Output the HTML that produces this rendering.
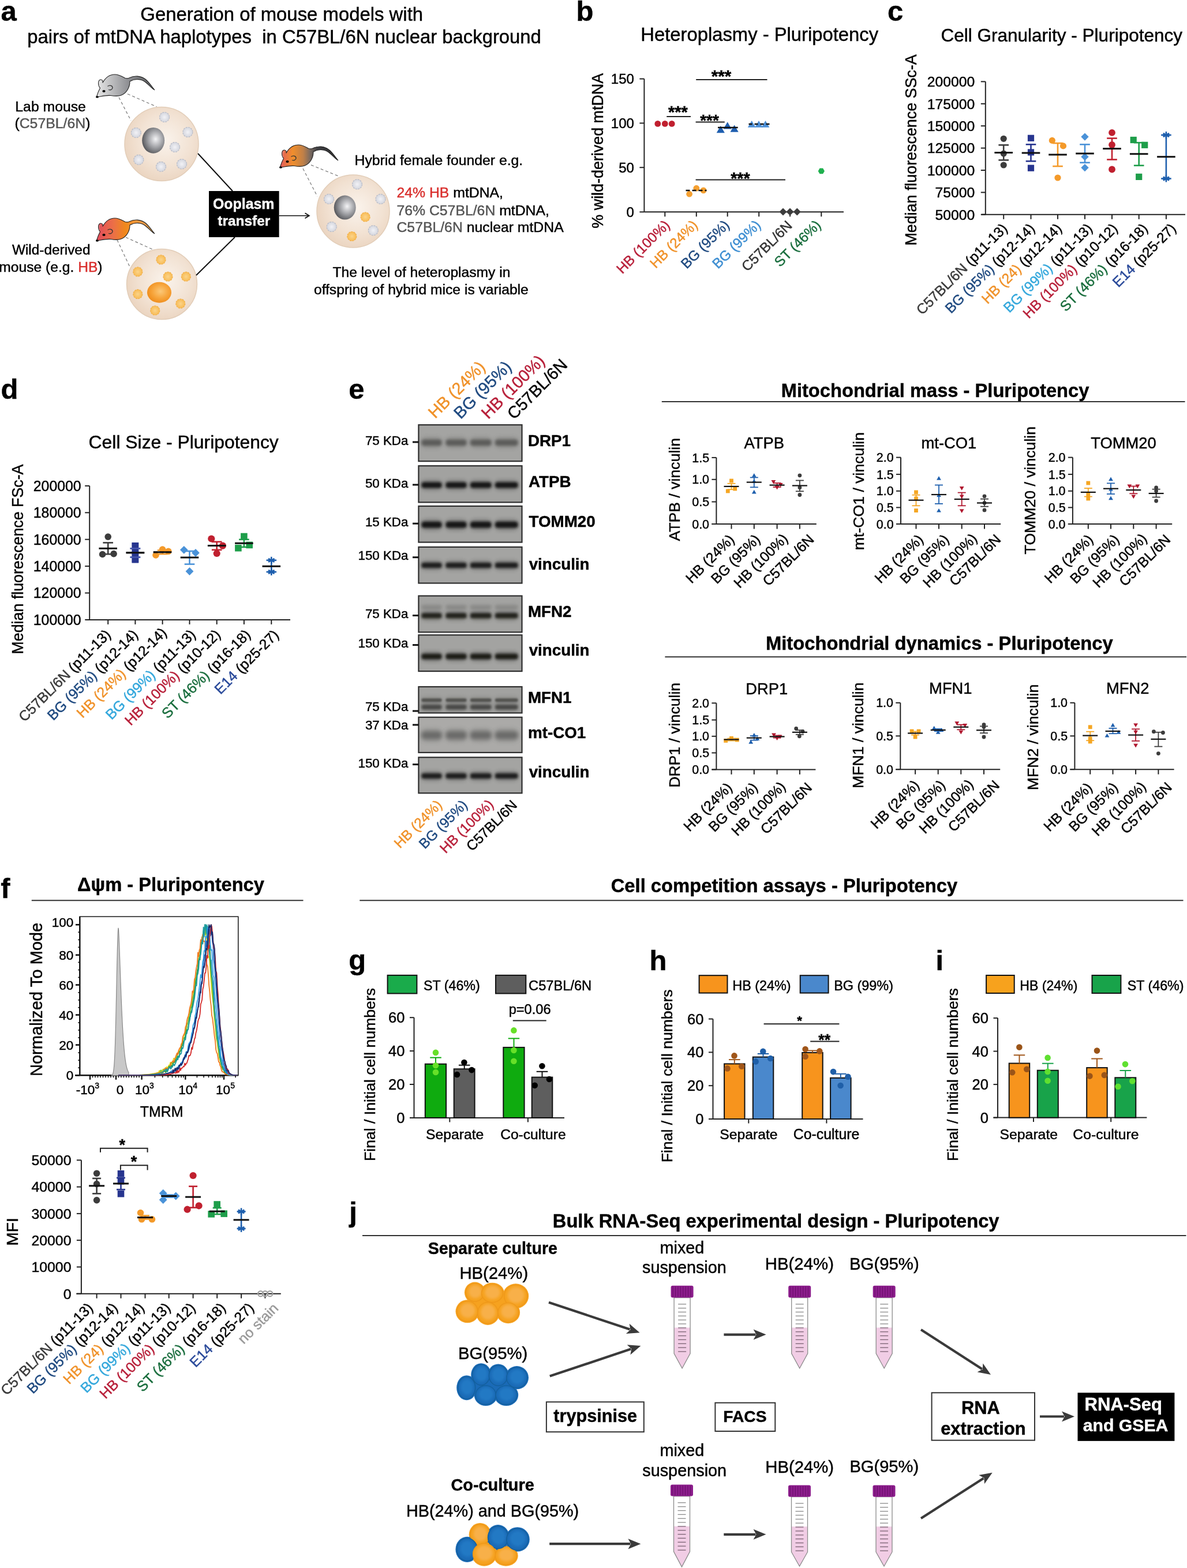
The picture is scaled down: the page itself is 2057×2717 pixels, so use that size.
<!DOCTYPE html>
<html><head><meta charset="utf-8"><title>Figure</title>
<style>
html,body{margin:0;padding:0;background:#fff;}
svg{display:block;}
svg text{font-family:"Liberation Sans", Arial, Helvetica, sans-serif;stroke-width:0.45px;}
</style></head>
<body>
<svg width="2057" height="2717" viewBox="0 0 2057 2717" font-family='"Liberation Sans", Arial, Helvetica, sans-serif'>
<rect width="2057" height="2717" fill="#fff"/>
<defs><linearGradient id="mouseGray" x1="0" y1="0" x2="1" y2="0"><stop offset="0" stop-color="#e8e8e8"/><stop offset="0.55" stop-color="#8e8f93"/><stop offset="1" stop-color="#5a5b5e"/></linearGradient><linearGradient id="mouseRed" x1="0" y1="0" x2="1" y2="0"><stop offset="0" stop-color="#e04a5c"/><stop offset="0.3" stop-color="#ec7046"/><stop offset="0.5" stop-color="#f0891c"/><stop offset="0.7" stop-color="#f4993e"/><stop offset="0.85" stop-color="#e49a4a"/><stop offset="1" stop-color="#a87838"/></linearGradient><linearGradient id="mouseHyb" x1="0" y1="0" x2="1" y2="0"><stop offset="0" stop-color="#e25a5e"/><stop offset="0.22" stop-color="#f08e2c"/><stop offset="0.4" stop-color="#c08048"/><stop offset="0.52" stop-color="#7a6a60"/><stop offset="0.64" stop-color="#404044"/><stop offset="1" stop-color="#2e2e2e"/></linearGradient><radialGradient id="cellG" cx="0.55" cy="0.45" r="0.6"><stop offset="0" stop-color="#faf3ec"/><stop offset="0.6" stop-color="#f2e2d3"/><stop offset="1" stop-color="#ead3be"/></radialGradient><radialGradient id="nucG" cx="0.6" cy="0.45" r="0.6"><stop offset="0" stop-color="#f4f4f6"/><stop offset="0.5" stop-color="#a7a8ac"/><stop offset="1" stop-color="#58595d"/></radialGradient><radialGradient id="nucO" cx="0.55" cy="0.45" r="0.6"><stop offset="0" stop-color="#fbc878"/><stop offset="0.55" stop-color="#f7a53c"/><stop offset="1" stop-color="#ee8a18"/></radialGradient><radialGradient id="mitoG" cx="0.5" cy="0.5" r="0.5"><stop offset="0" stop-color="#f2f2f6"/><stop offset="1" stop-color="#d4d6de"/></radialGradient><radialGradient id="mitoO" cx="0.5" cy="0.5" r="0.5"><stop offset="0" stop-color="#fbd48a"/><stop offset="1" stop-color="#f8bb55"/></radialGradient></defs>
<text x="1.43" y="35.80" font-size="49.00" font-weight="bold"  stroke="#000">a</text>
<text x="243.36" y="36.00" font-size="32.88"  stroke="#000">Generation of mouse models with</text>
<text x="47.37" y="74.60" font-size="32.84"  stroke="#000">pairs of mtDNA haplotypes  in C57BL/6N nuclear background</text>
<text x="26.36" y="192.50" font-size="24.76"  stroke="#000">Lab mouse</text>
<text x="25.45" y="222.00" font-size="24.82"  stroke="#000">(<tspan fill="#555" stroke="#555">C57BL/6N</tspan>)</text>
<text x="20.88" y="441.00" font-size="24.42"  stroke="#000">Wild-derived</text>
<text x="-1.66" y="471.00" font-size="24.61"  stroke="#000">mouse (e.g. <tspan fill="#d9302e" stroke="#d9302e">HB</tspan>)</text>
<line x1="206.0" y1="168.7" x2="226.9" y2="209.0" stroke="#777" stroke-width="1.2" stroke-dasharray="5 4"/>
<line x1="220.9" y1="162.7" x2="271.6" y2="185.0" stroke="#777" stroke-width="1.2" stroke-dasharray="5 4"/>
<line x1="203.0" y1="415.7" x2="225.4" y2="463.4" stroke="#777" stroke-width="1.2" stroke-dasharray="5 4"/>
<line x1="218.0" y1="411.2" x2="265.7" y2="432.7" stroke="#777" stroke-width="1.2" stroke-dasharray="5 4"/>
<line x1="525.0" y1="292.0" x2="549.9" y2="340.2" stroke="#777" stroke-width="1.2" stroke-dasharray="5 4"/>
<line x1="539.0" y1="285.9" x2="588.7" y2="306.0" stroke="#777" stroke-width="1.2" stroke-dasharray="5 4"/>
<g transform="translate(160,120)">
<path d="M7,48.5 C9,42 11,37 13.5,32.5 C9.5,28 9.5,19 14,18 C17,17.5 19,20 17.8,23.5 C23,14 30,9 39,9 C47,9 52,13 57,15.5 C61,16.5 63,15.5 64,15 C72,11 84,10 94,19 C99,24 104,31 108,36 C104,34 99,28 94,24 C86,16 74,16 65,21 C65,31 60,41 50,45 C44,47.5 38,46.5 32,45.5 C24,44.5 14,47.5 7,48.5 Z" fill="url(#mouseGray)" stroke="#222" stroke-width="1.1"/>
<path d="M12.5,30 C11,25 12,20.5 14.5,20.5" fill="none" stroke="#fff" stroke-opacity="0.35" stroke-width="1"/>
<ellipse cx="20" cy="38" rx="2.6" ry="2.1" fill="#000"/>
<ellipse cx="8.5" cy="48" rx="2.4" ry="1.8" fill="#000"/>
<path d="M26.5,29.5 C30,27 35,28 35,32 C35,35.5 31,36.5 28,35.5" fill="none" stroke="#333" stroke-width="1.3"/>
</g>
<g transform="translate(160,369)">
<path d="M7,48.5 C9,42 11,37 13.5,32.5 C9.5,28 9.5,19 14,18 C17,17.5 19,20 17.8,23.5 C23,14 30,9 39,9 C47,9 52,13 57,15.5 C61,16.5 63,15.5 64,15 C72,11 84,10 94,19 C99,24 104,31 108,36 C104,34 99,28 94,24 C86,16 74,16 65,21 C65,31 60,41 50,45 C44,47.5 38,46.5 32,45.5 C24,44.5 14,47.5 7,48.5 Z" fill="url(#mouseRed)" stroke="#222" stroke-width="1.1"/>
<path d="M12.5,30 C11,25 12,20.5 14.5,20.5" fill="none" stroke="#fff" stroke-opacity="0.35" stroke-width="1"/>
<ellipse cx="20" cy="38" rx="2.6" ry="2.1" fill="#000"/>
<ellipse cx="8.5" cy="48" rx="2.4" ry="1.8" fill="#000"/>
<path d="M26.5,29.5 C30,27 35,28 35,32 C35,35.5 31,36.5 28,35.5" fill="none" stroke="#333" stroke-width="1.3"/>
</g>
<g transform="translate(478,242)">
<path d="M7,48.5 C9,42 11,37 13.5,32.5 C9.5,28 9.5,19 14,18 C17,17.5 19,20 17.8,23.5 C23,14 30,9 39,9 C47,9 52,13 57,15.5 C61,16.5 63,15.5 64,15 C72,11 84,10 94,19 C99,24 104,31 108,36 C104,34 99,28 94,24 C86,16 74,16 65,21 C65,31 60,41 50,45 C44,47.5 38,46.5 32,45.5 C24,44.5 14,47.5 7,48.5 Z" fill="url(#mouseHyb)" stroke="#222" stroke-width="1.1"/>
<path d="M12.5,30 C11,25 12,20.5 14.5,20.5" fill="none" stroke="#fff" stroke-opacity="0.35" stroke-width="1"/>
<ellipse cx="20" cy="38" rx="2.6" ry="2.1" fill="#000"/>
<ellipse cx="8.5" cy="48" rx="2.4" ry="1.8" fill="#000"/>
<path d="M26.5,29.5 C30,27 35,28 35,32 C35,35.5 31,36.5 28,35.5" fill="none" stroke="#333" stroke-width="1.3"/>
</g>
<circle cx="280" cy="249.5" r="64" fill="url(#cellG)" stroke="#e2cdb8" stroke-width="1.5"/>
<ellipse cx="265.7" cy="243.3" rx="19.5" ry="22.4" fill="url(#nucG)"/>
<circle cx="285" cy="203" r="8.5" fill="url(#mitoG)" stroke="#b8bcc8" stroke-width="1.2" stroke-dasharray="3 1.5"/>
<circle cx="235.8" cy="230" r="8.5" fill="url(#mitoG)" stroke="#b8bcc8" stroke-width="1.2" stroke-dasharray="3 1.5"/>
<circle cx="325.4" cy="229" r="8.5" fill="url(#mitoG)" stroke="#b8bcc8" stroke-width="1.2" stroke-dasharray="3 1.5"/>
<circle cx="303" cy="255" r="8.5" fill="url(#mitoG)" stroke="#b8bcc8" stroke-width="1.2" stroke-dasharray="3 1.5"/>
<circle cx="240.3" cy="276.9" r="8.5" fill="url(#mitoG)" stroke="#b8bcc8" stroke-width="1.2" stroke-dasharray="3 1.5"/>
<circle cx="279" cy="288.8" r="8.5" fill="url(#mitoG)" stroke="#b8bcc8" stroke-width="1.2" stroke-dasharray="3 1.5"/>
<circle cx="315" cy="284.3" r="8.5" fill="url(#mitoG)" stroke="#b8bcc8" stroke-width="1.2" stroke-dasharray="3 1.5"/>
<circle cx="280.5" cy="492.5" r="61" fill="url(#cellG)" stroke="#e2cdb8" stroke-width="1.5"/>
<ellipse cx="276" cy="506.7" rx="21" ry="18" fill="url(#nucO)"/>
<circle cx="279" cy="450" r="8" fill="url(#mitoO)" stroke="#f2b048" stroke-width="1.2" stroke-dasharray="3 1.5"/>
<circle cx="238.8" cy="470.9" r="8" fill="url(#mitoO)" stroke="#f2b048" stroke-width="1.2" stroke-dasharray="3 1.5"/>
<circle cx="291" cy="479.3" r="8" fill="url(#mitoO)" stroke="#f2b048" stroke-width="1.2" stroke-dasharray="3 1.5"/>
<circle cx="322.4" cy="479.3" r="8" fill="url(#mitoO)" stroke="#f2b048" stroke-width="1.2" stroke-dasharray="3 1.5"/>
<circle cx="238.8" cy="509.7" r="8" fill="url(#mitoO)" stroke="#f2b048" stroke-width="1.2" stroke-dasharray="3 1.5"/>
<circle cx="312.8" cy="526.1" r="8" fill="url(#mitoO)" stroke="#f2b048" stroke-width="1.2" stroke-dasharray="3 1.5"/>
<circle cx="268.7" cy="538" r="8" fill="url(#mitoO)" stroke="#f2b048" stroke-width="1.2" stroke-dasharray="3 1.5"/>
<circle cx="612" cy="366" r="63" fill="url(#cellG)" stroke="#e2cdb8" stroke-width="1.5"/>
<ellipse cx="597.7" cy="359.6" rx="19" ry="21" fill="url(#nucG)"/>
<circle cx="619" cy="319.4" r="8.5" fill="url(#mitoG)" stroke="#b8bcc8" stroke-width="1.2" stroke-dasharray="3 1.5"/>
<circle cx="570" cy="344.9" r="8.5" fill="url(#mitoG)" stroke="#b8bcc8" stroke-width="1.2" stroke-dasharray="3 1.5"/>
<circle cx="659.5" cy="344.9" r="8.5" fill="url(#mitoG)" stroke="#b8bcc8" stroke-width="1.2" stroke-dasharray="3 1.5"/>
<circle cx="574.7" cy="393" r="8.5" fill="url(#mitoG)" stroke="#b8bcc8" stroke-width="1.2" stroke-dasharray="3 1.5"/>
<circle cx="646.8" cy="399.3" r="8.5" fill="url(#mitoG)" stroke="#b8bcc8" stroke-width="1.2" stroke-dasharray="3 1.5"/>
<circle cx="633.1" cy="376" r="8" fill="url(#mitoO)" stroke="#f2b048" stroke-width="1.2" stroke-dasharray="3 1.5"/>
<circle cx="609.8" cy="409.5" r="8" fill="url(#mitoO)" stroke="#f2b048" stroke-width="1.2" stroke-dasharray="3 1.5"/>
<line x1="343.0" y1="266.0" x2="403.0" y2="331.0" stroke="#111" stroke-width="2" />
<line x1="340.0" y1="477.0" x2="407.0" y2="411.0" stroke="#111" stroke-width="2" />
<rect x="362.0" y="331.0" width="121.6" height="80.0" fill="#000" />
<text x="369.00" y="362.00" font-size="24.90" font-weight="bold" fill="#fff"  stroke="#fff">Ooplasm</text>
<text x="377.29" y="391.30" font-size="24.45" font-weight="bold" fill="#fff"  stroke="#fff">transfer</text>
<line x1="483.6" y1="373.8" x2="535.0" y2="373.8" stroke="#111" stroke-width="1.6" />
<path d="M528.5,369.3 L535.8,373.8 L528.5,378.3" fill="none" stroke="#111" stroke-width="1.8"/>
<text x="614.56" y="286.00" font-size="24.75"  stroke="#000">Hybrid female founder e.g.</text>
<text x="687.46" y="342.40" font-size="24.79"  stroke="#000"><tspan fill="#d9302e" stroke="#d9302e">24% HB</tspan> mtDNA,</text>
<text x="687.46" y="373.00" font-size="24.79"  stroke="#000"><tspan fill="#555" stroke="#555">76% C57BL/6N</tspan> mtDNA,</text>
<text x="687.46" y="401.70" font-size="24.79"  stroke="#000"><tspan fill="#555" stroke="#555">C57BL/6N</tspan> nuclear mtDNA</text>
<text x="576.45" y="480.00" font-size="24.64"  stroke="#000">The level of heteroplasmy in</text>
<text x="543.95" y="509.50" font-size="24.64"  stroke="#000">offspring of hybrid mice is variable</text>
<text x="998.52" y="35.80" font-size="49.00" font-weight="bold"  stroke="#000">b</text>
<text x="1110.30" y="70.60" font-size="32.79"  stroke="#000">Heteroplasmy - Pluripotency</text>
<line x1="1116.4" y1="136.6" x2="1116.4" y2="367.3" stroke="#222" stroke-width="2" />
<line x1="1108.4" y1="136.6" x2="1116.4" y2="136.6" stroke="#222" stroke-width="2" />
<text x="1058.80" y="145.14" font-size="24.05" stroke="#000">150</text>
<line x1="1108.4" y1="213.4" x2="1116.4" y2="213.4" stroke="#222" stroke-width="2" />
<text x="1058.80" y="221.94" font-size="24.05" stroke="#000">100</text>
<line x1="1108.4" y1="290.2" x2="1116.4" y2="290.2" stroke="#222" stroke-width="2" />
<text x="1072.20" y="298.74" font-size="24.05" stroke="#000">50</text>
<line x1="1108.4" y1="367.3" x2="1116.4" y2="367.3" stroke="#222" stroke-width="2" />
<text x="1085.55" y="375.84" font-size="24.05" stroke="#000">0</text>
<line x1="1116.4" y1="367.3" x2="1462.0" y2="367.3" stroke="#222" stroke-width="2" />
<line x1="1152.3" y1="367.3" x2="1152.3" y2="375.3" stroke="#222" stroke-width="2" />
<line x1="1206.8" y1="367.3" x2="1206.8" y2="375.3" stroke="#222" stroke-width="2" />
<line x1="1260.7" y1="367.3" x2="1260.7" y2="375.3" stroke="#222" stroke-width="2" />
<line x1="1315.2" y1="367.3" x2="1315.2" y2="375.3" stroke="#222" stroke-width="2" />
<line x1="1369.1" y1="367.3" x2="1369.1" y2="375.3" stroke="#222" stroke-width="2" />
<line x1="1423.3" y1="367.3" x2="1423.3" y2="375.3" stroke="#222" stroke-width="2" />
<text transform="translate(1044.80,395.64) rotate(-90)" font-size="26.89" stroke="#000">% wild-derived mtDNA</text>
<circle cx="1139.8" cy="214.4" r="5.4" fill="#c0202f" />
<circle cx="1152.3" cy="214.4" r="5.4" fill="#c0202f" />
<circle cx="1164.2" cy="214.4" r="5.4" fill="#c0202f" />
<circle cx="1194.6" cy="336.2" r="5.4" fill="#f5a031" />
<circle cx="1206.8" cy="326.2" r="5.4" fill="#f5a031" />
<circle cx="1219.0" cy="329.9" r="5.4" fill="#f5a031" />
<line x1="1188.5" y1="330.0" x2="1224.5" y2="330.0" stroke="#111" stroke-width="2.4" stroke-dasharray="7 4"/>
<polygon points="1248.8,218.0 1255.9,230.3 1241.7,230.3" fill="#1f5fb0"/>
<polygon points="1260.7,211.2 1267.8,223.5 1253.6,223.5" fill="#1f5fb0"/>
<polygon points="1272.6,216.5 1279.7,228.8 1265.5,228.8" fill="#1f5fb0"/>
<line x1="1244.0" y1="221.0" x2="1278.7" y2="221.0" stroke="#111" stroke-width="2.4" />
<polygon points="1302.7,208.9 1309.6,220.8 1295.8,220.8" fill="#4d8fd6"/>
<polygon points="1315.0,208.9 1321.9,220.8 1308.1,220.8" fill="#4d8fd6"/>
<polygon points="1326.5,208.9 1333.4,220.8 1319.6,220.8" fill="#4d8fd6"/>
<line x1="1297.5" y1="215.0" x2="1333.5" y2="215.0" stroke="#111" stroke-width="2.4" stroke-dasharray="6 4"/>
<polygon points="1357.0,360.5 1363.5,367.0 1357.0,373.5 1350.5,367.0" fill="#3c3c3c"/>
<polygon points="1369.0,360.5 1375.5,367.0 1369.0,373.5 1362.5,367.0" fill="#3c3c3c"/>
<polygon points="1381.3,360.5 1387.8,367.0 1381.3,373.5 1374.8,367.0" fill="#3c3c3c"/>
<polygon points="1428.9,296.4 1426.1,301.2 1420.5,301.2 1417.7,296.4 1420.5,291.6 1426.1,291.6" fill="#1fb04e"/>
<line x1="1206.2" y1="138.0" x2="1329.5" y2="138.0" stroke="#222" stroke-width="2" />
<text x="1232.63" y="141.94" font-size="29.59" font-weight="bold"  stroke="#000">***</text>
<line x1="1155.3" y1="202.0" x2="1197.0" y2="202.0" stroke="#222" stroke-width="2" />
<text x="1157.93" y="203.57" font-size="28.90" font-weight="bold"  stroke="#000">***</text>
<line x1="1205.6" y1="211.4" x2="1255.8" y2="211.4" stroke="#222" stroke-width="2" />
<text x="1213.13" y="217.58" font-size="28.04" font-weight="bold"  stroke="#000">***</text>
<line x1="1205.6" y1="311.6" x2="1361.0" y2="311.6" stroke="#222" stroke-width="2" />
<text x="1266.13" y="318.61" font-size="28.82" font-weight="bold"  stroke="#000">***</text>
<text transform="translate(1162.11,391.56) rotate(-45)" font-size="24.25" text-anchor="end" stroke="#000"><tspan fill="#b8203a" stroke="#b8203a">HB (100%)</tspan></text>
<text transform="translate(1210.49,391.58) rotate(-45)" font-size="24.25" text-anchor="end" stroke="#000"><tspan fill="#f0922a" stroke="#f0922a">HB (24%)</tspan></text>
<text transform="translate(1265.40,391.57) rotate(-45)" font-size="24.25" text-anchor="end" stroke="#000"><tspan fill="#1f4a80" stroke="#1f4a80">BG (95%)</tspan></text>
<text transform="translate(1319.60,391.57) rotate(-45)" font-size="24.25" text-anchor="end" stroke="#000"><tspan fill="#3f8fd2" stroke="#3f8fd2">BG (99%)</tspan></text>
<text transform="translate(1374.24,392.45) rotate(-45)" font-size="24.25" text-anchor="end" stroke="#000"><tspan fill="#333" stroke="#333">C57BL/6N</tspan></text>
<text transform="translate(1423.90,391.57) rotate(-45)" font-size="24.25" text-anchor="end" stroke="#000"><tspan fill="#1a6e3e" stroke="#1a6e3e">ST (46%)</tspan></text>
<text x="1538.04" y="35.80" font-size="49.00" font-weight="bold"  stroke="#000">c</text>
<text x="1630.42" y="71.70" font-size="31.52"  stroke="#000">Cell Granularity - Pluripotency</text>
<line x1="1707.8" y1="141.4" x2="1707.8" y2="371.8" stroke="#222" stroke-width="2" />
<line x1="1699.8" y1="141.4" x2="1707.8" y2="141.4" stroke="#222" stroke-width="2" />
<text x="1606.76" y="150.18" font-size="24.73" stroke="#000">200000</text>
<line x1="1699.8" y1="179.8" x2="1707.8" y2="179.8" stroke="#222" stroke-width="2" />
<text x="1606.76" y="188.58" font-size="24.73" stroke="#000">175000</text>
<line x1="1699.8" y1="218.2" x2="1707.8" y2="218.2" stroke="#222" stroke-width="2" />
<text x="1606.76" y="226.98" font-size="24.73" stroke="#000">150000</text>
<line x1="1699.8" y1="256.6" x2="1707.8" y2="256.6" stroke="#222" stroke-width="2" />
<text x="1606.76" y="265.38" font-size="24.73" stroke="#000">125000</text>
<line x1="1699.8" y1="295.0" x2="1707.8" y2="295.0" stroke="#222" stroke-width="2" />
<text x="1606.76" y="303.78" font-size="24.73" stroke="#000">100000</text>
<line x1="1699.8" y1="333.4" x2="1707.8" y2="333.4" stroke="#222" stroke-width="2" />
<text x="1620.49" y="342.18" font-size="24.73" stroke="#000">75000</text>
<line x1="1699.8" y1="371.8" x2="1707.8" y2="371.8" stroke="#222" stroke-width="2" />
<text x="1620.49" y="380.58" font-size="24.73" stroke="#000">50000</text>
<line x1="1701.5" y1="371.8" x2="2054.0" y2="371.8" stroke="#222" stroke-width="2" />
<line x1="1739.2" y1="371.8" x2="1739.2" y2="379.8" stroke="#222" stroke-width="2" />
<line x1="1786.5" y1="371.8" x2="1786.5" y2="379.8" stroke="#222" stroke-width="2" />
<line x1="1833.0" y1="371.8" x2="1833.0" y2="379.8" stroke="#222" stroke-width="2" />
<line x1="1880.0" y1="371.8" x2="1880.0" y2="379.8" stroke="#222" stroke-width="2" />
<line x1="1927.0" y1="371.8" x2="1927.0" y2="379.8" stroke="#222" stroke-width="2" />
<line x1="1973.7" y1="371.8" x2="1973.7" y2="379.8" stroke="#222" stroke-width="2" />
<line x1="2020.9" y1="371.8" x2="2020.9" y2="379.8" stroke="#222" stroke-width="2" />
<line x1="1700.0" y1="371.8" x2="1708.0" y2="371.8" stroke="#222" stroke-width="2" />
<text transform="translate(1588.00,425.61) rotate(-90)" font-size="26.85" stroke="#000">Median fluorescence SSc-A</text>
<circle cx="1739.2" cy="240.3" r="5.6" fill="#3c3c3c" />
<circle cx="1739.2" cy="266.0" r="5.6" fill="#3c3c3c" />
<circle cx="1739.2" cy="286.0" r="5.6" fill="#3c3c3c" />
<line x1="1739.2" y1="251.3" x2="1739.2" y2="277.4" stroke="#3c3c3c" stroke-width="2.6" />
<line x1="1730.4" y1="251.3" x2="1748.0" y2="251.3" stroke="#3c3c3c" stroke-width="2.6" />
<line x1="1730.4" y1="277.4" x2="1748.0" y2="277.4" stroke="#3c3c3c" stroke-width="2.6" />
<line x1="1723.4" y1="264.5" x2="1755.0" y2="264.5" stroke="#111" stroke-width="3.0" />
<rect x="1780.9" y="233.7" width="11.2" height="11.2" fill="#27358f" />
<rect x="1780.9" y="258.3" width="11.2" height="11.2" fill="#27358f" />
<rect x="1780.9" y="285.6" width="11.2" height="11.2" fill="#27358f" />
<line x1="1786.5" y1="250.3" x2="1786.5" y2="279.3" stroke="#27358f" stroke-width="2.6" />
<line x1="1777.7" y1="250.3" x2="1795.3" y2="250.3" stroke="#27358f" stroke-width="2.6" />
<line x1="1777.7" y1="279.3" x2="1795.3" y2="279.3" stroke="#27358f" stroke-width="2.6" />
<line x1="1770.7" y1="265.1" x2="1802.3" y2="265.1" stroke="#111" stroke-width="3.0" />
<circle cx="1823.3" cy="243.4" r="5.6" fill="#f49a2a" />
<circle cx="1842.5" cy="252.9" r="5.6" fill="#f49a2a" />
<circle cx="1833.0" cy="308.0" r="5.6" fill="#f49a2a" />
<line x1="1833.0" y1="248.1" x2="1833.0" y2="288.1" stroke="#f49a2a" stroke-width="2.6" />
<line x1="1824.2" y1="248.1" x2="1841.8" y2="248.1" stroke="#f49a2a" stroke-width="2.6" />
<line x1="1824.2" y1="288.1" x2="1841.8" y2="288.1" stroke="#f49a2a" stroke-width="2.6" />
<line x1="1817.2" y1="268.0" x2="1848.8" y2="268.0" stroke="#111" stroke-width="3.0" />
<polygon points="1880.0,230.4 1886.7,237.1 1880.0,243.8 1873.3,237.1" fill="#4a92d8"/>
<polygon points="1880.0,265.1 1886.7,271.7 1880.0,278.3 1873.3,271.7" fill="#4a92d8"/>
<polygon points="1880.0,284.0 1886.7,290.6 1880.0,297.2 1873.3,290.6" fill="#4a92d8"/>
<line x1="1880.0" y1="250.3" x2="1880.0" y2="281.8" stroke="#4a92d8" stroke-width="2.6" />
<line x1="1871.2" y1="250.3" x2="1888.8" y2="250.3" stroke="#4a92d8" stroke-width="2.6" />
<line x1="1871.2" y1="281.8" x2="1888.8" y2="281.8" stroke="#4a92d8" stroke-width="2.6" />
<line x1="1864.2" y1="266.0" x2="1895.8" y2="266.0" stroke="#111" stroke-width="3.0" />
<circle cx="1927.0" cy="229.9" r="5.9" fill="#c0202f" />
<circle cx="1927.0" cy="251.0" r="5.9" fill="#c0202f" />
<circle cx="1927.0" cy="293.5" r="5.9" fill="#c0202f" />
<line x1="1927.0" y1="239.6" x2="1927.0" y2="276.5" stroke="#c0202f" stroke-width="2.6" />
<line x1="1918.2" y1="239.6" x2="1935.8" y2="239.6" stroke="#c0202f" stroke-width="2.6" />
<line x1="1918.2" y1="276.5" x2="1935.8" y2="276.5" stroke="#c0202f" stroke-width="2.6" />
<line x1="1911.2" y1="257.6" x2="1942.8" y2="257.6" stroke="#111" stroke-width="3.0" />
<rect x="1958.6" y="236.9" width="11.2" height="11.2" fill="#1e9e4a" />
<rect x="1978.1" y="245.7" width="11.2" height="11.2" fill="#1e9e4a" />
<rect x="1968.1" y="300.8" width="11.2" height="11.2" fill="#1e9e4a" />
<line x1="1973.7" y1="247.2" x2="1973.7" y2="286.8" stroke="#1e9e4a" stroke-width="2.6" />
<line x1="1964.9" y1="247.2" x2="1982.5" y2="247.2" stroke="#1e9e4a" stroke-width="2.6" />
<line x1="1964.9" y1="286.8" x2="1982.5" y2="286.8" stroke="#1e9e4a" stroke-width="2.6" />
<line x1="1957.9" y1="266.7" x2="1989.5" y2="266.7" stroke="#111" stroke-width="3.0" />
<line x1="2020.9" y1="228.0" x2="2020.9" y2="240.0" stroke="#1f60ae" stroke-width="2.6" />
<line x1="2026.1" y1="231.0" x2="2015.7" y2="237.0" stroke="#1f60ae" stroke-width="2.6" />
<line x1="2026.1" y1="237.0" x2="2015.7" y2="231.0" stroke="#1f60ae" stroke-width="2.6" />
<line x1="2014.9" y1="234.0" x2="2026.9" y2="234.0" stroke="#1f60ae" stroke-width="2.6" />
<line x1="2020.9" y1="303.5" x2="2020.9" y2="315.5" stroke="#1f60ae" stroke-width="2.6" />
<line x1="2026.1" y1="306.5" x2="2015.7" y2="312.5" stroke="#1f60ae" stroke-width="2.6" />
<line x1="2026.1" y1="312.5" x2="2015.7" y2="306.5" stroke="#1f60ae" stroke-width="2.6" />
<line x1="2014.9" y1="309.5" x2="2026.9" y2="309.5" stroke="#1f60ae" stroke-width="2.6" />
<line x1="2020.9" y1="234.0" x2="2020.9" y2="309.5" stroke="#1f60ae" stroke-width="2.6" />
<line x1="2012.1" y1="234.0" x2="2029.7" y2="234.0" stroke="#1f60ae" stroke-width="2.6" />
<line x1="2012.1" y1="309.5" x2="2029.7" y2="309.5" stroke="#1f60ae" stroke-width="2.6" />
<line x1="2005.1" y1="271.7" x2="2036.7" y2="271.7" stroke="#111" stroke-width="3.0" />
<text transform="translate(1747.21,397.48) rotate(-45)" font-size="24.57" text-anchor="end" stroke="#000"><tspan fill="#3a3a3a" stroke="#3a3a3a">C57BL/6N</tspan><tspan fill="#000" stroke="#000"> (p11-13)</tspan></text>
<text transform="translate(1794.72,397.47) rotate(-45)" font-size="24.57" text-anchor="end" stroke="#000"><tspan fill="#1f4a80" stroke="#1f4a80">BG (95%)</tspan><tspan fill="#000" stroke="#000"> (p12-14)</tspan></text>
<text transform="translate(1841.52,397.47) rotate(-45)" font-size="24.57" text-anchor="end" stroke="#000"><tspan fill="#f0922a" stroke="#f0922a">HB (24)</tspan><tspan fill="#000" stroke="#000"> (p12-14)</tspan></text>
<text transform="translate(1894.53,397.46) rotate(-45)" font-size="24.57" text-anchor="end" stroke="#000"><tspan fill="#35a8dc" stroke="#35a8dc">BG (99%)</tspan><tspan fill="#000" stroke="#000"> (p11-13)</tspan></text>
<text transform="translate(1938.23,397.47) rotate(-45)" font-size="24.57" text-anchor="end" stroke="#000"><tspan fill="#b8203a" stroke="#b8203a">HB (100%)</tspan><tspan fill="#000" stroke="#000"> (p10-12)</tspan></text>
<text transform="translate(1990.52,397.48) rotate(-45)" font-size="24.57" text-anchor="end" stroke="#000"><tspan fill="#1a6e3e" stroke="#1a6e3e">ST (46%)</tspan><tspan fill="#000" stroke="#000"> (p16-18)</tspan></text>
<text transform="translate(2039.50,397.49) rotate(-45)" font-size="24.57" text-anchor="end" stroke="#000"><tspan fill="#2a4a9a" stroke="#2a4a9a">E14</tspan><tspan fill="#000" stroke="#000"> (p25-27)</tspan></text>
<text x="1.44" y="691.20" font-size="49.00" font-weight="bold"  stroke="#000">d</text>
<text x="153.61" y="777.20" font-size="31.85"  stroke="#000">Cell Size - Pluripotency</text>
<line x1="155.2" y1="841.9" x2="155.2" y2="1073.9" stroke="#222" stroke-width="2" />
<line x1="147.2" y1="841.9" x2="155.2" y2="841.9" stroke="#222" stroke-width="2" />
<text x="57.76" y="850.72" font-size="24.85" stroke="#000">200000</text>
<line x1="147.2" y1="888.3" x2="155.2" y2="888.3" stroke="#222" stroke-width="2" />
<text x="57.76" y="897.12" font-size="24.85" stroke="#000">180000</text>
<line x1="147.2" y1="934.7" x2="155.2" y2="934.7" stroke="#222" stroke-width="2" />
<text x="57.76" y="943.52" font-size="24.85" stroke="#000">160000</text>
<line x1="147.2" y1="981.1" x2="155.2" y2="981.1" stroke="#222" stroke-width="2" />
<text x="57.76" y="989.92" font-size="24.85" stroke="#000">140000</text>
<line x1="147.2" y1="1027.5" x2="155.2" y2="1027.5" stroke="#222" stroke-width="2" />
<text x="57.76" y="1036.32" font-size="24.85" stroke="#000">120000</text>
<line x1="147.2" y1="1073.9" x2="155.2" y2="1073.9" stroke="#222" stroke-width="2" />
<text x="57.76" y="1082.72" font-size="24.85" stroke="#000">100000</text>
<line x1="149.0" y1="1073.9" x2="503.0" y2="1073.9" stroke="#222" stroke-width="2" />
<line x1="187.2" y1="1073.9" x2="187.2" y2="1081.9" stroke="#222" stroke-width="2" />
<line x1="234.4" y1="1073.9" x2="234.4" y2="1081.9" stroke="#222" stroke-width="2" />
<line x1="281.6" y1="1073.9" x2="281.6" y2="1081.9" stroke="#222" stroke-width="2" />
<line x1="328.5" y1="1073.9" x2="328.5" y2="1081.9" stroke="#222" stroke-width="2" />
<line x1="375.7" y1="1073.9" x2="375.7" y2="1081.9" stroke="#222" stroke-width="2" />
<line x1="422.9" y1="1073.9" x2="422.9" y2="1081.9" stroke="#222" stroke-width="2" />
<line x1="470.3" y1="1073.9" x2="470.3" y2="1081.9" stroke="#222" stroke-width="2" />
<text transform="translate(40.40,1133.51) rotate(-90)" font-size="26.79" stroke="#000">Median fluorescence FSc-A</text>
<circle cx="177.6" cy="960.5" r="5.8" fill="#3c3c3c" />
<circle cx="187.2" cy="930.1" r="5.8" fill="#3c3c3c" />
<circle cx="197.1" cy="959.6" r="5.8" fill="#3c3c3c" />
<line x1="187.2" y1="940.4" x2="187.2" y2="960.2" stroke="#3c3c3c" stroke-width="2.6" />
<line x1="178.4" y1="940.4" x2="196.0" y2="940.4" stroke="#3c3c3c" stroke-width="2.6" />
<line x1="178.4" y1="960.2" x2="196.0" y2="960.2" stroke="#3c3c3c" stroke-width="2.6" />
<line x1="171.4" y1="950.3" x2="203.0" y2="950.3" stroke="#111" stroke-width="3.0" />
<rect x="228.6" y="940.2" width="11.6" height="11.6" fill="#27358f" />
<rect x="228.6" y="951.9" width="11.6" height="11.6" fill="#27358f" />
<rect x="228.6" y="963.6" width="11.6" height="11.6" fill="#27358f" />
<line x1="234.4" y1="950.3" x2="234.4" y2="965.5" stroke="#27358f" stroke-width="2.6" />
<line x1="225.6" y1="950.3" x2="243.2" y2="950.3" stroke="#27358f" stroke-width="2.6" />
<line x1="225.6" y1="965.5" x2="243.2" y2="965.5" stroke="#27358f" stroke-width="2.6" />
<line x1="218.6" y1="957.7" x2="250.2" y2="957.7" stroke="#111" stroke-width="3.0" />
<rect x="228.6" y="940.0" width="11.6" height="35.4" fill="#27358f" />
<line x1="218.6" y1="957.7" x2="250.2" y2="957.7" stroke="#111" stroke-width="3.0" />
<line x1="225.6" y1="950.3" x2="243.2" y2="950.3" stroke="#4a5ab0" stroke-width="2.4" />
<line x1="225.6" y1="965.5" x2="243.2" y2="965.5" stroke="#4a5ab0" stroke-width="2.4" />
<circle cx="270.0" cy="962.0" r="5.8" fill="#f49a2a" />
<circle cx="281.6" cy="952.0" r="5.8" fill="#f49a2a" />
<circle cx="291.8" cy="955.3" r="5.8" fill="#f49a2a" />
<line x1="281.6" y1="953.5" x2="281.6" y2="960.0" stroke="#f49a2a" stroke-width="2.6" />
<line x1="272.8" y1="953.5" x2="290.4" y2="953.5" stroke="#f49a2a" stroke-width="2.6" />
<line x1="272.8" y1="960.0" x2="290.4" y2="960.0" stroke="#f49a2a" stroke-width="2.6" />
<line x1="265.8" y1="956.8" x2="297.4" y2="956.8" stroke="#111" stroke-width="3.0" />
<line x1="265.8" y1="956.8" x2="297.4" y2="956.8" stroke="#111" stroke-width="2.8" stroke-dasharray="7 4"/>
<polygon points="318.8,945.9 325.7,952.8 318.8,959.7 311.9,952.8" fill="#4a92d8"/>
<polygon points="339.0,951.1 345.9,958.0 339.0,964.9 332.1,958.0" fill="#4a92d8"/>
<polygon points="328.5,983.1 335.4,990.0 328.5,996.9 321.6,990.0" fill="#4a92d8"/>
<line x1="328.5" y1="955.0" x2="328.5" y2="977.6" stroke="#4a92d8" stroke-width="2.6" />
<line x1="319.7" y1="955.0" x2="337.3" y2="955.0" stroke="#4a92d8" stroke-width="2.6" />
<line x1="319.7" y1="977.6" x2="337.3" y2="977.6" stroke="#4a92d8" stroke-width="2.6" />
<line x1="312.7" y1="966.1" x2="344.3" y2="966.1" stroke="#111" stroke-width="3.0" />
<circle cx="366.3" cy="933.5" r="6.1" fill="#c0202f" />
<circle cx="385.9" cy="945.6" r="6.1" fill="#c0202f" />
<circle cx="375.7" cy="959.0" r="6.1" fill="#c0202f" />
<line x1="375.7" y1="938.8" x2="375.7" y2="952.8" stroke="#c0202f" stroke-width="2.6" />
<line x1="366.9" y1="938.8" x2="384.5" y2="938.8" stroke="#c0202f" stroke-width="2.6" />
<line x1="366.9" y1="952.8" x2="384.5" y2="952.8" stroke="#c0202f" stroke-width="2.6" />
<line x1="359.9" y1="945.6" x2="391.5" y2="945.6" stroke="#111" stroke-width="3.0" />
<rect x="417.1" y="923.7" width="11.6" height="11.6" fill="#1e9e4a" />
<rect x="407.1" y="943.9" width="11.6" height="11.6" fill="#1e9e4a" />
<rect x="426.4" y="938.6" width="11.6" height="11.6" fill="#1e9e4a" />
<line x1="422.9" y1="934.8" x2="422.9" y2="948.0" stroke="#1e9e4a" stroke-width="2.6" />
<line x1="414.1" y1="934.8" x2="431.7" y2="934.8" stroke="#1e9e4a" stroke-width="2.6" />
<line x1="414.1" y1="948.0" x2="431.7" y2="948.0" stroke="#1e9e4a" stroke-width="2.6" />
<line x1="407.1" y1="941.3" x2="438.7" y2="941.3" stroke="#111" stroke-width="3.0" />
<line x1="470.3" y1="964.8" x2="470.3" y2="976.8" stroke="#1f60ae" stroke-width="2.6" />
<line x1="475.5" y1="967.8" x2="465.1" y2="973.8" stroke="#1f60ae" stroke-width="2.6" />
<line x1="475.5" y1="973.8" x2="465.1" y2="967.8" stroke="#1f60ae" stroke-width="2.6" />
<line x1="464.3" y1="970.8" x2="476.3" y2="970.8" stroke="#1f60ae" stroke-width="2.6" />
<line x1="470.3" y1="985.0" x2="470.3" y2="997.0" stroke="#1f60ae" stroke-width="2.6" />
<line x1="475.5" y1="988.0" x2="465.1" y2="994.0" stroke="#1f60ae" stroke-width="2.6" />
<line x1="475.5" y1="994.0" x2="465.1" y2="988.0" stroke="#1f60ae" stroke-width="2.6" />
<line x1="464.3" y1="991.0" x2="476.3" y2="991.0" stroke="#1f60ae" stroke-width="2.6" />
<line x1="470.3" y1="970.8" x2="470.3" y2="991.0" stroke="#1f60ae" stroke-width="2.6" />
<line x1="461.5" y1="970.8" x2="479.1" y2="970.8" stroke="#1f60ae" stroke-width="2.6" />
<line x1="461.5" y1="991.0" x2="479.1" y2="991.0" stroke="#1f60ae" stroke-width="2.6" />
<line x1="454.5" y1="981.3" x2="486.1" y2="981.3" stroke="#111" stroke-width="3.0" />
<text transform="translate(193.41,1101.08) rotate(-45)" font-size="24.85" text-anchor="end" stroke="#000"><tspan fill="#3a3a3a" stroke="#3a3a3a">C57BL/6N</tspan><tspan fill="#000" stroke="#000"> (p11-13)</tspan></text>
<text transform="translate(240.72,1101.07) rotate(-45)" font-size="24.85" text-anchor="end" stroke="#000"><tspan fill="#1f4a80" stroke="#1f4a80">BG (95%)</tspan><tspan fill="#000" stroke="#000"> (p12-14)</tspan></text>
<text transform="translate(290.41,1097.78) rotate(-45)" font-size="24.85" text-anchor="end" stroke="#000"><tspan fill="#f0922a" stroke="#f0922a">HB (24%)</tspan><tspan fill="#000" stroke="#000"> (p12-14)</tspan></text>
<text transform="translate(340.44,1101.06) rotate(-45)" font-size="24.85" text-anchor="end" stroke="#000"><tspan fill="#35a8dc" stroke="#35a8dc">BG (99%)</tspan><tspan fill="#000" stroke="#000"> (p11-13)</tspan></text>
<text transform="translate(383.63,1101.06) rotate(-45)" font-size="24.85" text-anchor="end" stroke="#000"><tspan fill="#b8203a" stroke="#b8203a">HB (100%)</tspan><tspan fill="#000" stroke="#000"> (p10-12)</tspan></text>
<text transform="translate(435.72,1101.07) rotate(-45)" font-size="24.85" text-anchor="end" stroke="#000"><tspan fill="#1a6e3e" stroke="#1a6e3e">ST (46%)</tspan><tspan fill="#000" stroke="#000"> (p16-18)</tspan></text>
<text transform="translate(484.61,1101.59) rotate(-45)" font-size="24.85" text-anchor="end" stroke="#000"><tspan fill="#2a4a9a" stroke="#2a4a9a">E14</tspan><tspan fill="#000" stroke="#000"> (p25-27)</tspan></text>
<defs><filter id="bb18" x="-30%" y="-100%" width="160%" height="300%"><feGaussianBlur stdDeviation="1.8"/></filter><filter id="bb20" x="-30%" y="-100%" width="160%" height="300%"><feGaussianBlur stdDeviation="2.0"/></filter><filter id="bb22" x="-30%" y="-100%" width="160%" height="300%"><feGaussianBlur stdDeviation="2.2"/></filter><filter id="bb24" x="-30%" y="-100%" width="160%" height="300%"><feGaussianBlur stdDeviation="2.4"/></filter><filter id="bb35" x="-30%" y="-100%" width="160%" height="300%"><feGaussianBlur stdDeviation="3.5"/></filter></defs>
<text x="604.14" y="691.40" font-size="49.00" font-weight="bold"  stroke="#000">e</text>
<rect x="725.4" y="736.2" width="179.1" height="63.0" fill="#a4a4a2" />
<clipPath id="cl736"><rect x="725.4" y="736.2" width="179.1" height="63.0"/></clipPath>
<g clip-path="url(#cl736)">
<rect x="730.0" y="757.5" width="36.0" height="18.9" rx="8.4" fill="rgb(92,92,90)" opacity="0.28" filter="url(#bb35)"/>
<rect x="730.5" y="761.8" width="35.0" height="10.5" rx="4.2" fill="rgb(92,92,90)" filter="url(#bb24)"/>
<rect x="772.0" y="757.5" width="37.0" height="18.9" rx="8.4" fill="rgb(92,92,90)" opacity="0.28" filter="url(#bb35)"/>
<rect x="772.5" y="761.8" width="36.0" height="10.5" rx="4.2" fill="rgb(92,92,90)" filter="url(#bb24)"/>
<rect x="814.5" y="757.5" width="37.5" height="18.9" rx="8.4" fill="rgb(92,92,90)" opacity="0.28" filter="url(#bb35)"/>
<rect x="815.0" y="761.8" width="36.5" height="10.5" rx="4.2" fill="rgb(92,92,90)" filter="url(#bb24)"/>
<rect x="857.5" y="757.5" width="40.5" height="18.9" rx="8.4" fill="rgb(92,92,90)" opacity="0.28" filter="url(#bb35)"/>
<rect x="858.0" y="761.8" width="39.5" height="10.5" rx="4.2" fill="rgb(92,92,90)" filter="url(#bb24)"/>
</g>
<rect x="725.4" y="736.2" width="179.1" height="63.0" fill="none" stroke="#2e2e2e" stroke-width="2.2" />
<text x="914.93" y="773.00" font-size="27.76" font-weight="bold"  stroke="#000">DRP1</text>
<text x="632.88" y="770.80" font-size="22.36" stroke="#000">75 KDa</text>
<line x1="715.0" y1="766.0" x2="725.4" y2="766.0" stroke="#111" stroke-width="3" />
<rect x="725.4" y="807.2" width="179.1" height="63.2" fill="#a2a2a0" />
<clipPath id="cl807"><rect x="725.4" y="807.2" width="179.1" height="63.2"/></clipPath>
<g clip-path="url(#cl807)">
<rect x="730.0" y="832.0" width="36.0" height="17.1" rx="7.6" fill="rgb(20,20,18)" opacity="0.28" filter="url(#bb35)"/>
<rect x="730.5" y="835.8" width="35.0" height="9.5" rx="3.8" fill="rgb(20,20,18)" filter="url(#bb20)"/>
<rect x="772.0" y="832.0" width="37.0" height="17.1" rx="7.6" fill="rgb(20,20,18)" opacity="0.28" filter="url(#bb35)"/>
<rect x="772.5" y="835.8" width="36.0" height="9.5" rx="3.8" fill="rgb(20,20,18)" filter="url(#bb20)"/>
<rect x="814.5" y="832.0" width="37.5" height="17.1" rx="7.6" fill="rgb(20,20,18)" opacity="0.28" filter="url(#bb35)"/>
<rect x="815.0" y="835.8" width="36.5" height="9.5" rx="3.8" fill="rgb(20,20,18)" filter="url(#bb20)"/>
<rect x="857.5" y="832.0" width="40.5" height="17.1" rx="7.6" fill="rgb(20,20,18)" opacity="0.28" filter="url(#bb35)"/>
<rect x="858.0" y="835.8" width="39.5" height="9.5" rx="3.8" fill="rgb(20,20,18)" filter="url(#bb20)"/>
</g>
<rect x="725.4" y="807.2" width="179.1" height="63.2" fill="none" stroke="#2e2e2e" stroke-width="2.2" />
<text x="916.11" y="843.90" font-size="27.76" font-weight="bold"  stroke="#000">ATPB</text>
<text x="632.88" y="845.00" font-size="22.36" stroke="#000">50 KDa</text>
<line x1="715.0" y1="840.0" x2="725.4" y2="840.0" stroke="#111" stroke-width="3" />
<rect x="725.4" y="877.0" width="179.1" height="62.6" fill="#a4a4a2" />
<clipPath id="cl877"><rect x="725.4" y="877.0" width="179.1" height="62.6"/></clipPath>
<g clip-path="url(#cl877)">
<rect x="730.0" y="899.9" width="36.0" height="18.9" rx="8.4" fill="rgb(24,24,22)" opacity="0.28" filter="url(#bb35)"/>
<rect x="730.5" y="904.1" width="35.0" height="10.5" rx="4.2" fill="rgb(24,24,22)" filter="url(#bb20)"/>
<rect x="772.0" y="899.9" width="37.0" height="18.9" rx="8.4" fill="rgb(24,24,22)" opacity="0.28" filter="url(#bb35)"/>
<rect x="772.5" y="904.1" width="36.0" height="10.5" rx="4.2" fill="rgb(24,24,22)" filter="url(#bb20)"/>
<rect x="814.5" y="899.9" width="37.5" height="18.9" rx="8.4" fill="rgb(24,24,22)" opacity="0.28" filter="url(#bb35)"/>
<rect x="815.0" y="904.1" width="36.5" height="10.5" rx="4.2" fill="rgb(24,24,22)" filter="url(#bb20)"/>
<rect x="857.5" y="899.9" width="40.5" height="18.9" rx="8.4" fill="rgb(24,24,22)" opacity="0.28" filter="url(#bb35)"/>
<rect x="858.0" y="904.1" width="39.5" height="10.5" rx="4.2" fill="rgb(24,24,22)" filter="url(#bb20)"/>
</g>
<rect x="725.4" y="877.0" width="179.1" height="62.6" fill="none" stroke="#2e2e2e" stroke-width="2.2" />
<text x="916.52" y="913.00" font-size="27.76" font-weight="bold"  stroke="#000">TOMM20</text>
<text x="632.88" y="911.60" font-size="22.36" stroke="#000">15 KDa</text>
<line x1="715.0" y1="907.2" x2="725.4" y2="907.2" stroke="#111" stroke-width="3" />
<rect x="725.4" y="947.9" width="179.1" height="62.6" fill="#a4a4a2" />
<clipPath id="cl947"><rect x="725.4" y="947.9" width="179.1" height="62.6"/></clipPath>
<g clip-path="url(#cl947)">
<rect x="730.0" y="971.4" width="36.0" height="16.2" rx="7.2" fill="rgb(28,28,26)" opacity="0.28" filter="url(#bb35)"/>
<rect x="730.5" y="975.0" width="35.0" height="9.0" rx="3.6" fill="rgb(28,28,26)" filter="url(#bb20)"/>
<rect x="772.0" y="971.4" width="37.0" height="16.2" rx="7.2" fill="rgb(28,28,26)" opacity="0.28" filter="url(#bb35)"/>
<rect x="772.5" y="975.0" width="36.0" height="9.0" rx="3.6" fill="rgb(28,28,26)" filter="url(#bb20)"/>
<rect x="814.5" y="971.4" width="37.5" height="16.2" rx="7.2" fill="rgb(28,28,26)" opacity="0.28" filter="url(#bb35)"/>
<rect x="815.0" y="975.0" width="36.5" height="9.0" rx="3.6" fill="rgb(28,28,26)" filter="url(#bb20)"/>
<rect x="857.5" y="971.4" width="40.5" height="16.2" rx="7.2" fill="rgb(28,28,26)" opacity="0.28" filter="url(#bb35)"/>
<rect x="858.0" y="975.0" width="39.5" height="9.0" rx="3.6" fill="rgb(28,28,26)" filter="url(#bb20)"/>
</g>
<rect x="725.4" y="947.9" width="179.1" height="62.6" fill="none" stroke="#2e2e2e" stroke-width="2.2" />
<text x="916.66" y="986.90" font-size="27.76" font-weight="bold"  stroke="#000">vinculin</text>
<text x="620.47" y="970.40" font-size="22.36" stroke="#000">150 KDa</text>
<line x1="715.0" y1="965.7" x2="725.4" y2="965.7" stroke="#111" stroke-width="3" />
<rect x="725.4" y="1032.5" width="179.1" height="62.9" fill="#a4a4a2" />
<clipPath id="cl1032"><rect x="725.4" y="1032.5" width="179.1" height="62.9"/></clipPath>
<g clip-path="url(#cl1032)">
<rect x="730.0" y="1046.6" width="36.0" height="10.8" rx="4.8" fill="rgb(135,135,133)" opacity="0.28" filter="url(#bb35)"/>
<rect x="730.5" y="1049.0" width="35.0" height="6.0" rx="2.4" fill="rgb(135,135,133)" filter="url(#bb24)"/>
<rect x="772.0" y="1046.6" width="37.0" height="10.8" rx="4.8" fill="rgb(135,135,133)" opacity="0.28" filter="url(#bb35)"/>
<rect x="772.5" y="1049.0" width="36.0" height="6.0" rx="2.4" fill="rgb(135,135,133)" filter="url(#bb24)"/>
<rect x="814.5" y="1046.6" width="37.5" height="10.8" rx="4.8" fill="rgb(135,135,133)" opacity="0.28" filter="url(#bb35)"/>
<rect x="815.0" y="1049.0" width="36.5" height="6.0" rx="2.4" fill="rgb(135,135,133)" filter="url(#bb24)"/>
<rect x="857.5" y="1046.6" width="40.5" height="10.8" rx="4.8" fill="rgb(135,135,133)" opacity="0.28" filter="url(#bb35)"/>
<rect x="858.0" y="1049.0" width="39.5" height="6.0" rx="2.4" fill="rgb(135,135,133)" filter="url(#bb24)"/>
<rect x="730.0" y="1058.7" width="36.0" height="16.2" rx="7.2" fill="rgb(32,32,30)" opacity="0.28" filter="url(#bb35)"/>
<rect x="730.5" y="1062.3" width="35.0" height="9.0" rx="3.6" fill="rgb(32,32,30)" filter="url(#bb20)"/>
<rect x="772.0" y="1058.7" width="37.0" height="16.2" rx="7.2" fill="rgb(32,32,30)" opacity="0.28" filter="url(#bb35)"/>
<rect x="772.5" y="1062.3" width="36.0" height="9.0" rx="3.6" fill="rgb(32,32,30)" filter="url(#bb20)"/>
<rect x="814.5" y="1058.7" width="37.5" height="16.2" rx="7.2" fill="rgb(32,32,30)" opacity="0.28" filter="url(#bb35)"/>
<rect x="815.0" y="1062.3" width="36.5" height="9.0" rx="3.6" fill="rgb(32,32,30)" filter="url(#bb20)"/>
<rect x="857.5" y="1058.7" width="40.5" height="16.2" rx="7.2" fill="rgb(32,32,30)" opacity="0.28" filter="url(#bb35)"/>
<rect x="858.0" y="1062.3" width="39.5" height="9.0" rx="3.6" fill="rgb(32,32,30)" filter="url(#bb20)"/>
</g>
<rect x="725.4" y="1032.5" width="179.1" height="62.9" fill="none" stroke="#2e2e2e" stroke-width="2.2" />
<text x="914.93" y="1069.30" font-size="27.76" font-weight="bold"  stroke="#000">MFN2</text>
<text x="632.88" y="1071.00" font-size="22.36" stroke="#000">75 KDa</text>
<line x1="715.0" y1="1066.5" x2="725.4" y2="1066.5" stroke="#111" stroke-width="3" />
<rect x="725.4" y="1100.3" width="179.1" height="62.8" fill="#a3a3a1" />
<clipPath id="cl1100"><rect x="725.4" y="1100.3" width="179.1" height="62.8"/></clipPath>
<g clip-path="url(#cl1100)">
<rect x="730.0" y="1128.9" width="36.0" height="17.1" rx="7.6" fill="rgb(26,26,24)" opacity="0.28" filter="url(#bb35)"/>
<rect x="730.5" y="1132.7" width="35.0" height="9.5" rx="3.8" fill="rgb(26,26,24)" filter="url(#bb20)"/>
<rect x="772.0" y="1128.9" width="37.0" height="17.1" rx="7.6" fill="rgb(26,26,24)" opacity="0.28" filter="url(#bb35)"/>
<rect x="772.5" y="1132.7" width="36.0" height="9.5" rx="3.8" fill="rgb(26,26,24)" filter="url(#bb20)"/>
<rect x="814.5" y="1128.9" width="37.5" height="17.1" rx="7.6" fill="rgb(26,26,24)" opacity="0.28" filter="url(#bb35)"/>
<rect x="815.0" y="1132.7" width="36.5" height="9.5" rx="3.8" fill="rgb(26,26,24)" filter="url(#bb20)"/>
<rect x="857.5" y="1128.9" width="40.5" height="17.1" rx="7.6" fill="rgb(26,26,24)" opacity="0.28" filter="url(#bb35)"/>
<rect x="858.0" y="1132.7" width="39.5" height="9.5" rx="3.8" fill="rgb(26,26,24)" filter="url(#bb20)"/>
</g>
<rect x="725.4" y="1100.3" width="179.1" height="62.8" fill="none" stroke="#2e2e2e" stroke-width="2.2" />
<text x="916.66" y="1136.00" font-size="27.76" font-weight="bold"  stroke="#000">vinculin</text>
<text x="620.47" y="1122.30" font-size="22.36" stroke="#000">150 KDa</text>
<line x1="715.0" y1="1117.6" x2="725.4" y2="1117.6" stroke="#111" stroke-width="3" />
<rect x="725.4" y="1190.0" width="179.1" height="45.4" fill="#a2a2a0" />
<clipPath id="cl1190"><rect x="725.4" y="1190.0" width="179.1" height="45.4"/></clipPath>
<g clip-path="url(#cl1190)">
<rect x="730.0" y="1207.8" width="36.0" height="10.8" rx="4.8" fill="rgb(82,82,80)" opacity="0.28" filter="url(#bb35)"/>
<rect x="730.5" y="1210.2" width="35.0" height="6.0" rx="2.4" fill="rgb(82,82,80)" filter="url(#bb18)"/>
<rect x="772.0" y="1207.8" width="37.0" height="10.8" rx="4.8" fill="rgb(82,82,80)" opacity="0.28" filter="url(#bb35)"/>
<rect x="772.5" y="1210.2" width="36.0" height="6.0" rx="2.4" fill="rgb(82,82,80)" filter="url(#bb18)"/>
<rect x="814.5" y="1207.8" width="37.5" height="10.8" rx="4.8" fill="rgb(82,82,80)" opacity="0.28" filter="url(#bb35)"/>
<rect x="815.0" y="1210.2" width="36.5" height="6.0" rx="2.4" fill="rgb(82,82,80)" filter="url(#bb18)"/>
<rect x="857.5" y="1207.8" width="40.5" height="10.8" rx="4.8" fill="rgb(82,82,80)" opacity="0.28" filter="url(#bb35)"/>
<rect x="858.0" y="1210.2" width="39.5" height="6.0" rx="2.4" fill="rgb(82,82,80)" filter="url(#bb18)"/>
<rect x="730.0" y="1218.0" width="36.0" height="14.4" rx="6.4" fill="rgb(70,70,68)" opacity="0.28" filter="url(#bb35)"/>
<rect x="730.5" y="1221.2" width="35.0" height="8.0" rx="3.2" fill="rgb(70,70,68)" filter="url(#bb20)"/>
<rect x="772.0" y="1218.0" width="37.0" height="14.4" rx="6.4" fill="rgb(70,70,68)" opacity="0.28" filter="url(#bb35)"/>
<rect x="772.5" y="1221.2" width="36.0" height="8.0" rx="3.2" fill="rgb(70,70,68)" filter="url(#bb20)"/>
<rect x="814.5" y="1218.0" width="37.5" height="14.4" rx="6.4" fill="rgb(70,70,68)" opacity="0.28" filter="url(#bb35)"/>
<rect x="815.0" y="1221.2" width="36.5" height="8.0" rx="3.2" fill="rgb(70,70,68)" filter="url(#bb20)"/>
<rect x="857.5" y="1218.0" width="40.5" height="14.4" rx="6.4" fill="rgb(70,70,68)" opacity="0.28" filter="url(#bb35)"/>
<rect x="858.0" y="1221.2" width="39.5" height="8.0" rx="3.2" fill="rgb(70,70,68)" filter="url(#bb20)"/>
</g>
<rect x="725.4" y="1190.0" width="179.1" height="45.4" fill="none" stroke="#2e2e2e" stroke-width="2.2" />
<text x="914.93" y="1217.50" font-size="27.76" font-weight="bold"  stroke="#000">MFN1</text>
<text x="632.88" y="1231.80" font-size="22.36" stroke="#000">75 KDa</text>
<line x1="715.0" y1="1232.0" x2="725.4" y2="1232.0" stroke="#111" stroke-width="3" />
<rect x="725.4" y="1242.8" width="179.1" height="61.2" fill="#abaaa8" />
<clipPath id="cl1242"><rect x="725.4" y="1242.8" width="179.1" height="61.2"/></clipPath>
<g clip-path="url(#cl1242)">
<rect x="730.0" y="1262.3" width="36.0" height="23.4" rx="10.4" fill="rgb(105,105,103)" opacity="0.28" filter="url(#bb35)"/>
<rect x="730.5" y="1267.5" width="35.0" height="13.0" rx="5.2" fill="rgb(105,105,103)" filter="url(#bb35)"/>
<rect x="772.0" y="1262.3" width="37.0" height="23.4" rx="10.4" fill="rgb(105,105,103)" opacity="0.28" filter="url(#bb35)"/>
<rect x="772.5" y="1267.5" width="36.0" height="13.0" rx="5.2" fill="rgb(105,105,103)" filter="url(#bb35)"/>
<rect x="814.5" y="1262.3" width="37.5" height="23.4" rx="10.4" fill="rgb(105,105,103)" opacity="0.28" filter="url(#bb35)"/>
<rect x="815.0" y="1267.5" width="36.5" height="13.0" rx="5.2" fill="rgb(105,105,103)" filter="url(#bb35)"/>
<rect x="857.5" y="1262.3" width="40.5" height="23.4" rx="10.4" fill="rgb(105,105,103)" opacity="0.28" filter="url(#bb35)"/>
<rect x="858.0" y="1267.5" width="39.5" height="13.0" rx="5.2" fill="rgb(105,105,103)" filter="url(#bb35)"/>
</g>
<rect x="725.4" y="1242.8" width="179.1" height="61.2" fill="none" stroke="#2e2e2e" stroke-width="2.2" />
<text x="915.00" y="1278.70" font-size="27.76" font-weight="bold"  stroke="#000">mt-CO1</text>
<text x="632.88" y="1264.20" font-size="22.36" stroke="#000">37 KDa</text>
<line x1="715.0" y1="1256.0" x2="725.4" y2="1256.0" stroke="#111" stroke-width="3" />
<rect x="725.4" y="1312.3" width="179.1" height="62.0" fill="#a4a4a2" />
<clipPath id="cl1312"><rect x="725.4" y="1312.3" width="179.1" height="62.0"/></clipPath>
<g clip-path="url(#cl1312)">
<rect x="730.0" y="1336.5" width="36.0" height="16.2" rx="7.2" fill="rgb(28,28,26)" opacity="0.28" filter="url(#bb35)"/>
<rect x="730.5" y="1340.1" width="35.0" height="9.0" rx="3.6" fill="rgb(28,28,26)" filter="url(#bb20)"/>
<rect x="772.0" y="1336.5" width="37.0" height="16.2" rx="7.2" fill="rgb(28,28,26)" opacity="0.28" filter="url(#bb35)"/>
<rect x="772.5" y="1340.1" width="36.0" height="9.0" rx="3.6" fill="rgb(28,28,26)" filter="url(#bb20)"/>
<rect x="814.5" y="1336.5" width="37.5" height="16.2" rx="7.2" fill="rgb(28,28,26)" opacity="0.28" filter="url(#bb35)"/>
<rect x="815.0" y="1340.1" width="36.5" height="9.0" rx="3.6" fill="rgb(28,28,26)" filter="url(#bb20)"/>
<rect x="857.5" y="1336.5" width="40.5" height="16.2" rx="7.2" fill="rgb(28,28,26)" opacity="0.28" filter="url(#bb35)"/>
<rect x="858.0" y="1340.1" width="39.5" height="9.0" rx="3.6" fill="rgb(28,28,26)" filter="url(#bb20)"/>
</g>
<rect x="725.4" y="1312.3" width="179.1" height="62.0" fill="none" stroke="#2e2e2e" stroke-width="2.2" />
<text x="916.66" y="1347.40" font-size="27.76" font-weight="bold"  stroke="#000">vinculin</text>
<text x="620.47" y="1329.60" font-size="22.36" stroke="#000">150 KDa</text>
<line x1="715.0" y1="1324.6" x2="725.4" y2="1324.6" stroke="#111" stroke-width="3" />
<text transform="translate(754.01,726.24) rotate(-45)" font-size="28.89" stroke="#000"><tspan fill="#f0922a" stroke="#f0922a">HB (24%)</tspan></text>
<text transform="translate(798.31,727.14) rotate(-45)" font-size="28.89" stroke="#000"><tspan fill="#1f4a80" stroke="#1f4a80">BG (95%)</tspan></text>
<text transform="translate(846.01,727.14) rotate(-45)" font-size="28.89" stroke="#000"><tspan fill="#b8203a" stroke="#b8203a">HB (100%)</tspan></text>
<text transform="translate(890.75,728.30) rotate(-45)" font-size="28.89" stroke="#000"><tspan fill="#000" stroke="#000">C57BL/6N</tspan></text>
<text transform="translate(767.60,1396.32) rotate(-45)" font-size="24.36" text-anchor="end" stroke="#000"><tspan fill="#f0922a" stroke="#f0922a">HB (24%)</tspan></text>
<text transform="translate(811.61,1396.31) rotate(-45)" font-size="24.36" text-anchor="end" stroke="#000"><tspan fill="#1f4a80" stroke="#1f4a80">BG (95%)</tspan></text>
<text transform="translate(856.62,1395.50) rotate(-45)" font-size="24.36" text-anchor="end" stroke="#000"><tspan fill="#b8203a" stroke="#b8203a">HB (100%)</tspan></text>
<text transform="translate(897.45,1396.60) rotate(-45)" font-size="24.36" text-anchor="end" stroke="#000"><tspan fill="#000" stroke="#000">C57BL/6N</tspan></text>
<text x="1353.69" y="687.70" font-size="32.69" font-weight="bold"  stroke="#000">Mitochondrial mass - Pluripotency</text>
<line x1="1146.8" y1="696.1" x2="2053.5" y2="696.1" stroke="#333" stroke-width="2" />
<text x="1326.99" y="1126.30" font-size="32.72" font-weight="bold"  stroke="#000">Mitochondrial dynamics - Pluripotency</text>
<line x1="1152.4" y1="1138.2" x2="2056.0" y2="1138.2" stroke="#333" stroke-width="2" />
<line x1="1241.4" y1="792.9" x2="1241.4" y2="908.0" stroke="#222" stroke-width="2" />
<line x1="1233.4" y1="792.9" x2="1241.4" y2="792.9" stroke="#222" stroke-width="2" />
<text x="1199.30" y="800.50" font-size="21.41" stroke="#000">1.5</text>
<line x1="1233.4" y1="830.8" x2="1241.4" y2="830.8" stroke="#222" stroke-width="2" />
<text x="1199.24" y="838.40" font-size="21.41" stroke="#000">1.0</text>
<line x1="1233.4" y1="869.5" x2="1241.4" y2="869.5" stroke="#222" stroke-width="2" />
<text x="1199.30" y="877.10" font-size="21.41" stroke="#000">0.5</text>
<line x1="1233.4" y1="908.0" x2="1241.4" y2="908.0" stroke="#222" stroke-width="2" />
<text x="1199.24" y="915.60" font-size="21.41" stroke="#000">0.0</text>
<line x1="1233.4" y1="908.0" x2="1414.8" y2="908.0" stroke="#222" stroke-width="2" />
<line x1="1267.5" y1="908.0" x2="1267.5" y2="916.5" stroke="#222" stroke-width="2" />
<line x1="1306.8" y1="908.0" x2="1306.8" y2="916.5" stroke="#222" stroke-width="2" />
<line x1="1346.6" y1="908.0" x2="1346.6" y2="916.5" stroke="#222" stroke-width="2" />
<line x1="1385.9" y1="908.0" x2="1385.9" y2="916.5" stroke="#222" stroke-width="2" />
<text x="1289.58" y="776.60" font-size="27.35"  stroke="#000">ATPB</text>
<text transform="translate(1177.70,937.47) rotate(-90)" font-size="26.63" stroke="#000">ATPB / vinculin</text>
<rect x="1264.1" y="829.6" width="6.8" height="6.8" fill="#f5a623" />
<rect x="1257.9" y="847.6" width="6.8" height="6.8" fill="#f5a623" />
<rect x="1270.3" y="843.6" width="6.8" height="6.8" fill="#f5a623" />
<line x1="1267.5" y1="837.8" x2="1267.5" y2="848.2" stroke="#f5a623" stroke-width="1.8" />
<line x1="1260.5" y1="837.8" x2="1274.5" y2="837.8" stroke="#f5a623" stroke-width="1.8" />
<line x1="1260.5" y1="848.2" x2="1274.5" y2="848.2" stroke="#f5a623" stroke-width="1.8" />
<line x1="1254.5" y1="842.9" x2="1280.5" y2="842.9" stroke="#111" stroke-width="2.2" />
<polygon points="1306.8,820.1 1310.7,826.8 1302.9,826.8" fill="#1f60ae"/>
<polygon points="1306.8,829.9 1310.7,836.6 1302.9,836.6" fill="#1f60ae"/>
<polygon points="1306.8,848.7 1310.7,855.4 1302.9,855.4" fill="#1f60ae"/>
<line x1="1306.8" y1="827.4" x2="1306.8" y2="844.3" stroke="#1f60ae" stroke-width="1.8" />
<line x1="1299.8" y1="827.4" x2="1313.8" y2="827.4" stroke="#1f60ae" stroke-width="1.8" />
<line x1="1299.8" y1="844.3" x2="1313.8" y2="844.3" stroke="#1f60ae" stroke-width="1.8" />
<line x1="1293.8" y1="835.6" x2="1319.8" y2="835.6" stroke="#111" stroke-width="2.2" />
<polygon points="1340.4,838.7 1344.3,832.0 1336.5,832.0" fill="#b0182f"/>
<polygon points="1352.8,843.7 1356.7,837.0 1348.9,837.0" fill="#b0182f"/>
<polygon points="1346.6,848.5 1350.5,841.8 1342.7,841.8" fill="#b0182f"/>
<line x1="1346.6" y1="837.0" x2="1346.6" y2="844.0" stroke="#b0182f" stroke-width="1.8" />
<line x1="1339.6" y1="837.0" x2="1353.6" y2="837.0" stroke="#b0182f" stroke-width="1.8" />
<line x1="1339.6" y1="844.0" x2="1353.6" y2="844.0" stroke="#b0182f" stroke-width="1.8" />
<line x1="1333.6" y1="840.6" x2="1359.6" y2="840.6" stroke="#111" stroke-width="2.2" />
<circle cx="1385.9" cy="823.8" r="3.4" fill="#3c3c3c" />
<circle cx="1385.9" cy="844.8" r="3.4" fill="#3c3c3c" />
<circle cx="1385.9" cy="857.5" r="3.4" fill="#3c3c3c" />
<line x1="1385.9" y1="832.5" x2="1385.9" y2="851.3" stroke="#3c3c3c" stroke-width="1.8" />
<line x1="1378.9" y1="832.5" x2="1392.9" y2="832.5" stroke="#3c3c3c" stroke-width="1.8" />
<line x1="1378.9" y1="851.3" x2="1392.9" y2="851.3" stroke="#3c3c3c" stroke-width="1.8" />
<line x1="1372.9" y1="841.5" x2="1398.9" y2="841.5" stroke="#111" stroke-width="2.2" />
<text transform="translate(1274.00,936.32) rotate(-45)" font-size="24.66" text-anchor="end" stroke="#000"><tspan fill="#000" stroke="#000">HB (24%)</tspan></text>
<text transform="translate(1318.91,936.31) rotate(-45)" font-size="24.66" text-anchor="end" stroke="#000"><tspan fill="#000" stroke="#000">BG (95%)</tspan></text>
<text transform="translate(1366.92,934.90) rotate(-45)" font-size="24.66" text-anchor="end" stroke="#000"><tspan fill="#000" stroke="#000">HB (100%)</tspan></text>
<text transform="translate(1412.16,936.33) rotate(-45)" font-size="24.66" text-anchor="end" stroke="#000"><tspan fill="#000" stroke="#000">C57BL/6N</tspan></text>
<line x1="1561.0" y1="792.6" x2="1561.0" y2="908.0" stroke="#222" stroke-width="2" />
<line x1="1553.0" y1="792.6" x2="1561.0" y2="792.6" stroke="#222" stroke-width="2" />
<text x="1518.84" y="800.20" font-size="21.41" stroke="#000">2.0</text>
<line x1="1553.0" y1="821.9" x2="1561.0" y2="821.9" stroke="#222" stroke-width="2" />
<text x="1518.90" y="829.50" font-size="21.41" stroke="#000">1.5</text>
<line x1="1553.0" y1="850.8" x2="1561.0" y2="850.8" stroke="#222" stroke-width="2" />
<text x="1518.84" y="858.40" font-size="21.41" stroke="#000">1.0</text>
<line x1="1553.0" y1="879.4" x2="1561.0" y2="879.4" stroke="#222" stroke-width="2" />
<text x="1518.90" y="887.00" font-size="21.41" stroke="#000">0.5</text>
<line x1="1553.0" y1="908.0" x2="1561.0" y2="908.0" stroke="#222" stroke-width="2" />
<text x="1518.84" y="915.60" font-size="21.41" stroke="#000">0.0</text>
<line x1="1553.0" y1="908.0" x2="1734.2" y2="908.0" stroke="#222" stroke-width="2" />
<line x1="1587.5" y1="908.0" x2="1587.5" y2="916.5" stroke="#222" stroke-width="2" />
<line x1="1627.0" y1="908.0" x2="1627.0" y2="916.5" stroke="#222" stroke-width="2" />
<line x1="1666.7" y1="908.0" x2="1666.7" y2="916.5" stroke="#222" stroke-width="2" />
<line x1="1706.0" y1="908.0" x2="1706.0" y2="916.5" stroke="#222" stroke-width="2" />
<text x="1596.56" y="777.10" font-size="27.35"  stroke="#000">mt-CO1</text>
<text transform="translate(1497.20,953.15) rotate(-90)" font-size="26.63" stroke="#000">mt-CO1 / vinculin</text>
<rect x="1584.1" y="849.5" width="6.8" height="6.8" fill="#f5a623" />
<rect x="1584.1" y="860.5" width="6.8" height="6.8" fill="#f5a623" />
<rect x="1584.1" y="881.2" width="6.8" height="6.8" fill="#f5a623" />
<line x1="1587.5" y1="857.7" x2="1587.5" y2="876.3" stroke="#f5a623" stroke-width="1.8" />
<line x1="1580.5" y1="857.7" x2="1594.5" y2="857.7" stroke="#f5a623" stroke-width="1.8" />
<line x1="1580.5" y1="876.3" x2="1594.5" y2="876.3" stroke="#f5a623" stroke-width="1.8" />
<line x1="1574.5" y1="866.7" x2="1600.5" y2="866.7" stroke="#111" stroke-width="2.2" />
<polygon points="1627.0,825.1 1630.9,831.8 1623.1,831.8" fill="#1f60ae"/>
<polygon points="1627.0,854.3 1630.9,861.0 1623.1,861.0" fill="#1f60ae"/>
<polygon points="1627.0,880.9 1630.9,887.6 1623.1,887.6" fill="#1f60ae"/>
<line x1="1627.0" y1="840.5" x2="1627.0" y2="872.9" stroke="#1f60ae" stroke-width="1.8" />
<line x1="1620.0" y1="840.5" x2="1634.0" y2="840.5" stroke="#1f60ae" stroke-width="1.8" />
<line x1="1620.0" y1="872.9" x2="1634.0" y2="872.9" stroke="#1f60ae" stroke-width="1.8" />
<line x1="1614.0" y1="857.0" x2="1640.0" y2="857.0" stroke="#111" stroke-width="2.2" />
<polygon points="1666.7,849.7 1670.6,843.0 1662.8,843.0" fill="#b0182f"/>
<polygon points="1666.7,864.2 1670.6,857.5 1662.8,857.5" fill="#b0182f"/>
<polygon points="1666.7,889.0 1670.6,882.3 1662.8,882.3" fill="#b0182f"/>
<line x1="1666.7" y1="853.6" x2="1666.7" y2="876.3" stroke="#b0182f" stroke-width="1.8" />
<line x1="1659.7" y1="853.6" x2="1673.7" y2="853.6" stroke="#b0182f" stroke-width="1.8" />
<line x1="1659.7" y1="876.3" x2="1673.7" y2="876.3" stroke="#b0182f" stroke-width="1.8" />
<line x1="1653.7" y1="865.0" x2="1679.7" y2="865.0" stroke="#111" stroke-width="2.2" />
<circle cx="1706.0" cy="859.8" r="3.4" fill="#3c3c3c" />
<circle cx="1706.0" cy="871.5" r="3.4" fill="#3c3c3c" />
<circle cx="1706.0" cy="883.9" r="3.4" fill="#3c3c3c" />
<line x1="1706.0" y1="864.6" x2="1706.0" y2="877.7" stroke="#3c3c3c" stroke-width="1.8" />
<line x1="1699.0" y1="864.6" x2="1713.0" y2="864.6" stroke="#3c3c3c" stroke-width="1.8" />
<line x1="1699.0" y1="877.7" x2="1713.0" y2="877.7" stroke="#3c3c3c" stroke-width="1.8" />
<line x1="1693.0" y1="871.5" x2="1719.0" y2="871.5" stroke="#111" stroke-width="2.2" />
<text transform="translate(1601.60,936.32) rotate(-45)" font-size="24.66" text-anchor="end" stroke="#000"><tspan fill="#000" stroke="#000">HB (24%)</tspan></text>
<text transform="translate(1646.01,936.31) rotate(-45)" font-size="24.66" text-anchor="end" stroke="#000"><tspan fill="#000" stroke="#000">BG (95%)</tspan></text>
<text transform="translate(1694.82,934.60) rotate(-45)" font-size="24.66" text-anchor="end" stroke="#000"><tspan fill="#000" stroke="#000">HB (100%)</tspan></text>
<text transform="translate(1735.76,936.33) rotate(-45)" font-size="24.66" text-anchor="end" stroke="#000"><tspan fill="#000" stroke="#000">C57BL/6N</tspan></text>
<line x1="1858.9" y1="792.6" x2="1858.9" y2="908.0" stroke="#222" stroke-width="2" />
<line x1="1850.9" y1="792.6" x2="1858.9" y2="792.6" stroke="#222" stroke-width="2" />
<text x="1816.74" y="800.20" font-size="21.41" stroke="#000">2.0</text>
<line x1="1850.9" y1="821.9" x2="1858.9" y2="821.9" stroke="#222" stroke-width="2" />
<text x="1816.80" y="829.50" font-size="21.41" stroke="#000">1.5</text>
<line x1="1850.9" y1="850.8" x2="1858.9" y2="850.8" stroke="#222" stroke-width="2" />
<text x="1816.74" y="858.40" font-size="21.41" stroke="#000">1.0</text>
<line x1="1850.9" y1="879.4" x2="1858.9" y2="879.4" stroke="#222" stroke-width="2" />
<text x="1816.80" y="887.00" font-size="21.41" stroke="#000">0.5</text>
<line x1="1850.9" y1="908.0" x2="1858.9" y2="908.0" stroke="#222" stroke-width="2" />
<text x="1816.74" y="915.60" font-size="21.41" stroke="#000">0.0</text>
<line x1="1850.9" y1="908.0" x2="2031.2" y2="908.0" stroke="#222" stroke-width="2" />
<line x1="1885.8" y1="908.0" x2="1885.8" y2="916.5" stroke="#222" stroke-width="2" />
<line x1="1925.0" y1="908.0" x2="1925.0" y2="916.5" stroke="#222" stroke-width="2" />
<line x1="1964.3" y1="908.0" x2="1964.3" y2="916.5" stroke="#222" stroke-width="2" />
<line x1="2003.6" y1="908.0" x2="2003.6" y2="916.5" stroke="#222" stroke-width="2" />
<text x="1890.29" y="777.10" font-size="27.35"  stroke="#000">TOMM20</text>
<text transform="translate(1794.20,960.40) rotate(-90)" font-size="26.63" stroke="#000">TOMM20 / vinculin</text>
<rect x="1882.4" y="833.6" width="6.8" height="6.8" fill="#f5a623" />
<rect x="1882.4" y="853.6" width="6.8" height="6.8" fill="#f5a623" />
<rect x="1882.4" y="860.6" width="6.8" height="6.8" fill="#f5a623" />
<line x1="1885.8" y1="846.0" x2="1885.8" y2="860.5" stroke="#f5a623" stroke-width="1.8" />
<line x1="1878.8" y1="846.0" x2="1892.8" y2="846.0" stroke="#f5a623" stroke-width="1.8" />
<line x1="1878.8" y1="860.5" x2="1892.8" y2="860.5" stroke="#f5a623" stroke-width="1.8" />
<line x1="1872.8" y1="852.9" x2="1898.8" y2="852.9" stroke="#111" stroke-width="2.2" />
<polygon points="1925.0,826.5 1928.9,833.2 1921.1,833.2" fill="#1f60ae"/>
<polygon points="1925.0,843.7 1928.9,850.4 1921.1,850.4" fill="#1f60ae"/>
<polygon points="1925.0,859.5 1928.9,866.2 1921.1,866.2" fill="#1f60ae"/>
<line x1="1925.0" y1="837.4" x2="1925.0" y2="856.0" stroke="#1f60ae" stroke-width="1.8" />
<line x1="1918.0" y1="837.4" x2="1932.0" y2="837.4" stroke="#1f60ae" stroke-width="1.8" />
<line x1="1918.0" y1="856.0" x2="1932.0" y2="856.0" stroke="#1f60ae" stroke-width="1.8" />
<line x1="1912.0" y1="846.7" x2="1938.0" y2="846.7" stroke="#111" stroke-width="2.2" />
<polygon points="1957.3,846.2 1961.2,839.5 1953.4,839.5" fill="#b0182f"/>
<polygon points="1971.3,846.2 1975.2,839.5 1967.4,839.5" fill="#b0182f"/>
<polygon points="1964.3,864.2 1968.2,857.5 1960.4,857.5" fill="#b0182f"/>
<line x1="1964.3" y1="842.5" x2="1964.3" y2="855.3" stroke="#b0182f" stroke-width="1.8" />
<line x1="1957.3" y1="842.5" x2="1971.3" y2="842.5" stroke="#b0182f" stroke-width="1.8" />
<line x1="1957.3" y1="855.3" x2="1971.3" y2="855.3" stroke="#b0182f" stroke-width="1.8" />
<line x1="1951.3" y1="849.1" x2="1977.3" y2="849.1" stroke="#111" stroke-width="2.2" />
<circle cx="2003.6" cy="845.0" r="3.4" fill="#3c3c3c" />
<circle cx="2003.6" cy="850.8" r="3.4" fill="#3c3c3c" />
<circle cx="2003.6" cy="868.0" r="3.4" fill="#3c3c3c" />
<line x1="2003.6" y1="847.7" x2="2003.6" y2="861.5" stroke="#3c3c3c" stroke-width="1.8" />
<line x1="1996.6" y1="847.7" x2="2010.6" y2="847.7" stroke="#3c3c3c" stroke-width="1.8" />
<line x1="1996.6" y1="861.5" x2="2010.6" y2="861.5" stroke="#3c3c3c" stroke-width="1.8" />
<line x1="1990.6" y1="855.0" x2="2016.6" y2="855.0" stroke="#111" stroke-width="2.2" />
<text transform="translate(1895.90,936.32) rotate(-45)" font-size="24.66" text-anchor="end" stroke="#000"><tspan fill="#000" stroke="#000">HB (24%)</tspan></text>
<text transform="translate(1941.01,936.31) rotate(-45)" font-size="24.66" text-anchor="end" stroke="#000"><tspan fill="#000" stroke="#000">BG (95%)</tspan></text>
<text transform="translate(1989.02,934.60) rotate(-45)" font-size="24.66" text-anchor="end" stroke="#000"><tspan fill="#000" stroke="#000">HB (100%)</tspan></text>
<text transform="translate(2029.96,936.73) rotate(-45)" font-size="24.66" text-anchor="end" stroke="#000"><tspan fill="#000" stroke="#000">C57BL/6N</tspan></text>
<line x1="1241.4" y1="1218.3" x2="1241.4" y2="1333.4" stroke="#222" stroke-width="2" />
<line x1="1233.4" y1="1218.3" x2="1241.4" y2="1218.3" stroke="#222" stroke-width="2" />
<text x="1199.24" y="1225.90" font-size="21.41" stroke="#000">2.0</text>
<line x1="1233.4" y1="1247.5" x2="1241.4" y2="1247.5" stroke="#222" stroke-width="2" />
<text x="1199.30" y="1255.10" font-size="21.41" stroke="#000">1.5</text>
<line x1="1233.4" y1="1275.8" x2="1241.4" y2="1275.8" stroke="#222" stroke-width="2" />
<text x="1199.24" y="1283.40" font-size="21.41" stroke="#000">1.0</text>
<line x1="1233.4" y1="1304.5" x2="1241.4" y2="1304.5" stroke="#222" stroke-width="2" />
<text x="1199.30" y="1312.10" font-size="21.41" stroke="#000">0.5</text>
<line x1="1233.4" y1="1333.4" x2="1241.4" y2="1333.4" stroke="#222" stroke-width="2" />
<text x="1199.24" y="1341.00" font-size="21.41" stroke="#000">0.0</text>
<line x1="1233.4" y1="1333.4" x2="1413.4" y2="1333.4" stroke="#222" stroke-width="2" />
<line x1="1267.5" y1="1333.4" x2="1267.5" y2="1341.9" stroke="#222" stroke-width="2" />
<line x1="1306.8" y1="1333.4" x2="1306.8" y2="1341.9" stroke="#222" stroke-width="2" />
<line x1="1346.6" y1="1333.4" x2="1346.6" y2="1341.9" stroke="#222" stroke-width="2" />
<line x1="1385.9" y1="1333.4" x2="1385.9" y2="1341.9" stroke="#222" stroke-width="2" />
<text x="1292.24" y="1202.60" font-size="27.35"  stroke="#000">DRP1</text>
<text transform="translate(1177.70,1364.86) rotate(-90)" font-size="26.63" stroke="#000">DRP1 / vinculin</text>
<rect x="1254.3" y="1280.0" width="6.8" height="6.8" fill="#f5a623" />
<rect x="1264.1" y="1275.8" width="6.8" height="6.8" fill="#f5a623" />
<rect x="1273.9" y="1278.6" width="6.8" height="6.8" fill="#f5a623" />
<line x1="1267.5" y1="1279.5" x2="1267.5" y2="1283.5" stroke="#f5a623" stroke-width="1.8" />
<line x1="1260.5" y1="1279.5" x2="1274.5" y2="1279.5" stroke="#f5a623" stroke-width="1.8" />
<line x1="1260.5" y1="1283.5" x2="1274.5" y2="1283.5" stroke="#f5a623" stroke-width="1.8" />
<line x1="1254.5" y1="1281.5" x2="1280.5" y2="1281.5" stroke="#111" stroke-width="2.2" />
<polygon points="1301.2,1282.0 1305.1,1288.7 1297.3,1288.7" fill="#1f60ae"/>
<polygon points="1306.8,1269.9 1310.7,1276.6 1302.9,1276.6" fill="#1f60ae"/>
<polygon points="1312.4,1276.1 1316.3,1282.8 1308.5,1282.8" fill="#1f60ae"/>
<line x1="1306.8" y1="1275.0" x2="1306.8" y2="1282.6" stroke="#1f60ae" stroke-width="1.8" />
<line x1="1299.8" y1="1275.0" x2="1313.8" y2="1275.0" stroke="#1f60ae" stroke-width="1.8" />
<line x1="1299.8" y1="1282.6" x2="1313.8" y2="1282.6" stroke="#1f60ae" stroke-width="1.8" />
<line x1="1293.8" y1="1278.6" x2="1319.8" y2="1278.6" stroke="#111" stroke-width="2.2" />
<polygon points="1341.0,1277.3 1344.9,1270.6 1337.1,1270.6" fill="#b0182f"/>
<polygon points="1346.6,1282.9 1350.5,1276.2 1342.7,1276.2" fill="#b0182f"/>
<polygon points="1351.7,1280.1 1355.6,1273.4 1347.8,1273.4" fill="#b0182f"/>
<line x1="1346.6" y1="1274.5" x2="1346.6" y2="1278.5" stroke="#b0182f" stroke-width="1.8" />
<line x1="1339.6" y1="1274.5" x2="1353.6" y2="1274.5" stroke="#b0182f" stroke-width="1.8" />
<line x1="1339.6" y1="1278.5" x2="1353.6" y2="1278.5" stroke="#b0182f" stroke-width="1.8" />
<line x1="1333.6" y1="1276.4" x2="1359.6" y2="1276.4" stroke="#111" stroke-width="2.2" />
<circle cx="1379.7" cy="1262.4" r="3.4" fill="#3c3c3c" />
<circle cx="1391.0" cy="1267.4" r="3.4" fill="#3c3c3c" />
<circle cx="1385.3" cy="1275.8" r="3.4" fill="#3c3c3c" />
<line x1="1385.9" y1="1265.2" x2="1385.9" y2="1272.8" stroke="#3c3c3c" stroke-width="1.8" />
<line x1="1378.9" y1="1265.2" x2="1392.9" y2="1265.2" stroke="#3c3c3c" stroke-width="1.8" />
<line x1="1378.9" y1="1272.8" x2="1392.9" y2="1272.8" stroke="#3c3c3c" stroke-width="1.8" />
<line x1="1372.9" y1="1268.8" x2="1398.9" y2="1268.8" stroke="#111" stroke-width="2.2" />
<text transform="translate(1270.20,1366.32) rotate(-45)" font-size="24.66" text-anchor="end" stroke="#000"><tspan fill="#000" stroke="#000">HB (24%)</tspan></text>
<text transform="translate(1314.61,1366.31) rotate(-45)" font-size="24.66" text-anchor="end" stroke="#000"><tspan fill="#000" stroke="#000">BG (95%)</tspan></text>
<text transform="translate(1362.92,1364.60) rotate(-45)" font-size="24.66" text-anchor="end" stroke="#000"><tspan fill="#000" stroke="#000">HB (100%)</tspan></text>
<text transform="translate(1408.56,1366.33) rotate(-45)" font-size="24.66" text-anchor="end" stroke="#000"><tspan fill="#000" stroke="#000">C57BL/6N</tspan></text>
<line x1="1560.3" y1="1217.8" x2="1560.3" y2="1333.2" stroke="#222" stroke-width="2" />
<line x1="1552.3" y1="1217.8" x2="1560.3" y2="1217.8" stroke="#222" stroke-width="2" />
<text x="1518.14" y="1225.40" font-size="21.41" stroke="#000">1.0</text>
<line x1="1552.3" y1="1275.3" x2="1560.3" y2="1275.3" stroke="#222" stroke-width="2" />
<text x="1518.20" y="1282.90" font-size="21.41" stroke="#000">0.5</text>
<line x1="1552.3" y1="1333.2" x2="1560.3" y2="1333.2" stroke="#222" stroke-width="2" />
<text x="1518.14" y="1340.80" font-size="21.41" stroke="#000">0.0</text>
<line x1="1552.3" y1="1333.2" x2="1733.2" y2="1333.2" stroke="#222" stroke-width="2" />
<line x1="1586.1" y1="1333.2" x2="1586.1" y2="1341.7" stroke="#222" stroke-width="2" />
<line x1="1625.7" y1="1333.2" x2="1625.7" y2="1341.7" stroke="#222" stroke-width="2" />
<line x1="1665.3" y1="1333.2" x2="1665.3" y2="1341.7" stroke="#222" stroke-width="2" />
<line x1="1705.0" y1="1333.2" x2="1705.0" y2="1341.7" stroke="#222" stroke-width="2" />
<text x="1610.12" y="1202.30" font-size="27.35"  stroke="#000">MFN1</text>
<text transform="translate(1495.50,1365.99) rotate(-90)" font-size="26.63" stroke="#000">MFN1 / vinculin</text>
<rect x="1576.7" y="1263.6" width="6.8" height="6.8" fill="#f5a623" />
<rect x="1588.7" y="1263.6" width="6.8" height="6.8" fill="#f5a623" />
<rect x="1582.7" y="1273.6" width="6.8" height="6.8" fill="#f5a623" />
<line x1="1586.1" y1="1267.5" x2="1586.1" y2="1273.5" stroke="#f5a623" stroke-width="1.8" />
<line x1="1579.1" y1="1267.5" x2="1593.1" y2="1267.5" stroke="#f5a623" stroke-width="1.8" />
<line x1="1579.1" y1="1273.5" x2="1593.1" y2="1273.5" stroke="#f5a623" stroke-width="1.8" />
<line x1="1573.1" y1="1270.5" x2="1599.1" y2="1270.5" stroke="#111" stroke-width="2.2" />
<polygon points="1618.7,1257.8 1622.6,1264.5 1614.8,1264.5" fill="#1f60ae"/>
<polygon points="1625.7,1265.1 1629.6,1271.8 1621.8,1271.8" fill="#1f60ae"/>
<polygon points="1631.7,1261.3 1635.6,1268.0 1627.8,1268.0" fill="#1f60ae"/>
<line x1="1625.7" y1="1263.0" x2="1625.7" y2="1267.0" stroke="#1f60ae" stroke-width="1.8" />
<line x1="1618.7" y1="1263.0" x2="1632.7" y2="1263.0" stroke="#1f60ae" stroke-width="1.8" />
<line x1="1618.7" y1="1267.0" x2="1632.7" y2="1267.0" stroke="#1f60ae" stroke-width="1.8" />
<line x1="1612.7" y1="1265.0" x2="1638.7" y2="1265.0" stroke="#111" stroke-width="2.2" />
<polygon points="1658.3,1257.0 1662.2,1250.3 1654.4,1250.3" fill="#b0182f"/>
<polygon points="1672.3,1260.7 1676.2,1254.0 1668.4,1254.0" fill="#b0182f"/>
<polygon points="1665.3,1272.5 1669.2,1265.8 1661.4,1265.8" fill="#b0182f"/>
<line x1="1665.3" y1="1255.7" x2="1665.3" y2="1264.3" stroke="#b0182f" stroke-width="1.8" />
<line x1="1658.3" y1="1255.7" x2="1672.3" y2="1255.7" stroke="#b0182f" stroke-width="1.8" />
<line x1="1658.3" y1="1264.3" x2="1672.3" y2="1264.3" stroke="#b0182f" stroke-width="1.8" />
<line x1="1652.3" y1="1259.8" x2="1678.3" y2="1259.8" stroke="#111" stroke-width="2.2" />
<circle cx="1705.0" cy="1255.7" r="3.4" fill="#3c3c3c" />
<circle cx="1705.0" cy="1259.8" r="3.4" fill="#3c3c3c" />
<circle cx="1705.0" cy="1277.0" r="3.4" fill="#3c3c3c" />
<line x1="1705.0" y1="1258.4" x2="1705.0" y2="1270.2" stroke="#3c3c3c" stroke-width="1.8" />
<line x1="1698.0" y1="1258.4" x2="1712.0" y2="1258.4" stroke="#3c3c3c" stroke-width="1.8" />
<line x1="1698.0" y1="1270.2" x2="1712.0" y2="1270.2" stroke="#3c3c3c" stroke-width="1.8" />
<line x1="1692.0" y1="1265.3" x2="1718.0" y2="1265.3" stroke="#111" stroke-width="2.2" />
<text transform="translate(1594.50,1362.02) rotate(-45)" font-size="24.66" text-anchor="end" stroke="#000"><tspan fill="#000" stroke="#000">HB (24%)</tspan></text>
<text transform="translate(1639.61,1362.01) rotate(-45)" font-size="24.66" text-anchor="end" stroke="#000"><tspan fill="#000" stroke="#000">BG (95%)</tspan></text>
<text transform="translate(1688.32,1360.60) rotate(-45)" font-size="24.66" text-anchor="end" stroke="#000"><tspan fill="#000" stroke="#000">HB (100%)</tspan></text>
<text transform="translate(1733.56,1362.43) rotate(-45)" font-size="24.66" text-anchor="end" stroke="#000"><tspan fill="#000" stroke="#000">C57BL/6N</tspan></text>
<line x1="1862.4" y1="1217.8" x2="1862.4" y2="1333.2" stroke="#222" stroke-width="2" />
<line x1="1854.4" y1="1217.8" x2="1862.4" y2="1217.8" stroke="#222" stroke-width="2" />
<text x="1820.24" y="1225.40" font-size="21.41" stroke="#000">1.0</text>
<line x1="1854.4" y1="1275.3" x2="1862.4" y2="1275.3" stroke="#222" stroke-width="2" />
<text x="1820.30" y="1282.90" font-size="21.41" stroke="#000">0.5</text>
<line x1="1854.4" y1="1333.2" x2="1862.4" y2="1333.2" stroke="#222" stroke-width="2" />
<text x="1820.24" y="1340.80" font-size="21.41" stroke="#000">0.0</text>
<line x1="1854.4" y1="1333.2" x2="2034.6" y2="1333.2" stroke="#222" stroke-width="2" />
<line x1="1889.2" y1="1333.2" x2="1889.2" y2="1341.7" stroke="#222" stroke-width="2" />
<line x1="1928.5" y1="1333.2" x2="1928.5" y2="1341.7" stroke="#222" stroke-width="2" />
<line x1="1968.1" y1="1333.2" x2="1968.1" y2="1341.7" stroke="#222" stroke-width="2" />
<line x1="2007.4" y1="1333.2" x2="2007.4" y2="1341.7" stroke="#222" stroke-width="2" />
<text x="1917.06" y="1202.30" font-size="27.35"  stroke="#000">MFN2</text>
<text transform="translate(1798.60,1369.19) rotate(-90)" font-size="26.63" stroke="#000">MFN2 / vinculin</text>
<rect x="1885.8" y="1256.4" width="6.8" height="6.8" fill="#f5a623" />
<rect x="1885.8" y="1276.4" width="6.8" height="6.8" fill="#f5a623" />
<rect x="1885.8" y="1281.6" width="6.8" height="6.8" fill="#f5a623" />
<line x1="1889.2" y1="1267.7" x2="1889.2" y2="1283.2" stroke="#f5a623" stroke-width="1.8" />
<line x1="1882.2" y1="1267.7" x2="1896.2" y2="1267.7" stroke="#f5a623" stroke-width="1.8" />
<line x1="1882.2" y1="1283.2" x2="1896.2" y2="1283.2" stroke="#f5a623" stroke-width="1.8" />
<line x1="1876.2" y1="1274.6" x2="1902.2" y2="1274.6" stroke="#111" stroke-width="2.2" />
<polygon points="1928.5,1252.7 1932.4,1259.4 1924.6,1259.4" fill="#1f60ae"/>
<polygon points="1918.5,1270.9 1922.4,1277.6 1914.6,1277.6" fill="#1f60ae"/>
<polygon points="1938.5,1265.1 1942.4,1271.8 1934.6,1271.8" fill="#1f60ae"/>
<line x1="1928.5" y1="1261.9" x2="1928.5" y2="1271.2" stroke="#1f60ae" stroke-width="1.8" />
<line x1="1921.5" y1="1261.9" x2="1935.5" y2="1261.9" stroke="#1f60ae" stroke-width="1.8" />
<line x1="1921.5" y1="1271.2" x2="1935.5" y2="1271.2" stroke="#1f60ae" stroke-width="1.8" />
<line x1="1915.5" y1="1267.0" x2="1941.5" y2="1267.0" stroke="#111" stroke-width="2.2" />
<polygon points="1968.1,1260.1 1972.0,1253.4 1964.2,1253.4" fill="#b0182f"/>
<polygon points="1968.1,1272.5 1972.0,1265.8 1964.2,1265.8" fill="#b0182f"/>
<polygon points="1968.1,1295.5 1972.0,1288.8 1964.2,1288.8" fill="#b0182f"/>
<line x1="1968.1" y1="1263.3" x2="1968.1" y2="1283.9" stroke="#b0182f" stroke-width="1.8" />
<line x1="1961.1" y1="1263.3" x2="1975.1" y2="1263.3" stroke="#b0182f" stroke-width="1.8" />
<line x1="1961.1" y1="1283.9" x2="1975.1" y2="1283.9" stroke="#b0182f" stroke-width="1.8" />
<line x1="1955.1" y1="1273.6" x2="1981.1" y2="1273.6" stroke="#111" stroke-width="2.2" />
<circle cx="1999.4" cy="1267.7" r="3.4" fill="#3c3c3c" />
<circle cx="2015.4" cy="1269.5" r="3.4" fill="#3c3c3c" />
<circle cx="2007.4" cy="1305.6" r="3.4" fill="#3c3c3c" />
<line x1="2007.4" y1="1268.8" x2="2007.4" y2="1293.6" stroke="#3c3c3c" stroke-width="1.8" />
<line x1="2000.4" y1="1268.8" x2="2014.4" y2="1268.8" stroke="#3c3c3c" stroke-width="1.8" />
<line x1="2000.4" y1="1293.6" x2="2014.4" y2="1293.6" stroke="#3c3c3c" stroke-width="1.8" />
<line x1="1994.4" y1="1280.8" x2="2020.4" y2="1280.8" stroke="#111" stroke-width="2.2" />
<text transform="translate(1894.20,1366.52) rotate(-45)" font-size="24.66" text-anchor="end" stroke="#000"><tspan fill="#000" stroke="#000">HB (24%)</tspan></text>
<text transform="translate(1938.71,1366.01) rotate(-45)" font-size="24.66" text-anchor="end" stroke="#000"><tspan fill="#000" stroke="#000">BG (95%)</tspan></text>
<text transform="translate(1987.52,1364.80) rotate(-45)" font-size="24.66" text-anchor="end" stroke="#000"><tspan fill="#000" stroke="#000">HB (100%)</tspan></text>
<text transform="translate(2032.36,1365.83) rotate(-45)" font-size="24.66" text-anchor="end" stroke="#000"><tspan fill="#000" stroke="#000">C57BL/6N</tspan></text>
<text x="1.14" y="1556.00" font-size="49.00" font-weight="bold"  stroke="#000">f</text>
<text x="134.09" y="1543.50" font-size="32.66" font-weight="bold"  stroke="#000">Δψm - Pluripontency</text>
<line x1="54.8" y1="1560.3" x2="525.5" y2="1560.3" stroke="#333" stroke-width="2" />
<rect x="138.3" y="1588.3" width="274.5" height="275" fill="none" stroke="#222" stroke-width="1.6"/>
<line x1="138.3" y1="1588.0" x2="138.3" y2="1864.0" stroke="#111" stroke-width="2.4" />
<line x1="130.0" y1="1863.3" x2="413.0" y2="1863.3" stroke="#111" stroke-width="2.6" />
<line x1="131.0" y1="1602.3" x2="138.3" y2="1602.3" stroke="#111" stroke-width="2.6" />
<text x="127.3" y="1605.9" font-size="22.5" text-anchor="end"  stroke="#000">100</text>
<line x1="131.0" y1="1654.8" x2="138.3" y2="1654.8" stroke="#111" stroke-width="2.6" />
<text x="127.3" y="1662.8" font-size="22.5" text-anchor="end"  stroke="#000">80</text>
<line x1="131.0" y1="1706.6" x2="138.3" y2="1706.6" stroke="#111" stroke-width="2.6" />
<text x="127.3" y="1714.6" font-size="22.5" text-anchor="end"  stroke="#000">60</text>
<line x1="131.0" y1="1758.6" x2="138.3" y2="1758.6" stroke="#111" stroke-width="2.6" />
<text x="127.3" y="1766.6" font-size="22.5" text-anchor="end"  stroke="#000">40</text>
<line x1="131.0" y1="1810.6" x2="138.3" y2="1810.6" stroke="#111" stroke-width="2.6" />
<text x="127.3" y="1818.6" font-size="22.5" text-anchor="end"  stroke="#000">20</text>
<line x1="131.0" y1="1863.3" x2="138.3" y2="1863.3" stroke="#111" stroke-width="2.6" />
<text x="127.3" y="1871.3" font-size="22.5" text-anchor="end"  stroke="#000">0</text>
<line x1="135.3" y1="1850.2" x2="138.3" y2="1850.2" stroke="#111" stroke-width="1.6" />
<line x1="135.3" y1="1837.2" x2="138.3" y2="1837.2" stroke="#111" stroke-width="1.6" />
<line x1="135.3" y1="1824.1" x2="138.3" y2="1824.1" stroke="#111" stroke-width="1.6" />
<line x1="135.3" y1="1798.0" x2="138.3" y2="1798.0" stroke="#111" stroke-width="1.6" />
<line x1="135.3" y1="1785.0" x2="138.3" y2="1785.0" stroke="#111" stroke-width="1.6" />
<line x1="135.3" y1="1772.0" x2="138.3" y2="1772.0" stroke="#111" stroke-width="1.6" />
<line x1="135.3" y1="1745.8" x2="138.3" y2="1745.8" stroke="#111" stroke-width="1.6" />
<line x1="135.3" y1="1732.8" x2="138.3" y2="1732.8" stroke="#111" stroke-width="1.6" />
<line x1="135.3" y1="1719.8" x2="138.3" y2="1719.8" stroke="#111" stroke-width="1.6" />
<line x1="135.3" y1="1693.6" x2="138.3" y2="1693.6" stroke="#111" stroke-width="1.6" />
<line x1="135.3" y1="1680.6" x2="138.3" y2="1680.6" stroke="#111" stroke-width="1.6" />
<line x1="135.3" y1="1667.5" x2="138.3" y2="1667.5" stroke="#111" stroke-width="1.6" />
<line x1="135.3" y1="1641.4" x2="138.3" y2="1641.4" stroke="#111" stroke-width="1.6" />
<line x1="135.3" y1="1628.4" x2="138.3" y2="1628.4" stroke="#111" stroke-width="1.6" />
<line x1="135.3" y1="1615.3" x2="138.3" y2="1615.3" stroke="#111" stroke-width="1.6" />
<line x1="156.0" y1="1863.3" x2="156.0" y2="1870.8" stroke="#111" stroke-width="2.4" />
<line x1="201.0" y1="1863.3" x2="201.0" y2="1870.8" stroke="#111" stroke-width="2.4" />
<line x1="245.6" y1="1863.3" x2="245.6" y2="1870.8" stroke="#111" stroke-width="2.4" />
<line x1="321.3" y1="1863.3" x2="321.3" y2="1870.8" stroke="#111" stroke-width="2.4" />
<line x1="388.0" y1="1863.3" x2="388.0" y2="1870.8" stroke="#111" stroke-width="2.4" />
<line x1="160.5" y1="1863.3" x2="160.5" y2="1867.3" stroke="#111" stroke-width="1.6" />
<line x1="205.5" y1="1863.3" x2="205.5" y2="1867.3" stroke="#111" stroke-width="1.6" />
<line x1="165.0" y1="1863.3" x2="165.0" y2="1867.3" stroke="#111" stroke-width="1.6" />
<line x1="209.9" y1="1863.3" x2="209.9" y2="1867.3" stroke="#111" stroke-width="1.6" />
<line x1="169.5" y1="1863.3" x2="169.5" y2="1867.3" stroke="#111" stroke-width="1.6" />
<line x1="214.4" y1="1863.3" x2="214.4" y2="1867.3" stroke="#111" stroke-width="1.6" />
<line x1="174.0" y1="1863.3" x2="174.0" y2="1867.3" stroke="#111" stroke-width="1.6" />
<line x1="218.8" y1="1863.3" x2="218.8" y2="1867.3" stroke="#111" stroke-width="1.6" />
<line x1="178.5" y1="1863.3" x2="178.5" y2="1867.3" stroke="#111" stroke-width="1.6" />
<line x1="223.3" y1="1863.3" x2="223.3" y2="1867.3" stroke="#111" stroke-width="1.6" />
<line x1="183.0" y1="1863.3" x2="183.0" y2="1867.3" stroke="#111" stroke-width="1.6" />
<line x1="227.8" y1="1863.3" x2="227.8" y2="1867.3" stroke="#111" stroke-width="1.6" />
<line x1="187.5" y1="1863.3" x2="187.5" y2="1867.3" stroke="#111" stroke-width="1.6" />
<line x1="232.2" y1="1863.3" x2="232.2" y2="1867.3" stroke="#111" stroke-width="1.6" />
<line x1="192.0" y1="1863.3" x2="192.0" y2="1867.3" stroke="#111" stroke-width="1.6" />
<line x1="236.7" y1="1863.3" x2="236.7" y2="1867.3" stroke="#111" stroke-width="1.6" />
<line x1="196.5" y1="1863.3" x2="196.5" y2="1867.3" stroke="#111" stroke-width="1.6" />
<line x1="241.1" y1="1863.3" x2="241.1" y2="1867.3" stroke="#111" stroke-width="1.6" />
<line x1="268.4" y1="1863.3" x2="268.4" y2="1867.3" stroke="#111" stroke-width="1.6" />
<line x1="341.4" y1="1863.3" x2="341.4" y2="1867.3" stroke="#111" stroke-width="1.6" />
<line x1="281.7" y1="1863.3" x2="281.7" y2="1867.3" stroke="#111" stroke-width="1.6" />
<line x1="353.1" y1="1863.3" x2="353.1" y2="1867.3" stroke="#111" stroke-width="1.6" />
<line x1="291.2" y1="1863.3" x2="291.2" y2="1867.3" stroke="#111" stroke-width="1.6" />
<line x1="361.5" y1="1863.3" x2="361.5" y2="1867.3" stroke="#111" stroke-width="1.6" />
<line x1="298.5" y1="1863.3" x2="298.5" y2="1867.3" stroke="#111" stroke-width="1.6" />
<line x1="367.9" y1="1863.3" x2="367.9" y2="1867.3" stroke="#111" stroke-width="1.6" />
<line x1="304.5" y1="1863.3" x2="304.5" y2="1867.3" stroke="#111" stroke-width="1.6" />
<line x1="373.2" y1="1863.3" x2="373.2" y2="1867.3" stroke="#111" stroke-width="1.6" />
<line x1="309.6" y1="1863.3" x2="309.6" y2="1867.3" stroke="#111" stroke-width="1.6" />
<line x1="377.7" y1="1863.3" x2="377.7" y2="1867.3" stroke="#111" stroke-width="1.6" />
<line x1="314.0" y1="1863.3" x2="314.0" y2="1867.3" stroke="#111" stroke-width="1.6" />
<line x1="381.5" y1="1863.3" x2="381.5" y2="1867.3" stroke="#111" stroke-width="1.6" />
<line x1="317.8" y1="1863.3" x2="317.8" y2="1867.3" stroke="#111" stroke-width="1.6" />
<line x1="384.9" y1="1863.3" x2="384.9" y2="1867.3" stroke="#111" stroke-width="1.6" />
<line x1="408.1" y1="1863.3" x2="408.1" y2="1867.3" stroke="#111" stroke-width="1.6" />
<text x="131.7" y="1896.3" font-size="22.5" stroke="#000">-10<tspan font-size="14" dy="-10">3</tspan></text>
<text x="207.9" y="1896.3" font-size="22.5" text-anchor="middle"  stroke="#000">0</text>
<text x="233.9" y="1896.3" font-size="22.5" stroke="#000">10<tspan font-size="14" dy="-10">3</tspan></text>
<text x="309.2" y="1896.3" font-size="22.5" stroke="#000">10<tspan font-size="14" dy="-10">4</tspan></text>
<text x="374.1" y="1896.3" font-size="22.5" stroke="#000">10<tspan font-size="14" dy="-10">5</tspan></text>
<text x="242.84" y="1935.20" font-size="24.86"  stroke="#000">TMRM</text>
<text transform="translate(72.50,1865.10) rotate(-90)" font-size="29.10" stroke="#000">Normalized To Mode</text>
<path d="M193,1863.3 L193.0,1863.1 L193.5,1863.0 L194.0,1862.7 L194.5,1862.3 L195.0,1861.7 L195.5,1860.7 L196.0,1859.2 L196.5,1856.9 L197.0,1853.7 L197.5,1849.1 L198.0,1842.9 L198.5,1834.7 L199.0,1824.1 L199.5,1810.9 L200.0,1794.9 L200.5,1776.2 L201.0,1755.1 L201.5,1732.1 L202.0,1708.0 L202.5,1684.0 L203.0,1661.2 L203.5,1641.0 L204.0,1624.7 L204.5,1613.4 L205.0,1607.8 L205.5,1610.6 L206.0,1620.1 L206.5,1631.9 L207.0,1645.0 L207.5,1658.8 L208.0,1672.9 L208.5,1686.9 L209.0,1700.7 L209.5,1714.1 L210.0,1726.9 L210.5,1739.1 L211.0,1750.6 L211.5,1761.4 L212.0,1771.5 L212.5,1780.8 L213.0,1789.4 L213.5,1797.3 L214.0,1804.5 L214.5,1811.1 L215.0,1817.0 L215.5,1822.4 L216.0,1827.2 L216.5,1831.6 L217.0,1835.4 L217.5,1838.9 L218.0,1842.0 L218.5,1844.7 L219.0,1847.1 L219.5,1849.3 L220.0,1851.1 L220.5,1852.8 L221.0,1854.2 L221.5,1855.5 L222.0,1856.6 L222.5,1857.5 L223.0,1858.3 L223,1863.3 Z" fill="#c8c8c8" stroke="#8a8a8a" stroke-width="1.2"/>
<clipPath id="histclip"><rect x="139" y="1589" width="273" height="274.5"/></clipPath>
<g clip-path="url(#histclip)">
<path d="M205.0,1863.3 L206.2,1863.3 L207.4,1863.3 L208.6,1863.3 L209.8,1863.3 L211.0,1863.3 L212.2,1863.2 L213.4,1863.2 L214.6,1863.2 L215.8,1863.2 L217.0,1863.2 L218.2,1863.2 L219.4,1863.2 L220.6,1863.2 L221.8,1863.2 L223.0,1863.2 L224.2,1863.2 L225.4,1863.1 L226.6,1863.1 L227.8,1863.1 L229.0,1863.1 L230.2,1863.1 L231.4,1863.1 L232.6,1863.0 L233.8,1863.0 L235.0,1863.0 L236.2,1862.9 L237.4,1862.9 L238.6,1862.9 L239.8,1862.8 L241.0,1862.8 L242.2,1862.8 L243.4,1862.7 L244.6,1862.6 L245.8,1862.6 L247.0,1862.5 L248.2,1862.4 L249.4,1862.4 L250.6,1862.3 L251.8,1862.2 L253.0,1862.1 L254.2,1862.0 L255.4,1861.9 L256.6,1861.7 L257.8,1861.6 L259.0,1861.5 L260.2,1861.3 L261.4,1861.1 L262.6,1860.9 L263.8,1860.7 L265.0,1860.5 L266.2,1860.3 L267.4,1860.0 L268.6,1859.8 L269.8,1859.5 L271.0,1859.1 L272.2,1858.8 L273.4,1858.4 L274.6,1860.4 L275.8,1855.3 L277.0,1855.4 L278.2,1858.2 L279.4,1856.1 L280.6,1855.9 L281.8,1853.9 L283.0,1852.4 L284.2,1856.2 L285.4,1855.9 L286.6,1849.8 L287.8,1851.6 L289.0,1848.5 L290.2,1852.5 L291.4,1848.5 L292.6,1845.5 L293.8,1847.6 L295.0,1841.5 L296.2,1840.5 L297.4,1844.8 L298.6,1843.3 L299.8,1838.2 L301.0,1833.7 L302.2,1835.6 L303.4,1834.8 L304.6,1831.3 L305.8,1831.7 L307.0,1828.1 L308.2,1824.1 L309.4,1821.0 L310.6,1820.1 L311.8,1817.2 L313.0,1814.2 L314.2,1809.2 L315.4,1807.0 L316.6,1805.4 L317.8,1795.4 L319.0,1793.5 L320.2,1788.6 L321.4,1788.0 L322.6,1776.7 L323.8,1772.9 L325.0,1774.5 L326.2,1767.4 L327.4,1758.3 L328.6,1752.7 L329.8,1744.5 L331.0,1743.8 L332.2,1733.1 L333.4,1728.4 L334.6,1726.1 L335.8,1715.8 L337.0,1704.9 L338.2,1698.1 L339.4,1695.6 L340.6,1687.0 L341.8,1688.4 L343.0,1677.8 L344.2,1660.7 L345.4,1660.2 L346.6,1657.6 L347.8,1643.1 L349.0,1632.9 L350.2,1626.8 L351.4,1627.5 L352.6,1620.9 L353.8,1615.4 L355.0,1609.4 L356.2,1618.5 L357.4,1626.4 L358.6,1631.1 L359.8,1649.4 L361.0,1658.7 L362.2,1657.6 L363.4,1665.8 L364.6,1685.9 L365.8,1702.7 L367.0,1719.5 L368.2,1729.3 L369.4,1737.9 L370.6,1753.7 L371.8,1768.7 L373.0,1777.8 L374.2,1794.1 L375.4,1801.9 L376.6,1807.8 L377.8,1818.7 L379.0,1826.8 L380.2,1834.3 L381.4,1837.9 L382.6,1839.8 L383.8,1850.1 L385.0,1848.2 L386.2,1850.7 L387.4,1852.5 L388.6,1855.3 L389.8,1858.3 L391.0,1859.5 L392.2,1860.4 L393.4,1861.1 L394.6,1861.7 L395.8,1862.1 L397.0,1862.4 L398.2,1862.7 L399.4,1862.8 L400.6,1863.0 L401.8,1863.1 L403.0,1863.1 L404.2,1863.2 L405.4,1863.2 L406.6,1863.2 L407.8,1863.3 L409.0,1863.3 L410.2,1863.3 L411.4,1863.3" fill="none" stroke="#e8dc1e" stroke-width="1.8" stroke-linejoin="round"/>
<path d="M205.0,1863.3 L206.2,1863.3 L207.4,1863.3 L208.6,1863.3 L209.8,1863.3 L211.0,1863.3 L212.2,1863.3 L213.4,1863.3 L214.6,1863.3 L215.8,1863.3 L217.0,1863.2 L218.2,1863.2 L219.4,1863.2 L220.6,1863.2 L221.8,1863.2 L223.0,1863.2 L224.2,1863.2 L225.4,1863.2 L226.6,1863.2 L227.8,1863.2 L229.0,1863.2 L230.2,1863.1 L231.4,1863.1 L232.6,1863.1 L233.8,1863.1 L235.0,1863.1 L236.2,1863.0 L237.4,1863.0 L238.6,1863.0 L239.8,1863.0 L241.0,1862.9 L242.2,1862.9 L243.4,1862.9 L244.6,1862.8 L245.8,1862.8 L247.0,1862.7 L248.2,1862.7 L249.4,1862.6 L250.6,1862.5 L251.8,1862.5 L253.0,1862.4 L254.2,1862.3 L255.4,1862.2 L256.6,1862.1 L257.8,1862.0 L259.0,1861.9 L260.2,1861.7 L261.4,1861.6 L262.6,1861.4 L263.8,1861.3 L265.0,1861.1 L266.2,1860.9 L267.4,1860.7 L268.6,1860.5 L269.8,1860.2 L271.0,1859.9 L272.2,1859.6 L273.4,1859.3 L274.6,1859.0 L275.8,1858.6 L277.0,1858.2 L278.2,1854.8 L279.4,1854.4 L280.6,1859.7 L281.8,1859.0 L283.0,1853.5 L284.2,1853.6 L285.4,1853.3 L286.6,1855.0 L287.8,1852.3 L289.0,1851.4 L290.2,1850.7 L291.4,1852.5 L292.6,1849.7 L293.8,1848.9 L295.0,1845.5 L296.2,1842.5 L297.4,1841.5 L298.6,1842.7 L299.8,1841.9 L301.0,1841.4 L302.2,1841.3 L303.4,1839.5 L304.6,1834.6 L305.8,1833.5 L307.0,1830.9 L308.2,1825.0 L309.4,1825.0 L310.6,1822.2 L311.8,1821.7 L313.0,1820.2 L314.2,1815.0 L315.4,1813.1 L316.6,1806.9 L317.8,1799.5 L319.0,1798.1 L320.2,1797.8 L321.4,1787.9 L322.6,1784.2 L323.8,1779.9 L325.0,1773.5 L326.2,1769.5 L327.4,1763.9 L328.6,1762.4 L329.8,1750.4 L331.0,1744.4 L332.2,1746.5 L333.4,1733.6 L334.6,1727.2 L335.8,1723.3 L337.0,1715.4 L338.2,1708.7 L339.4,1695.1 L340.6,1693.5 L341.8,1680.7 L343.0,1680.5 L344.2,1663.6 L345.4,1655.1 L346.6,1655.3 L347.8,1645.5 L349.0,1630.5 L350.2,1627.2 L351.4,1625.5 L352.6,1625.6 L353.8,1617.9 L355.0,1605.2 L356.2,1619.6 L357.4,1604.9 L358.6,1625.9 L359.8,1618.9 L361.0,1641.7 L362.2,1639.8 L363.4,1657.5 L364.6,1674.7 L365.8,1688.7 L367.0,1701.5 L368.2,1717.2 L369.4,1735.1 L370.6,1750.1 L371.8,1760.6 L373.0,1769.7 L374.2,1784.5 L375.4,1799.8 L376.6,1804.0 L377.8,1813.7 L379.0,1820.4 L380.2,1832.2 L381.4,1834.4 L382.6,1844.1 L383.8,1844.5 L385.0,1850.6 L386.2,1853.9 L387.4,1852.0 L388.6,1859.0 L389.8,1857.9 L391.0,1859.3 L392.2,1860.3 L393.4,1861.0 L394.6,1861.6 L395.8,1862.1 L397.0,1862.4 L398.2,1862.7 L399.4,1862.8 L400.6,1863.0 L401.8,1863.1 L403.0,1863.1 L404.2,1863.2 L405.4,1863.2 L406.6,1863.2 L407.8,1863.3 L409.0,1863.3 L410.2,1863.3 L411.4,1863.3" fill="none" stroke="#7cc242" stroke-width="1.8" stroke-linejoin="round"/>
<path d="M205.0,1863.3 L206.2,1863.3 L207.4,1863.3 L208.6,1863.3 L209.8,1863.3 L211.0,1863.3 L212.2,1863.3 L213.4,1863.3 L214.6,1863.3 L215.8,1863.3 L217.0,1863.3 L218.2,1863.3 L219.4,1863.3 L220.6,1863.3 L221.8,1863.2 L223.0,1863.2 L224.2,1863.2 L225.4,1863.2 L226.6,1863.2 L227.8,1863.2 L229.0,1863.2 L230.2,1863.2 L231.4,1863.2 L232.6,1863.2 L233.8,1863.2 L235.0,1863.1 L236.2,1863.1 L237.4,1863.1 L238.6,1863.1 L239.8,1863.1 L241.0,1863.0 L242.2,1863.0 L243.4,1863.0 L244.6,1862.9 L245.8,1862.9 L247.0,1862.9 L248.2,1862.8 L249.4,1862.8 L250.6,1862.7 L251.8,1862.7 L253.0,1862.6 L254.2,1862.5 L255.4,1862.5 L256.6,1862.4 L257.8,1862.3 L259.0,1862.2 L260.2,1862.1 L261.4,1862.0 L262.6,1861.8 L263.8,1861.7 L265.0,1861.6 L266.2,1861.4 L267.4,1861.2 L268.6,1861.0 L269.8,1860.8 L271.0,1860.6 L272.2,1860.4 L273.4,1860.1 L274.6,1859.8 L275.8,1859.5 L277.0,1859.2 L278.2,1858.8 L279.4,1858.4 L280.6,1859.7 L281.8,1857.2 L283.0,1857.8 L284.2,1855.8 L285.4,1855.0 L286.6,1858.1 L287.8,1857.7 L289.0,1851.6 L290.2,1854.6 L291.4,1853.9 L292.6,1848.0 L293.8,1850.5 L295.0,1847.0 L296.2,1848.3 L297.4,1846.0 L298.6,1847.9 L299.8,1843.3 L301.0,1840.3 L302.2,1841.0 L303.4,1837.8 L304.6,1836.5 L305.8,1838.6 L307.0,1831.8 L308.2,1830.8 L309.4,1830.4 L310.6,1829.8 L311.8,1821.4 L313.0,1821.3 L314.2,1816.6 L315.4,1812.2 L316.6,1810.0 L317.8,1804.9 L319.0,1805.1 L320.2,1798.1 L321.4,1796.7 L322.6,1788.4 L323.8,1784.1 L325.0,1785.8 L326.2,1780.5 L327.4,1774.6 L328.6,1762.2 L329.8,1761.3 L331.0,1753.4 L332.2,1750.4 L333.4,1741.7 L334.6,1736.3 L335.8,1729.8 L337.0,1719.7 L338.2,1712.2 L339.4,1700.1 L340.6,1695.2 L341.8,1683.3 L343.0,1675.9 L344.2,1665.1 L345.4,1662.0 L346.6,1663.1 L347.8,1641.3 L349.0,1630.6 L350.2,1623.4 L351.4,1623.0 L352.6,1612.2 L353.8,1617.9 L355.0,1602.3 L356.2,1602.3 L357.4,1609.5 L358.6,1618.9 L359.8,1605.5 L361.0,1611.0 L362.2,1641.5 L363.4,1638.1 L364.6,1659.0 L365.8,1677.3 L367.0,1689.3 L368.2,1697.4 L369.4,1711.6 L370.6,1736.6 L371.8,1744.7 L373.0,1764.2 L374.2,1770.9 L375.4,1786.4 L376.6,1793.2 L377.8,1802.7 L379.0,1815.2 L380.2,1819.8 L381.4,1831.5 L382.6,1839.0 L383.8,1840.6 L385.0,1848.7 L386.2,1851.2 L387.4,1852.8 L388.6,1853.9 L389.8,1858.8 L391.0,1858.1 L392.2,1859.4 L393.4,1860.3 L394.6,1861.1 L395.8,1861.7 L397.0,1862.1 L398.2,1862.4 L399.4,1862.7 L400.6,1862.9 L401.8,1863.0 L403.0,1863.1 L404.2,1863.1 L405.4,1863.2 L406.6,1863.2 L407.8,1863.3 L409.0,1863.3 L410.2,1863.3 L411.4,1863.3" fill="none" stroke="#2a9a4a" stroke-width="1.8" stroke-linejoin="round"/>
<path d="M205.0,1863.3 L206.2,1863.3 L207.4,1863.3 L208.6,1863.3 L209.8,1863.3 L211.0,1863.3 L212.2,1863.3 L213.4,1863.3 L214.6,1863.3 L215.8,1863.3 L217.0,1863.3 L218.2,1863.3 L219.4,1863.3 L220.6,1863.2 L221.8,1863.2 L223.0,1863.2 L224.2,1863.2 L225.4,1863.2 L226.6,1863.2 L227.8,1863.2 L229.0,1863.2 L230.2,1863.2 L231.4,1863.2 L232.6,1863.1 L233.8,1863.1 L235.0,1863.1 L236.2,1863.1 L237.4,1863.1 L238.6,1863.0 L239.8,1863.0 L241.0,1863.0 L242.2,1863.0 L243.4,1862.9 L244.6,1862.9 L245.8,1862.8 L247.0,1862.8 L248.2,1862.8 L249.4,1862.7 L250.6,1862.6 L251.8,1862.6 L253.0,1862.5 L254.2,1862.4 L255.4,1862.3 L256.6,1862.2 L257.8,1862.1 L259.0,1862.0 L260.2,1861.9 L261.4,1861.7 L262.6,1861.6 L263.8,1861.4 L265.0,1861.3 L266.2,1861.1 L267.4,1860.8 L268.6,1860.6 L269.8,1860.4 L271.0,1860.1 L272.2,1859.8 L273.4,1859.5 L274.6,1859.1 L275.8,1858.8 L277.0,1858.3 L278.2,1859.6 L279.4,1860.0 L280.6,1857.6 L281.8,1858.6 L283.0,1858.6 L284.2,1855.7 L285.4,1851.6 L286.6,1851.6 L287.8,1851.0 L289.0,1853.7 L290.2,1850.7 L291.4,1851.4 L292.6,1850.9 L293.8,1850.2 L295.0,1848.2 L296.2,1842.1 L297.4,1841.3 L298.6,1839.8 L299.8,1838.2 L301.0,1840.4 L302.2,1837.7 L303.4,1833.5 L304.6,1830.6 L305.8,1827.4 L307.0,1824.7 L308.2,1827.6 L309.4,1821.1 L310.6,1817.7 L311.8,1815.7 L313.0,1814.7 L314.2,1809.0 L315.4,1808.1 L316.6,1797.8 L317.8,1794.0 L319.0,1792.1 L320.2,1789.5 L321.4,1779.6 L322.6,1777.3 L323.8,1769.1 L325.0,1763.8 L326.2,1761.1 L327.4,1755.9 L328.6,1747.8 L329.8,1743.0 L331.0,1739.3 L332.2,1730.8 L333.4,1717.5 L334.6,1719.9 L335.8,1712.6 L337.0,1696.9 L338.2,1694.2 L339.4,1682.5 L340.6,1675.6 L341.8,1670.0 L343.0,1650.3 L344.2,1657.7 L345.4,1646.3 L346.6,1643.9 L347.8,1628.4 L349.0,1631.1 L350.2,1626.5 L351.4,1618.8 L352.6,1631.6 L353.8,1631.2 L355.0,1630.6 L356.2,1655.2 L357.4,1664.9 L358.6,1672.0 L359.8,1674.5 L361.0,1689.3 L362.2,1707.3 L363.4,1718.7 L364.6,1733.3 L365.8,1742.7 L367.0,1759.2 L368.2,1764.7 L369.4,1774.4 L370.6,1784.6 L371.8,1796.3 L373.0,1803.6 L374.2,1818.6 L375.4,1823.9 L376.6,1825.6 L377.8,1832.6 L379.0,1840.0 L380.2,1840.7 L381.4,1846.4 L382.6,1848.2 L383.8,1854.2 L385.0,1857.0 L386.2,1857.1 L387.4,1858.1 L388.6,1859.3 L389.8,1860.2 L391.0,1860.9 L392.2,1861.5 L393.4,1861.9 L394.6,1862.3 L395.8,1862.5 L397.0,1862.7 L398.2,1862.9 L399.4,1863.0 L400.6,1863.1 L401.8,1863.1 L403.0,1863.2 L404.2,1863.2 L405.4,1863.2 L406.6,1863.3 L407.8,1863.3 L409.0,1863.3 L410.2,1863.3 L411.4,1863.3" fill="none" stroke="#f07a1e" stroke-width="1.8" stroke-linejoin="round"/>
<path d="M205.0,1863.3 L206.2,1863.3 L207.4,1863.3 L208.6,1863.3 L209.8,1863.3 L211.0,1863.3 L212.2,1863.3 L213.4,1863.3 L214.6,1863.3 L215.8,1863.3 L217.0,1863.3 L218.2,1863.3 L219.4,1863.3 L220.6,1863.3 L221.8,1863.3 L223.0,1863.3 L224.2,1863.3 L225.4,1863.2 L226.6,1863.2 L227.8,1863.2 L229.0,1863.2 L230.2,1863.2 L231.4,1863.2 L232.6,1863.2 L233.8,1863.2 L235.0,1863.2 L236.2,1863.2 L237.4,1863.2 L238.6,1863.1 L239.8,1863.1 L241.0,1863.1 L242.2,1863.1 L243.4,1863.1 L244.6,1863.0 L245.8,1863.0 L247.0,1863.0 L248.2,1862.9 L249.4,1862.9 L250.6,1862.9 L251.8,1862.8 L253.0,1862.8 L254.2,1862.7 L255.4,1862.6 L256.6,1862.6 L257.8,1862.5 L259.0,1862.4 L260.2,1862.3 L261.4,1862.2 L262.6,1862.1 L263.8,1862.0 L265.0,1861.9 L266.2,1861.8 L267.4,1861.6 L268.6,1861.4 L269.8,1861.3 L271.0,1861.1 L272.2,1860.9 L273.4,1860.6 L274.6,1860.4 L275.8,1860.1 L277.0,1859.8 L278.2,1859.5 L279.4,1859.1 L280.6,1858.8 L281.8,1858.4 L283.0,1857.1 L284.2,1855.9 L285.4,1855.0 L286.6,1853.4 L287.8,1854.2 L289.0,1852.3 L290.2,1857.4 L291.4,1853.8 L292.6,1849.8 L293.8,1850.9 L295.0,1848.2 L296.2,1852.4 L297.4,1848.9 L298.6,1849.2 L299.8,1845.9 L301.0,1844.3 L302.2,1846.6 L303.4,1843.6 L304.6,1841.5 L305.8,1835.4 L307.0,1834.4 L308.2,1836.4 L309.4,1829.9 L310.6,1832.0 L311.8,1826.1 L313.0,1826.8 L314.2,1824.9 L315.4,1815.6 L316.6,1817.1 L317.8,1813.7 L319.0,1804.4 L320.2,1801.3 L321.4,1801.6 L322.6,1792.0 L323.8,1790.8 L325.0,1784.9 L326.2,1783.8 L327.4,1772.2 L328.6,1768.7 L329.8,1760.3 L331.0,1754.8 L332.2,1754.3 L333.4,1747.1 L334.6,1742.5 L335.8,1735.8 L337.0,1729.6 L338.2,1719.3 L339.4,1707.6 L340.6,1708.0 L341.8,1690.1 L343.0,1687.0 L344.2,1679.1 L345.4,1661.8 L346.6,1659.1 L347.8,1653.8 L349.0,1642.1 L350.2,1629.0 L351.4,1635.6 L352.6,1606.6 L353.8,1622.9 L355.0,1602.3 L356.2,1602.3 L357.4,1616.4 L358.6,1602.3 L359.8,1617.3 L361.0,1620.5 L362.2,1643.2 L363.4,1653.5 L364.6,1663.3 L365.8,1663.6 L367.0,1690.8 L368.2,1697.6 L369.4,1710.9 L370.6,1726.3 L371.8,1747.5 L373.0,1761.2 L374.2,1772.7 L375.4,1782.7 L376.6,1799.2 L377.8,1804.4 L379.0,1813.1 L380.2,1820.7 L381.4,1833.4 L382.6,1833.2 L383.8,1844.0 L385.0,1846.7 L386.2,1848.5 L387.4,1849.4 L388.6,1855.6 L389.8,1853.8 L391.0,1858.1 L392.2,1859.4 L393.4,1860.3 L394.6,1861.1 L395.8,1861.7 L397.0,1862.1 L398.2,1862.4 L399.4,1862.7 L400.6,1862.9 L401.8,1863.0 L403.0,1863.1 L404.2,1863.1 L405.4,1863.2 L406.6,1863.2 L407.8,1863.3 L409.0,1863.3 L410.2,1863.3 L411.4,1863.3" fill="none" stroke="#1a9aa0" stroke-width="1.8" stroke-linejoin="round"/>
<path d="M205.0,1863.3 L206.2,1863.3 L207.4,1863.3 L208.6,1863.3 L209.8,1863.3 L211.0,1863.3 L212.2,1863.3 L213.4,1863.3 L214.6,1863.3 L215.8,1863.3 L217.0,1863.3 L218.2,1863.3 L219.4,1863.3 L220.6,1863.3 L221.8,1863.3 L223.0,1863.3 L224.2,1863.3 L225.4,1863.3 L226.6,1863.3 L227.8,1863.3 L229.0,1863.3 L230.2,1863.3 L231.4,1863.3 L232.6,1863.3 L233.8,1863.3 L235.0,1863.3 L236.2,1863.3 L237.4,1863.3 L238.6,1863.3 L239.8,1863.3 L241.0,1863.3 L242.2,1863.3 L243.4,1863.3 L244.6,1863.3 L245.8,1863.2 L247.0,1863.2 L248.2,1863.2 L249.4,1863.2 L250.6,1863.2 L251.8,1863.2 L253.0,1863.2 L254.2,1863.2 L255.4,1863.2 L256.6,1863.2 L257.8,1863.1 L259.0,1863.1 L260.2,1863.1 L261.4,1863.1 L262.6,1863.0 L263.8,1863.0 L265.0,1863.0 L266.2,1862.9 L267.4,1862.9 L268.6,1862.8 L269.8,1862.8 L271.0,1862.7 L272.2,1862.6 L273.4,1862.6 L274.6,1862.5 L275.8,1862.4 L277.0,1862.3 L278.2,1862.2 L279.4,1862.1 L280.6,1861.9 L281.8,1861.8 L283.0,1861.6 L284.2,1861.4 L285.4,1861.2 L286.6,1861.0 L287.8,1860.7 L289.0,1860.4 L290.2,1860.1 L291.4,1859.8 L292.6,1859.4 L293.8,1859.0 L295.0,1858.5 L296.2,1856.1 L297.4,1855.4 L298.6,1857.0 L299.8,1857.8 L301.0,1858.8 L302.2,1853.7 L303.4,1854.1 L304.6,1851.3 L305.8,1852.8 L307.0,1849.1 L308.2,1851.2 L309.4,1846.4 L310.6,1845.5 L311.8,1846.0 L313.0,1843.6 L314.2,1840.8 L315.4,1842.1 L316.6,1837.6 L317.8,1833.7 L319.0,1834.9 L320.2,1828.6 L321.4,1826.6 L322.6,1822.4 L323.8,1822.7 L325.0,1821.0 L326.2,1812.2 L327.4,1808.1 L328.6,1806.5 L329.8,1804.7 L331.0,1799.1 L332.2,1790.6 L333.4,1787.9 L334.6,1776.6 L335.8,1773.6 L337.0,1770.8 L338.2,1759.8 L339.4,1755.6 L340.6,1742.3 L341.8,1734.7 L343.0,1730.9 L344.2,1721.0 L345.4,1711.6 L346.6,1701.1 L347.8,1689.2 L349.0,1694.2 L350.2,1679.7 L351.4,1666.1 L352.6,1662.0 L353.8,1647.2 L355.0,1648.3 L356.2,1622.6 L357.4,1622.3 L358.6,1625.0 L359.8,1606.5 L361.0,1615.7 L362.2,1622.1 L363.4,1621.3 L364.6,1637.6 L365.8,1646.4 L367.0,1645.9 L368.2,1663.5 L369.4,1689.8 L370.6,1693.7 L371.8,1720.0 L373.0,1731.6 L374.2,1740.9 L375.4,1758.9 L376.6,1775.7 L377.8,1787.9 L379.0,1799.5 L380.2,1811.9 L381.4,1814.9 L382.6,1829.7 L383.8,1834.1 L385.0,1837.8 L386.2,1845.1 L387.4,1845.3 L388.6,1853.5 L389.8,1851.3 L391.0,1854.0 L392.2,1858.3 L393.4,1859.6 L394.6,1860.6 L395.8,1861.3 L397.0,1861.9 L398.2,1862.3 L399.4,1862.6 L400.6,1862.8 L401.8,1863.0 L403.0,1863.1 L404.2,1863.1 L405.4,1863.2 L406.6,1863.2 L407.8,1863.3 L409.0,1863.3 L410.2,1863.3 L411.4,1863.3" fill="none" stroke="#2f9fe6" stroke-width="1.8" stroke-linejoin="round"/>
<path d="M205.0,1863.3 L206.2,1863.3 L207.4,1863.3 L208.6,1863.3 L209.8,1863.3 L211.0,1863.3 L212.2,1863.3 L213.4,1863.3 L214.6,1863.3 L215.8,1863.3 L217.0,1863.3 L218.2,1863.3 L219.4,1863.3 L220.6,1863.3 L221.8,1863.3 L223.0,1863.3 L224.2,1863.3 L225.4,1863.3 L226.6,1863.3 L227.8,1863.3 L229.0,1863.3 L230.2,1863.3 L231.4,1863.3 L232.6,1863.3 L233.8,1863.3 L235.0,1863.3 L236.2,1863.3 L237.4,1863.3 L238.6,1863.3 L239.8,1863.3 L241.0,1863.3 L242.2,1863.3 L243.4,1863.3 L244.6,1863.2 L245.8,1863.2 L247.0,1863.2 L248.2,1863.2 L249.4,1863.2 L250.6,1863.2 L251.8,1863.2 L253.0,1863.2 L254.2,1863.2 L255.4,1863.2 L256.6,1863.1 L257.8,1863.1 L259.0,1863.1 L260.2,1863.1 L261.4,1863.0 L262.6,1863.0 L263.8,1863.0 L265.0,1863.0 L266.2,1862.9 L267.4,1862.9 L268.6,1862.8 L269.8,1862.8 L271.0,1862.7 L272.2,1862.6 L273.4,1862.6 L274.6,1862.5 L275.8,1862.4 L277.0,1862.3 L278.2,1862.2 L279.4,1862.1 L280.6,1861.9 L281.8,1861.8 L283.0,1861.6 L284.2,1861.4 L285.4,1861.2 L286.6,1861.0 L287.8,1860.8 L289.0,1860.5 L290.2,1860.2 L291.4,1859.9 L292.6,1859.5 L293.8,1859.2 L295.0,1858.7 L296.2,1858.3 L297.4,1858.9 L298.6,1859.5 L299.8,1855.7 L301.0,1858.8 L302.2,1855.0 L303.4,1855.4 L304.6,1856.6 L305.8,1852.7 L307.0,1854.8 L308.2,1851.1 L309.4,1852.3 L310.6,1850.9 L311.8,1847.4 L313.0,1843.2 L314.2,1846.3 L315.4,1843.9 L316.6,1839.3 L317.8,1835.2 L319.0,1835.5 L320.2,1834.4 L321.4,1827.9 L322.6,1831.6 L323.8,1823.1 L325.0,1824.0 L326.2,1821.7 L327.4,1818.4 L328.6,1813.3 L329.8,1805.6 L331.0,1806.1 L332.2,1798.5 L333.4,1793.2 L334.6,1790.2 L335.8,1783.4 L337.0,1781.9 L338.2,1776.1 L339.4,1768.6 L340.6,1757.5 L341.8,1753.1 L343.0,1747.0 L344.2,1736.6 L345.4,1730.2 L346.6,1724.0 L347.8,1709.3 L349.0,1701.8 L350.2,1699.4 L351.4,1685.5 L352.6,1677.0 L353.8,1661.6 L355.0,1654.6 L356.2,1653.8 L357.4,1630.6 L358.6,1640.2 L359.8,1625.5 L361.0,1610.0 L362.2,1618.8 L363.4,1608.0 L364.6,1621.6 L365.8,1611.3 L367.0,1617.2 L368.2,1632.1 L369.4,1638.5 L370.6,1663.5 L371.8,1672.2 L373.0,1690.2 L374.2,1707.1 L375.4,1725.2 L376.6,1737.2 L377.8,1752.1 L379.0,1771.3 L380.2,1783.3 L381.4,1800.4 L382.6,1806.5 L383.8,1816.7 L385.0,1822.7 L386.2,1831.2 L387.4,1840.9 L388.6,1845.3 L389.8,1847.6 L391.0,1855.2 L392.2,1855.0 L393.4,1859.0 L394.6,1858.5 L395.8,1859.8 L397.0,1860.7 L398.2,1861.5 L399.4,1862.0 L400.6,1862.4 L401.8,1862.7 L403.0,1862.9 L404.2,1863.0 L405.4,1863.1 L406.6,1863.2 L407.8,1863.2 L409.0,1863.2 L410.2,1863.3 L411.4,1863.3" fill="none" stroke="#1f5fb8" stroke-width="1.8" stroke-linejoin="round"/>
<path d="M205.0,1863.3 L206.2,1863.3 L207.4,1863.3 L208.6,1863.3 L209.8,1863.3 L211.0,1863.3 L212.2,1863.3 L213.4,1863.3 L214.6,1863.3 L215.8,1863.3 L217.0,1863.3 L218.2,1863.3 L219.4,1863.3 L220.6,1863.3 L221.8,1863.3 L223.0,1863.3 L224.2,1863.3 L225.4,1863.3 L226.6,1863.3 L227.8,1863.3 L229.0,1863.3 L230.2,1863.3 L231.4,1863.3 L232.6,1863.3 L233.8,1863.3 L235.0,1863.3 L236.2,1863.3 L237.4,1863.3 L238.6,1863.3 L239.8,1863.3 L241.0,1863.3 L242.2,1863.3 L243.4,1863.3 L244.6,1863.3 L245.8,1863.3 L247.0,1863.3 L248.2,1863.3 L249.4,1863.3 L250.6,1863.3 L251.8,1863.3 L253.0,1863.3 L254.2,1863.3 L255.4,1863.3 L256.6,1863.2 L257.8,1863.2 L259.0,1863.2 L260.2,1863.2 L261.4,1863.2 L262.6,1863.2 L263.8,1863.2 L265.0,1863.2 L266.2,1863.2 L267.4,1863.1 L268.6,1863.1 L269.8,1863.1 L271.0,1863.1 L272.2,1863.0 L273.4,1863.0 L274.6,1863.0 L275.8,1862.9 L277.0,1862.9 L278.2,1862.8 L279.4,1862.8 L280.6,1862.7 L281.8,1862.6 L283.0,1862.5 L284.2,1862.5 L285.4,1862.4 L286.6,1862.2 L287.8,1862.1 L289.0,1862.0 L290.2,1861.8 L291.4,1861.7 L292.6,1861.5 L293.8,1861.3 L295.0,1861.0 L296.2,1860.8 L297.4,1860.5 L298.6,1860.2 L299.8,1859.8 L301.0,1859.4 L302.2,1859.0 L303.4,1858.6 L304.6,1859.8 L305.8,1854.5 L307.0,1859.3 L308.2,1854.8 L309.4,1858.2 L310.6,1856.3 L311.8,1850.5 L313.0,1854.7 L314.2,1850.8 L315.4,1850.8 L316.6,1849.6 L317.8,1847.9 L319.0,1848.4 L320.2,1842.5 L321.4,1845.7 L322.6,1842.8 L323.8,1842.1 L325.0,1838.2 L326.2,1834.8 L327.4,1828.8 L328.6,1829.5 L329.8,1828.3 L331.0,1824.0 L332.2,1815.2 L333.4,1818.0 L334.6,1809.9 L335.8,1807.3 L337.0,1800.5 L338.2,1798.0 L339.4,1789.9 L340.6,1785.8 L341.8,1778.6 L343.0,1770.0 L344.2,1766.1 L345.4,1763.3 L346.6,1756.9 L347.8,1740.0 L349.0,1736.8 L350.2,1731.9 L351.4,1714.0 L352.6,1709.5 L353.8,1698.1 L355.0,1686.1 L356.2,1685.6 L357.4,1674.8 L358.6,1655.8 L359.8,1660.0 L361.0,1638.1 L362.2,1643.1 L363.4,1621.6 L364.6,1613.8 L365.8,1602.3 L367.0,1605.4 L368.2,1617.8 L369.4,1631.8 L370.6,1642.0 L371.8,1645.8 L373.0,1660.0 L374.2,1682.6 L375.4,1685.7 L376.6,1708.4 L377.8,1722.9 L379.0,1744.9 L380.2,1760.2 L381.4,1777.0 L382.6,1787.7 L383.8,1800.7 L385.0,1810.5 L386.2,1820.6 L387.4,1825.8 L388.6,1832.6 L389.8,1843.4 L391.0,1846.8 L392.2,1852.3 L393.4,1852.2 L394.6,1852.7 L395.8,1859.7 L397.0,1859.2 L398.2,1860.4 L399.4,1861.2 L400.6,1861.8 L401.8,1862.3 L403.0,1862.6 L404.2,1862.8 L405.4,1863.0 L406.6,1863.1 L407.8,1863.2 L409.0,1863.2 L410.2,1863.2 L411.4,1863.3" fill="none" stroke="#d42a2a" stroke-width="1.8" stroke-linejoin="round"/>
<path d="M205.0,1863.3 L206.2,1863.3 L207.4,1863.3 L208.6,1863.3 L209.8,1863.3 L211.0,1863.3 L212.2,1863.3 L213.4,1863.3 L214.6,1863.3 L215.8,1863.3 L217.0,1863.3 L218.2,1863.3 L219.4,1863.3 L220.6,1863.3 L221.8,1863.3 L223.0,1863.3 L224.2,1863.3 L225.4,1863.3 L226.6,1863.3 L227.8,1863.3 L229.0,1863.3 L230.2,1863.3 L231.4,1863.3 L232.6,1863.3 L233.8,1863.3 L235.0,1863.3 L236.2,1863.3 L237.4,1863.3 L238.6,1863.3 L239.8,1863.3 L241.0,1863.3 L242.2,1863.2 L243.4,1863.2 L244.6,1863.2 L245.8,1863.2 L247.0,1863.2 L248.2,1863.2 L249.4,1863.2 L250.6,1863.2 L251.8,1863.2 L253.0,1863.2 L254.2,1863.1 L255.4,1863.1 L256.6,1863.1 L257.8,1863.1 L259.0,1863.0 L260.2,1863.0 L261.4,1863.0 L262.6,1863.0 L263.8,1862.9 L265.0,1862.9 L266.2,1862.8 L267.4,1862.8 L268.6,1862.7 L269.8,1862.7 L271.0,1862.6 L272.2,1862.5 L273.4,1862.4 L274.6,1862.3 L275.8,1862.2 L277.0,1862.1 L278.2,1862.0 L279.4,1861.8 L280.6,1861.7 L281.8,1861.5 L283.0,1861.3 L284.2,1861.1 L285.4,1860.9 L286.6,1860.7 L287.8,1860.4 L289.0,1860.1 L290.2,1859.8 L291.4,1859.5 L292.6,1859.1 L293.8,1858.7 L295.0,1858.3 L296.2,1858.0 L297.4,1858.1 L298.6,1859.0 L299.8,1853.6 L301.0,1858.6 L302.2,1854.6 L303.4,1851.2 L304.6,1855.7 L305.8,1851.6 L307.0,1850.2 L308.2,1852.9 L309.4,1849.5 L310.6,1846.0 L311.8,1846.3 L313.0,1843.0 L314.2,1845.1 L315.4,1842.9 L316.6,1841.8 L317.8,1837.2 L319.0,1832.2 L320.2,1832.1 L321.4,1828.3 L322.6,1828.4 L323.8,1823.0 L325.0,1824.4 L326.2,1819.9 L327.4,1813.7 L328.6,1809.6 L329.8,1807.9 L331.0,1806.3 L332.2,1800.5 L333.4,1796.3 L334.6,1790.8 L335.8,1781.3 L337.0,1780.9 L338.2,1769.1 L339.4,1762.9 L340.6,1764.3 L341.8,1754.5 L343.0,1746.4 L344.2,1744.3 L345.4,1732.3 L346.6,1718.7 L347.8,1720.5 L349.0,1705.8 L350.2,1704.0 L351.4,1688.5 L352.6,1674.4 L353.8,1676.7 L355.0,1671.4 L356.2,1661.3 L357.4,1643.5 L358.6,1645.7 L359.8,1636.1 L361.0,1618.7 L362.2,1602.3 L363.4,1607.3 L364.6,1605.0 L365.8,1602.3 L367.0,1619.6 L368.2,1615.0 L369.4,1634.1 L370.6,1636.4 L371.8,1643.4 L373.0,1675.1 L374.2,1682.2 L375.4,1698.0 L376.6,1720.5 L377.8,1734.9 L379.0,1742.9 L380.2,1758.3 L381.4,1780.2 L382.6,1788.1 L383.8,1797.9 L385.0,1813.6 L386.2,1819.9 L387.4,1831.7 L388.6,1836.2 L389.8,1839.8 L391.0,1845.1 L392.2,1847.7 L393.4,1855.4 L394.6,1856.2 L395.8,1854.8 L397.0,1858.7 L398.2,1859.9 L399.4,1860.8 L400.6,1861.5 L401.8,1862.0 L403.0,1862.4 L404.2,1862.7 L405.4,1862.9 L406.6,1863.0 L407.8,1863.1 L409.0,1863.2 L410.2,1863.2 L411.4,1863.2" fill="none" stroke="#1a2a6a" stroke-width="1.8" stroke-linejoin="round"/>
</g>
<line x1="140.9" y1="2010.3" x2="140.9" y2="2241.7" stroke="#222" stroke-width="2" />
<line x1="132.9" y1="2010.3" x2="140.9" y2="2010.3" stroke="#222" stroke-width="2" />
<text x="54.41" y="2019.11" font-size="24.83" stroke="#000">50000</text>
<line x1="132.9" y1="2056.6" x2="140.9" y2="2056.6" stroke="#222" stroke-width="2" />
<text x="54.41" y="2065.39" font-size="24.83" stroke="#000">40000</text>
<line x1="132.9" y1="2102.9" x2="140.9" y2="2102.9" stroke="#222" stroke-width="2" />
<text x="54.41" y="2111.67" font-size="24.83" stroke="#000">30000</text>
<line x1="132.9" y1="2149.1" x2="140.9" y2="2149.1" stroke="#222" stroke-width="2" />
<text x="54.41" y="2157.95" font-size="24.83" stroke="#000">20000</text>
<line x1="132.9" y1="2195.4" x2="140.9" y2="2195.4" stroke="#222" stroke-width="2" />
<text x="54.41" y="2204.23" font-size="24.83" stroke="#000">10000</text>
<line x1="132.9" y1="2241.7" x2="140.9" y2="2241.7" stroke="#222" stroke-width="2" />
<text x="109.65" y="2250.51" font-size="24.83" stroke="#000">0</text>
<line x1="132.2" y1="2241.7" x2="486.8" y2="2241.7" stroke="#222" stroke-width="2" />
<line x1="167.6" y1="2241.7" x2="167.6" y2="2249.7" stroke="#222" stroke-width="2" />
<line x1="209.5" y1="2241.7" x2="209.5" y2="2249.7" stroke="#222" stroke-width="2" />
<line x1="251.5" y1="2241.7" x2="251.5" y2="2249.7" stroke="#222" stroke-width="2" />
<line x1="292.7" y1="2241.7" x2="292.7" y2="2249.7" stroke="#222" stroke-width="2" />
<line x1="334.6" y1="2241.7" x2="334.6" y2="2249.7" stroke="#222" stroke-width="2" />
<line x1="376.2" y1="2241.7" x2="376.2" y2="2249.7" stroke="#222" stroke-width="2" />
<line x1="418.1" y1="2241.7" x2="418.1" y2="2249.7" stroke="#222" stroke-width="2" />
<line x1="459.4" y1="2241.7" x2="459.4" y2="2249.7" stroke="#222" stroke-width="2" />
<text transform="translate(30.60,2158.62) rotate(-90)" font-size="28.11" stroke="#000">MFI</text>
<circle cx="167.6" cy="2033.2" r="5.8" fill="#3c3c3c" />
<circle cx="167.6" cy="2051.5" r="5.8" fill="#3c3c3c" />
<circle cx="167.6" cy="2079.6" r="5.8" fill="#3c3c3c" />
<line x1="167.6" y1="2041.9" x2="167.6" y2="2068.3" stroke="#3c3c3c" stroke-width="2.6" />
<line x1="160.1" y1="2041.9" x2="175.1" y2="2041.9" stroke="#3c3c3c" stroke-width="2.6" />
<line x1="160.1" y1="2068.3" x2="175.1" y2="2068.3" stroke="#3c3c3c" stroke-width="2.6" />
<line x1="154.1" y1="2054.8" x2="181.1" y2="2054.8" stroke="#111" stroke-width="3.0" />
<rect x="203.7" y="2028.0" width="11.6" height="11.6" fill="#27358f" />
<rect x="203.7" y="2040.9" width="11.6" height="11.6" fill="#27358f" />
<rect x="203.7" y="2062.8" width="11.6" height="11.6" fill="#27358f" />
<line x1="209.5" y1="2040.9" x2="209.5" y2="2061.2" stroke="#27358f" stroke-width="2.6" />
<line x1="202.0" y1="2040.9" x2="217.0" y2="2040.9" stroke="#27358f" stroke-width="2.6" />
<line x1="202.0" y1="2061.2" x2="217.0" y2="2061.2" stroke="#27358f" stroke-width="2.6" />
<line x1="196.0" y1="2050.9" x2="223.0" y2="2050.9" stroke="#111" stroke-width="3.0" />
<circle cx="243.5" cy="2101.5" r="5.8" fill="#f49a2a" />
<circle cx="245.5" cy="2112.8" r="5.8" fill="#f49a2a" />
<circle cx="263.5" cy="2112.8" r="5.8" fill="#f49a2a" />
<line x1="251.5" y1="2106.4" x2="251.5" y2="2112.5" stroke="#f49a2a" stroke-width="2.6" />
<line x1="244.0" y1="2106.4" x2="259.0" y2="2106.4" stroke="#f49a2a" stroke-width="2.6" />
<line x1="244.0" y1="2112.5" x2="259.0" y2="2112.5" stroke="#f49a2a" stroke-width="2.6" />
<line x1="238.0" y1="2109.6" x2="265.0" y2="2109.6" stroke="#111" stroke-width="3.0" />
<line x1="238.0" y1="2109.6" x2="265.0" y2="2109.6" stroke="#111" stroke-width="2.8" stroke-dasharray="7 4"/>
<polygon points="282.7,2060.8 289.6,2067.7 282.7,2074.6 275.8,2067.7" fill="#4a92d8"/>
<polygon points="304.7,2065.6 311.6,2072.5 304.7,2079.4 297.8,2072.5" fill="#4a92d8"/>
<polygon points="282.7,2072.1 289.6,2079.0 282.7,2085.9 275.8,2079.0" fill="#4a92d8"/>
<line x1="292.7" y1="2070.5" x2="292.7" y2="2074.5" stroke="#4a92d8" stroke-width="2.6" />
<line x1="285.2" y1="2070.5" x2="300.2" y2="2070.5" stroke="#4a92d8" stroke-width="2.6" />
<line x1="285.2" y1="2074.5" x2="300.2" y2="2074.5" stroke="#4a92d8" stroke-width="2.6" />
<line x1="279.2" y1="2072.5" x2="306.2" y2="2072.5" stroke="#111" stroke-width="3.0" />
<circle cx="334.6" cy="2037.0" r="6.1" fill="#c0202f" />
<circle cx="324.6" cy="2095.7" r="6.1" fill="#c0202f" />
<circle cx="344.6" cy="2089.3" r="6.1" fill="#c0202f" />
<line x1="334.6" y1="2055.7" x2="334.6" y2="2092.5" stroke="#c0202f" stroke-width="2.6" />
<line x1="327.1" y1="2055.7" x2="342.1" y2="2055.7" stroke="#c0202f" stroke-width="2.6" />
<line x1="327.1" y1="2092.5" x2="342.1" y2="2092.5" stroke="#c0202f" stroke-width="2.6" />
<line x1="321.1" y1="2074.1" x2="348.1" y2="2074.1" stroke="#111" stroke-width="3.0" />
<rect x="370.4" y="2081.2" width="11.6" height="11.6" fill="#1e9e4a" />
<rect x="360.4" y="2098.0" width="11.6" height="11.6" fill="#1e9e4a" />
<rect x="382.4" y="2097.3" width="11.6" height="11.6" fill="#1e9e4a" />
<line x1="376.2" y1="2093.0" x2="376.2" y2="2104.0" stroke="#1e9e4a" stroke-width="2.6" />
<line x1="368.7" y1="2093.0" x2="383.7" y2="2093.0" stroke="#1e9e4a" stroke-width="2.6" />
<line x1="368.7" y1="2104.0" x2="383.7" y2="2104.0" stroke="#1e9e4a" stroke-width="2.6" />
<line x1="362.7" y1="2099.0" x2="389.7" y2="2099.0" stroke="#111" stroke-width="3.0" />
<line x1="418.1" y1="2093.3" x2="418.1" y2="2105.3" stroke="#1f60ae" stroke-width="2.6" />
<line x1="423.3" y1="2096.3" x2="412.9" y2="2102.3" stroke="#1f60ae" stroke-width="2.6" />
<line x1="423.3" y1="2102.3" x2="412.9" y2="2096.3" stroke="#1f60ae" stroke-width="2.6" />
<line x1="412.1" y1="2099.3" x2="424.1" y2="2099.3" stroke="#1f60ae" stroke-width="2.6" />
<line x1="418.1" y1="2122.9" x2="418.1" y2="2134.9" stroke="#1f60ae" stroke-width="2.6" />
<line x1="423.3" y1="2125.9" x2="412.9" y2="2131.9" stroke="#1f60ae" stroke-width="2.6" />
<line x1="423.3" y1="2131.9" x2="412.9" y2="2125.9" stroke="#1f60ae" stroke-width="2.6" />
<line x1="412.1" y1="2128.9" x2="424.1" y2="2128.9" stroke="#1f60ae" stroke-width="2.6" />
<line x1="418.1" y1="2099.3" x2="418.1" y2="2128.9" stroke="#1f60ae" stroke-width="2.6" />
<line x1="410.6" y1="2099.3" x2="425.6" y2="2099.3" stroke="#1f60ae" stroke-width="2.6" />
<line x1="410.6" y1="2128.9" x2="425.6" y2="2128.9" stroke="#1f60ae" stroke-width="2.6" />
<line x1="404.6" y1="2113.8" x2="431.6" y2="2113.8" stroke="#111" stroke-width="3.0" />
<circle cx="451.6" cy="2241.7" r="4.6" fill="none" stroke="#a0a0a0" stroke-width="2.2"/>
<circle cx="459.4" cy="2241.7" r="4.6" fill="none" stroke="#a0a0a0" stroke-width="2.2"/>
<circle cx="467.8" cy="2241.7" r="4.6" fill="none" stroke="#a0a0a0" stroke-width="2.2"/>
<path d="M174,1996.7 L174,1989.7 L255.6,1989.7 L255.6,1996.7" fill="none" stroke="#222" stroke-width="2"/>
<text x="211.8" y="1993.0" font-size="27" text-anchor="middle" font-weight="bold"  stroke="#000">*</text>
<path d="M208.9,2027.4 L208.9,2019.3 L255.6,2019.3 L255.6,2027.4" fill="none" stroke="#222" stroke-width="2"/>
<text x="232.1" y="2022.0" font-size="27" text-anchor="middle" font-weight="bold"  stroke="#000">*</text>
<text transform="translate(162.51,2267.79) rotate(-45)" font-size="24.87" text-anchor="end" stroke="#000"><tspan fill="#3a3a3a" stroke="#3a3a3a">C57BL/6N</tspan><tspan fill="#000" stroke="#000"> (p11-13)</tspan></text>
<text transform="translate(205.52,2267.78) rotate(-45)" font-size="24.87" text-anchor="end" stroke="#000"><tspan fill="#1f4a80" stroke="#1f4a80">BG (95%)</tspan><tspan fill="#000" stroke="#000"> (p12-14)</tspan></text>
<text transform="translate(251.73,2267.77) rotate(-45)" font-size="24.87" text-anchor="end" stroke="#000"><tspan fill="#f0922a" stroke="#f0922a">HB (24)</tspan><tspan fill="#000" stroke="#000"> (p12-14)</tspan></text>
<text transform="translate(296.84,2267.76) rotate(-45)" font-size="24.87" text-anchor="end" stroke="#000"><tspan fill="#35a8dc" stroke="#35a8dc">BG (99%)</tspan><tspan fill="#000" stroke="#000"> (p11-13)</tspan></text>
<text transform="translate(340.03,2267.77) rotate(-45)" font-size="24.87" text-anchor="end" stroke="#000"><tspan fill="#b8203a" stroke="#b8203a">HB (100%)</tspan><tspan fill="#000" stroke="#000"> (p10-12)</tspan></text>
<text transform="translate(392.52,2267.78) rotate(-45)" font-size="24.87" text-anchor="end" stroke="#000"><tspan fill="#1a6e3e" stroke="#1a6e3e">ST (46%)</tspan><tspan fill="#000" stroke="#000"> (p16-18)</tspan></text>
<text transform="translate(441.51,2267.79) rotate(-45)" font-size="24.87" text-anchor="end" stroke="#000"><tspan fill="#2a4a9a" stroke="#2a4a9a">E14</tspan><tspan fill="#000" stroke="#000"> (p25-27)</tspan></text>
<text transform="translate(483.84,2268.46) rotate(-45)" font-size="24.87" text-anchor="end" stroke="#000"><tspan fill="#999" stroke="#999">no stain</tspan></text>
<text x="1058.69" y="1546.00" font-size="32.76" font-weight="bold"  stroke="#000">Cell competition assays - Pluripotency</text>
<line x1="623.3" y1="1560.3" x2="2050.5" y2="1560.3" stroke="#333" stroke-width="2" />
<text x="604.34" y="1680.40" font-size="49.00" font-weight="bold"  stroke="#000">g</text>
<rect x="671.6" y="1689.9" width="50.8" height="31.6" fill="#1aab4b" stroke="#111" stroke-width="2" />
<text x="733.95" y="1715.50" font-size="23.27"  stroke="#000">ST (46%)</text>
<rect x="859.0" y="1689.9" width="52.3" height="31.6" fill="#5e5e5e" stroke="#111" stroke-width="2" />
<text x="916.12" y="1715.50" font-size="23.65"  stroke="#000">C57BL/6N</text>
<text x="881.67" y="1757.00" font-size="23.61"  stroke="#000">p=0.06</text>
<line x1="888.8" y1="1768.4" x2="946.7" y2="1768.4" stroke="#222" stroke-width="2" />
<line x1="710.0" y1="1763.2" x2="717.5" y2="1763.2" stroke="#222" stroke-width="2" />
<text x="673.12" y="1772.26" font-size="25.53" stroke="#000">60</text>
<line x1="710.0" y1="1821.1" x2="717.5" y2="1821.1" stroke="#222" stroke-width="2" />
<text x="673.12" y="1830.16" font-size="25.53" stroke="#000">40</text>
<line x1="710.0" y1="1879.0" x2="717.5" y2="1879.0" stroke="#222" stroke-width="2" />
<text x="673.12" y="1888.06" font-size="25.53" stroke="#000">20</text>
<line x1="710.0" y1="1936.9" x2="717.5" y2="1936.9" stroke="#222" stroke-width="2" />
<text x="687.29" y="1945.96" font-size="25.53" stroke="#000">0</text>
<line x1="717.5" y1="1763.2" x2="717.5" y2="1936.9" stroke="#222" stroke-width="2" />
<line x1="710.0" y1="1936.9" x2="978.0" y2="1936.9" stroke="#222" stroke-width="2" />
<line x1="779.3" y1="1936.9" x2="779.3" y2="1944.4" stroke="#222" stroke-width="2" />
<line x1="914.9" y1="1936.9" x2="914.9" y2="1944.4" stroke="#222" stroke-width="2" />
<rect x="736.8" y="1843.7" width="36.3" height="93.2" fill="#0fab0f" stroke="#111" stroke-width="2" />
<rect x="786.7" y="1852.3" width="35.9" height="84.6" fill="#5e5e5e" stroke="#111" stroke-width="2" />
<rect x="872.3" y="1814.9" width="36.3" height="122.0" fill="#0fab0f" stroke="#111" stroke-width="2" />
<rect x="921.7" y="1866.6" width="35.6" height="70.3" fill="#5e5e5e" stroke="#111" stroke-width="2" />
<line x1="755.0" y1="1843.7" x2="755.0" y2="1832.6" stroke="#0fab0f" stroke-width="2" />
<line x1="745.2" y1="1832.6" x2="764.8" y2="1832.6" stroke="#0fab0f" stroke-width="2" />
<line x1="804.7" y1="1852.3" x2="804.7" y2="1845.7" stroke="#111" stroke-width="2" />
<line x1="794.9" y1="1845.7" x2="814.5" y2="1845.7" stroke="#111" stroke-width="2" />
<line x1="890.5" y1="1814.9" x2="890.5" y2="1799.4" stroke="#0fab0f" stroke-width="2" />
<line x1="880.7" y1="1799.4" x2="900.2" y2="1799.4" stroke="#0fab0f" stroke-width="2" />
<line x1="939.5" y1="1866.6" x2="939.5" y2="1856.8" stroke="#111" stroke-width="2" />
<line x1="929.7" y1="1856.8" x2="949.3" y2="1856.8" stroke="#111" stroke-width="2" />
<circle cx="755.0" cy="1823.9" r="5.3" fill="#66e028" />
<circle cx="755.0" cy="1846.2" r="5.3" fill="#66e028" />
<circle cx="755.0" cy="1858.0" r="5.3" fill="#66e028" />
<circle cx="804.4" cy="1841.0" r="5.3" fill="#000" />
<circle cx="792.0" cy="1862.0" r="5.3" fill="#000" />
<circle cx="817.4" cy="1854.1" r="5.3" fill="#000" />
<circle cx="890.4" cy="1785.4" r="5.3" fill="#66e028" />
<circle cx="890.4" cy="1819.9" r="5.3" fill="#66e028" />
<circle cx="890.4" cy="1838.7" r="5.3" fill="#66e028" />
<circle cx="939.4" cy="1847.3" r="5.3" fill="#000" />
<circle cx="926.7" cy="1880.7" r="5.3" fill="#000" />
<circle cx="951.9" cy="1870.0" r="5.3" fill="#000" />
<text x="737.99" y="1973.70" font-size="24.74"  stroke="#000">Separate</text>
<text x="867.17" y="1973.70" font-size="24.60"  stroke="#000">Co-culture</text>
<text transform="translate(650.10,2011.89) rotate(-90)" font-size="26.59" stroke="#000">Final / Initial cell numbers</text>
<text x="1125.57" y="1680.70" font-size="49.00" font-weight="bold"  stroke="#000">h</text>
<rect x="1211.6" y="1690.2" width="48.9" height="30.4" fill="#f7941d" stroke="#111" stroke-width="2" />
<text x="1269.27" y="1715.80" font-size="23.40"  stroke="#000">HB (24%)</text>
<rect x="1386.7" y="1690.2" width="48.9" height="30.4" fill="#4a88cc" stroke="#111" stroke-width="2" />
<text x="1445.27" y="1715.80" font-size="23.40"  stroke="#000">BG (99%)</text>
<line x1="1228.0" y1="1765.6" x2="1235.5" y2="1765.6" stroke="#222" stroke-width="2" />
<text x="1191.12" y="1774.66" font-size="25.53" stroke="#000">60</text>
<line x1="1228.0" y1="1823.4" x2="1235.5" y2="1823.4" stroke="#222" stroke-width="2" />
<text x="1191.12" y="1832.46" font-size="25.53" stroke="#000">40</text>
<line x1="1228.0" y1="1881.2" x2="1235.5" y2="1881.2" stroke="#222" stroke-width="2" />
<text x="1191.12" y="1890.26" font-size="25.53" stroke="#000">20</text>
<line x1="1228.0" y1="1939.0" x2="1235.5" y2="1939.0" stroke="#222" stroke-width="2" />
<text x="1205.29" y="1948.06" font-size="25.53" stroke="#000">0</text>
<line x1="1235.5" y1="1765.6" x2="1235.5" y2="1939.0" stroke="#222" stroke-width="2" />
<line x1="1228.0" y1="1939.0" x2="1495.5" y2="1939.0" stroke="#222" stroke-width="2" />
<line x1="1297.3" y1="1939.0" x2="1297.3" y2="1946.5" stroke="#222" stroke-width="2" />
<line x1="1432.4" y1="1939.0" x2="1432.4" y2="1946.5" stroke="#222" stroke-width="2" />
<rect x="1255.1" y="1843.4" width="35.4" height="95.6" fill="#f7941d" stroke="#111" stroke-width="2" />
<rect x="1304.8" y="1831.6" width="35.5" height="107.4" fill="#4a88cc" stroke="#111" stroke-width="2" />
<rect x="1390.2" y="1824.0" width="35.5" height="115.0" fill="#f7941d" stroke="#111" stroke-width="2" />
<rect x="1439.1" y="1867.8" width="35.5" height="71.2" fill="#4a88cc" stroke="#111" stroke-width="2" />
<line x1="1272.8" y1="1843.4" x2="1272.8" y2="1836.1" stroke="#a0561a" stroke-width="2" />
<line x1="1263.0" y1="1836.1" x2="1282.6" y2="1836.1" stroke="#a0561a" stroke-width="2" />
<line x1="1322.5" y1="1831.6" x2="1322.5" y2="1826.0" stroke="#1f5fa8" stroke-width="2" />
<line x1="1312.8" y1="1826.0" x2="1332.3" y2="1826.0" stroke="#1f5fa8" stroke-width="2" />
<line x1="1408.0" y1="1824.0" x2="1408.0" y2="1820.5" stroke="#a0561a" stroke-width="2" />
<line x1="1398.2" y1="1820.5" x2="1417.8" y2="1820.5" stroke="#a0561a" stroke-width="2" />
<line x1="1456.8" y1="1867.8" x2="1456.8" y2="1860.8" stroke="#1f5fa8" stroke-width="2" />
<line x1="1447.0" y1="1860.8" x2="1466.6" y2="1860.8" stroke="#1f5fa8" stroke-width="2" />
<circle cx="1272.5" cy="1829.4" r="5.3" fill="#a0561a" />
<circle cx="1260.5" cy="1851.4" r="5.3" fill="#a0561a" />
<circle cx="1285.2" cy="1847.7" r="5.3" fill="#a0561a" />
<circle cx="1322.3" cy="1821.9" r="5.3" fill="#1f5fa8" />
<circle cx="1309.6" cy="1839.4" r="5.3" fill="#1f5fa8" />
<circle cx="1335.1" cy="1834.0" r="5.3" fill="#1f5fa8" />
<circle cx="1395.6" cy="1818.1" r="5.3" fill="#a0561a" />
<circle cx="1395.6" cy="1830.8" r="5.3" fill="#a0561a" />
<circle cx="1420.3" cy="1821.4" r="5.3" fill="#a0561a" />
<circle cx="1444.0" cy="1857.1" r="5.3" fill="#1f5fa8" />
<circle cx="1456.6" cy="1881.0" r="5.3" fill="#1f5fa8" />
<circle cx="1469.5" cy="1865.7" r="5.3" fill="#1f5fa8" />
<text x="1247.29" y="1974.00" font-size="24.69"  stroke="#000">Separate</text>
<text x="1374.76" y="1974.00" font-size="24.85"  stroke="#000">Co-culture</text>
<text transform="translate(1165.00,2014.29) rotate(-90)" font-size="26.59" stroke="#000">Final / Initial cell numbers</text>
<line x1="1323.6" y1="1774.3" x2="1454.4" y2="1774.3" stroke="#222" stroke-width="2" />
<text x="1381.34" y="1776.26" font-size="22.34" font-weight="bold"  stroke="#000">*</text>
<line x1="1404.2" y1="1804.4" x2="1454.4" y2="1804.4" stroke="#222" stroke-width="2" />
<text x="1418.33" y="1811.46" font-size="26.71" font-weight="bold"  stroke="#000">**</text>
<text x="1621.47" y="1680.60" font-size="49.00" font-weight="bold"  stroke="#000">i</text>
<rect x="1709.1" y="1690.0" width="48.6" height="31.0" fill="#f7a21d" stroke="#111" stroke-width="2" />
<text x="1767.30" y="1715.90" font-size="23.09"  stroke="#000">HB (24%)</text>
<rect x="1892.5" y="1690.0" width="49.9" height="31.0" fill="#18a34a" stroke="#111" stroke-width="2" />
<text x="1953.65" y="1715.90" font-size="23.29"  stroke="#000">ST (46%)</text>
<line x1="1721.5" y1="1764.1" x2="1729.0" y2="1764.1" stroke="#222" stroke-width="2" />
<text x="1684.62" y="1773.16" font-size="25.53" stroke="#000">60</text>
<line x1="1721.5" y1="1821.6" x2="1729.0" y2="1821.6" stroke="#222" stroke-width="2" />
<text x="1684.62" y="1830.66" font-size="25.53" stroke="#000">40</text>
<line x1="1721.5" y1="1879.1" x2="1729.0" y2="1879.1" stroke="#222" stroke-width="2" />
<text x="1684.62" y="1888.16" font-size="25.53" stroke="#000">20</text>
<line x1="1721.5" y1="1936.6" x2="1729.0" y2="1936.6" stroke="#222" stroke-width="2" />
<text x="1698.79" y="1945.66" font-size="25.53" stroke="#000">0</text>
<line x1="1729.0" y1="1764.1" x2="1729.0" y2="1936.6" stroke="#222" stroke-width="2" />
<line x1="1721.5" y1="1936.6" x2="1987.4" y2="1936.6" stroke="#222" stroke-width="2" />
<line x1="1791.0" y1="1936.6" x2="1791.0" y2="1944.1" stroke="#222" stroke-width="2" />
<line x1="1925.2" y1="1936.6" x2="1925.2" y2="1944.1" stroke="#222" stroke-width="2" />
<rect x="1748.7" y="1842.5" width="35.5" height="94.1" fill="#f7941d" stroke="#111" stroke-width="2" />
<rect x="1797.8" y="1854.7" width="36.0" height="81.9" fill="#18a34a" stroke="#111" stroke-width="2" />
<rect x="1883.2" y="1850.1" width="35.5" height="86.5" fill="#f7941d" stroke="#111" stroke-width="2" />
<rect x="1932.3" y="1867.3" width="36.0" height="69.3" fill="#18a34a" stroke="#111" stroke-width="2" />
<line x1="1766.5" y1="1842.5" x2="1766.5" y2="1828.3" stroke="#a0561a" stroke-width="2" />
<line x1="1756.7" y1="1828.3" x2="1776.2" y2="1828.3" stroke="#a0561a" stroke-width="2" />
<line x1="1815.8" y1="1854.7" x2="1815.8" y2="1842.7" stroke="#18a34a" stroke-width="2" />
<line x1="1806.0" y1="1842.7" x2="1825.6" y2="1842.7" stroke="#18a34a" stroke-width="2" />
<line x1="1901.0" y1="1850.1" x2="1901.0" y2="1834.5" stroke="#a0561a" stroke-width="2" />
<line x1="1891.2" y1="1834.5" x2="1910.8" y2="1834.5" stroke="#a0561a" stroke-width="2" />
<line x1="1950.3" y1="1867.3" x2="1950.3" y2="1855.0" stroke="#18a34a" stroke-width="2" />
<line x1="1940.5" y1="1855.0" x2="1960.1" y2="1855.0" stroke="#18a34a" stroke-width="2" />
<circle cx="1766.4" cy="1814.6" r="5.3" fill="#9a5418" />
<circle cx="1754.2" cy="1858.3" r="5.3" fill="#9a5418" />
<circle cx="1779.3" cy="1852.8" r="5.3" fill="#9a5418" />
<circle cx="1815.6" cy="1832.9" r="5.3" fill="#5fe030" />
<circle cx="1815.6" cy="1856.9" r="5.3" fill="#5fe030" />
<circle cx="1815.6" cy="1872.7" r="5.3" fill="#5fe030" />
<circle cx="1901.0" cy="1820.6" r="5.3" fill="#9a5418" />
<circle cx="1888.4" cy="1864.6" r="5.3" fill="#9a5418" />
<circle cx="1913.8" cy="1862.9" r="5.3" fill="#9a5418" />
<circle cx="1950.0" cy="1844.1" r="5.3" fill="#5fe030" />
<circle cx="1937.5" cy="1882.8" r="5.3" fill="#5fe030" />
<circle cx="1962.3" cy="1873.3" r="5.3" fill="#5fe030" />
<text x="1732.59" y="1974.20" font-size="24.76"  stroke="#000">Separate</text>
<text x="1859.36" y="1974.20" font-size="24.73"  stroke="#000">Co-culture</text>
<text transform="translate(1660.00,2011.89) rotate(-90)" font-size="26.57" stroke="#000">Final / Initial cell numbers</text>
<text x="605.24" y="2116.50" font-size="49.00" font-weight="bold"  stroke="#000">j</text>
<text x="957.79" y="2127.00" font-size="32.70" font-weight="bold"  stroke="#000">Bulk RNA-Seq experimental design - Pluripotency</text>
<line x1="628.0" y1="2141.0" x2="2055.5" y2="2141.0" stroke="#333" stroke-width="2" />
<text x="741.64" y="2173.10" font-size="28.64" font-weight="bold"  stroke="#000">Separate culture</text>
<text x="796.38" y="2215.50" font-size="29.29"  stroke="#000">HB(24%)</text>
<defs><filter id="cellblur" x="-30%" y="-30%" width="160%" height="160%"><feGaussianBlur stdDeviation="2"/></filter></defs>
<polygon points="810.0,2272.3 823.0,2239.6 853.0,2241.0 893.7,2245.8 880.7,2274.1 845.3,2275.0" fill="#f6a21f" stroke="#f6a21f" stroke-width="8" stroke-linejoin="round"/>
<ellipse cx="823.0" cy="2239.6" rx="18.1" ry="18.1" fill="#f6a21f"/>
<ellipse cx="853.0" cy="2241.0" rx="21.0" ry="18.3" fill="#f6a21f"/>
<ellipse cx="893.7" cy="2245.8" rx="22.5" ry="21.5" fill="#f6a21f"/>
<ellipse cx="810.0" cy="2272.3" rx="20.5" ry="20.0" fill="#f6a21f"/>
<ellipse cx="845.3" cy="2275.0" rx="20.1" ry="20.9" fill="#f6a21f"/>
<ellipse cx="880.7" cy="2274.1" rx="20.4" ry="19.1" fill="#f6a21f"/>
<ellipse cx="823.0" cy="2239.6" rx="15.6" ry="15.6" fill="#f6a21f" stroke="#ef981a" stroke-width="1.6"/>
<ellipse cx="823.5" cy="2238.1" rx="11.2" ry="11.2" fill="#f8b04a" filter="url(#cellblur)"/>
<ellipse cx="853.0" cy="2241.0" rx="18.5" ry="15.8" fill="#f6a21f" stroke="#ef981a" stroke-width="1.6"/>
<ellipse cx="853.5" cy="2239.5" rx="13.3" ry="11.4" fill="#f8b04a" filter="url(#cellblur)"/>
<ellipse cx="893.7" cy="2245.8" rx="20.0" ry="19.0" fill="#f6a21f" stroke="#ef981a" stroke-width="1.6"/>
<ellipse cx="894.2" cy="2244.3" rx="14.4" ry="13.7" fill="#f8b04a" filter="url(#cellblur)"/>
<ellipse cx="810.0" cy="2272.3" rx="18.0" ry="17.5" fill="#f6a21f" stroke="#ef981a" stroke-width="1.6"/>
<ellipse cx="810.5" cy="2270.8" rx="13.0" ry="12.6" fill="#f8b04a" filter="url(#cellblur)"/>
<ellipse cx="845.3" cy="2275.0" rx="17.6" ry="18.4" fill="#f6a21f" stroke="#ef981a" stroke-width="1.6"/>
<ellipse cx="845.8" cy="2273.5" rx="12.7" ry="13.2" fill="#f8b04a" filter="url(#cellblur)"/>
<ellipse cx="880.7" cy="2274.1" rx="17.9" ry="16.6" fill="#f6a21f" stroke="#ef981a" stroke-width="1.6"/>
<ellipse cx="881.2" cy="2272.6" rx="12.9" ry="12.0" fill="#f8b04a" filter="url(#cellblur)"/>
<text x="793.88" y="2355.20" font-size="29.29"  stroke="#000">BG(95%)</text>
<polygon points="808.7,2404.7 833.7,2382.5 863.4,2383.6 895.7,2387.2 877.4,2417.3 841.8,2417.3" fill="#1b6bb7" stroke="#1b6bb7" stroke-width="8" stroke-linejoin="round"/>
<ellipse cx="808.7" cy="2404.7" rx="17.5" ry="21.5" fill="#1b6bb7"/>
<ellipse cx="833.7" cy="2382.5" rx="17.5" ry="20.3" fill="#1b6bb7"/>
<ellipse cx="863.4" cy="2383.6" rx="18.5" ry="20.1" fill="#1b6bb7"/>
<ellipse cx="895.7" cy="2387.2" rx="20.3" ry="20.1" fill="#1b6bb7"/>
<ellipse cx="841.8" cy="2417.3" rx="20.1" ry="18.8" fill="#1b6bb7"/>
<ellipse cx="877.4" cy="2417.3" rx="20.8" ry="18.8" fill="#1b6bb7"/>
<ellipse cx="808.7" cy="2404.7" rx="15.0" ry="19.0" fill="#1b6bb7" stroke="#14609f" stroke-width="1.6"/>
<ellipse cx="809.2" cy="2403.2" rx="10.8" ry="13.7" fill="#2279c4" filter="url(#cellblur)"/>
<ellipse cx="833.7" cy="2382.5" rx="15.0" ry="17.8" fill="#1b6bb7" stroke="#14609f" stroke-width="1.6"/>
<ellipse cx="834.2" cy="2381.0" rx="10.8" ry="12.8" fill="#2279c4" filter="url(#cellblur)"/>
<ellipse cx="863.4" cy="2383.6" rx="16.0" ry="17.6" fill="#1b6bb7" stroke="#14609f" stroke-width="1.6"/>
<ellipse cx="863.9" cy="2382.1" rx="11.5" ry="12.7" fill="#2279c4" filter="url(#cellblur)"/>
<ellipse cx="895.7" cy="2387.2" rx="17.8" ry="17.6" fill="#1b6bb7" stroke="#14609f" stroke-width="1.6"/>
<ellipse cx="896.2" cy="2385.7" rx="12.8" ry="12.7" fill="#2279c4" filter="url(#cellblur)"/>
<ellipse cx="841.8" cy="2417.3" rx="17.6" ry="16.3" fill="#1b6bb7" stroke="#14609f" stroke-width="1.6"/>
<ellipse cx="842.3" cy="2415.8" rx="12.7" ry="11.7" fill="#2279c4" filter="url(#cellblur)"/>
<ellipse cx="877.4" cy="2417.3" rx="18.3" ry="16.3" fill="#1b6bb7" stroke="#14609f" stroke-width="1.6"/>
<ellipse cx="877.9" cy="2415.8" rx="13.2" ry="11.7" fill="#2279c4" filter="url(#cellblur)"/>
<line x1="951.0" y1="2256.7" x2="1091.5" y2="2303.6" stroke="#3a3a3a" stroke-width="4.2" />
<polygon points="1108.6,2309.3 1084.9,2310.9 1092.5,2303.9 1090.6,2293.8" fill="#3a3a3a"/>
<line x1="952.8" y1="2384.6" x2="1093.3" y2="2337.6" stroke="#3a3a3a" stroke-width="4.2" />
<polygon points="1110.4,2331.9 1092.4,2347.4 1094.3,2337.3 1086.7,2330.3" fill="#3a3a3a"/>
<text x="1113.01" y="2205.80" font-size="28.83"  stroke="#000">suspension</text>
<text x="1143.48" y="2172.00" font-size="28.83"  stroke="#000">mixed</text>
<polygon points="1168.1,2248.5 1196.1,2248.5 1196.1,2345.4 1182.1,2371.0 1168.1,2345.4" fill="#fff"/>
<polygon points="1168.1,2300.4 1196.1,2300.4 1196.1,2345.4 1182.1,2371.0 1168.1,2345.4" fill="#f1cde5"/>
<polygon points="1168.1,2248.5 1196.1,2248.5 1196.1,2345.4 1182.1,2371.0 1168.1,2345.4" fill="none" stroke="#8a8a8a" stroke-width="1.3"/>
<line x1="1175.1" y1="2259.8" x2="1189.1" y2="2259.8" stroke="#8a8a8a" stroke-width="1.3" />
<line x1="1175.1" y1="2266.7" x2="1189.1" y2="2266.7" stroke="#8a8a8a" stroke-width="1.3" />
<line x1="1175.1" y1="2273.5" x2="1189.1" y2="2273.5" stroke="#8a8a8a" stroke-width="1.3" />
<line x1="1175.1" y1="2280.3" x2="1189.1" y2="2280.3" stroke="#8a8a8a" stroke-width="1.3" />
<line x1="1175.1" y1="2287.2" x2="1189.1" y2="2287.2" stroke="#8a8a8a" stroke-width="1.3" />
<line x1="1175.1" y1="2294.0" x2="1189.1" y2="2294.0" stroke="#8a8a8a" stroke-width="1.3" />
<line x1="1175.1" y1="2300.9" x2="1189.1" y2="2300.9" stroke="#7a6272" stroke-width="1.3" />
<line x1="1175.1" y1="2307.7" x2="1189.1" y2="2307.7" stroke="#7a6272" stroke-width="1.3" />
<line x1="1175.1" y1="2314.6" x2="1189.1" y2="2314.6" stroke="#7a6272" stroke-width="1.3" />
<line x1="1175.1" y1="2321.4" x2="1189.1" y2="2321.4" stroke="#7a6272" stroke-width="1.3" />
<line x1="1175.1" y1="2328.3" x2="1189.1" y2="2328.3" stroke="#7a6272" stroke-width="1.3" />
<line x1="1175.1" y1="2335.1" x2="1189.1" y2="2335.1" stroke="#7a6272" stroke-width="1.3" />
<line x1="1175.1" y1="2342.0" x2="1189.1" y2="2342.0" stroke="#7a6272" stroke-width="1.3" />
<rect x="1162.6" y="2227.8" width="39" height="20.7" rx="3" fill="#8c1d8c"/>
<line x1="1166.1" y1="2229.3" x2="1166.1" y2="2247.0" stroke="#6a0f6a" stroke-width="1.1" />
<line x1="1170.5" y1="2229.3" x2="1170.5" y2="2247.0" stroke="#6a0f6a" stroke-width="1.1" />
<line x1="1174.9" y1="2229.3" x2="1174.9" y2="2247.0" stroke="#6a0f6a" stroke-width="1.1" />
<line x1="1179.3" y1="2229.3" x2="1179.3" y2="2247.0" stroke="#6a0f6a" stroke-width="1.1" />
<line x1="1183.7" y1="2229.3" x2="1183.7" y2="2247.0" stroke="#6a0f6a" stroke-width="1.1" />
<line x1="1188.1" y1="2229.3" x2="1188.1" y2="2247.0" stroke="#6a0f6a" stroke-width="1.1" />
<line x1="1192.5" y1="2229.3" x2="1192.5" y2="2247.0" stroke="#6a0f6a" stroke-width="1.1" />
<line x1="1196.9" y1="2229.3" x2="1196.9" y2="2247.0" stroke="#6a0f6a" stroke-width="1.1" />
<line x1="1254.4" y1="2312.6" x2="1309.6" y2="2312.6" stroke="#3a3a3a" stroke-width="4.2" />
<polygon points="1327.6,2312.6 1305.6,2321.6 1310.6,2312.6 1305.6,2303.6" fill="#3a3a3a"/>
<text x="1325.78" y="2200.30" font-size="29.39"  stroke="#000">HB(24%)</text>
<text x="1471.98" y="2200.30" font-size="29.37"  stroke="#000">BG(95%)</text>
<polygon points="1371.7,2248.5 1399.7,2248.5 1399.7,2345.4 1385.7,2371.0 1371.7,2345.4" fill="#fff"/>
<polygon points="1371.7,2300.4 1399.7,2300.4 1399.7,2345.4 1385.7,2371.0 1371.7,2345.4" fill="#f1cde5"/>
<polygon points="1371.7,2248.5 1399.7,2248.5 1399.7,2345.4 1385.7,2371.0 1371.7,2345.4" fill="none" stroke="#8a8a8a" stroke-width="1.3"/>
<line x1="1378.7" y1="2259.8" x2="1392.7" y2="2259.8" stroke="#8a8a8a" stroke-width="1.3" />
<line x1="1378.7" y1="2266.7" x2="1392.7" y2="2266.7" stroke="#8a8a8a" stroke-width="1.3" />
<line x1="1378.7" y1="2273.5" x2="1392.7" y2="2273.5" stroke="#8a8a8a" stroke-width="1.3" />
<line x1="1378.7" y1="2280.3" x2="1392.7" y2="2280.3" stroke="#8a8a8a" stroke-width="1.3" />
<line x1="1378.7" y1="2287.2" x2="1392.7" y2="2287.2" stroke="#8a8a8a" stroke-width="1.3" />
<line x1="1378.7" y1="2294.0" x2="1392.7" y2="2294.0" stroke="#8a8a8a" stroke-width="1.3" />
<line x1="1378.7" y1="2300.9" x2="1392.7" y2="2300.9" stroke="#7a6272" stroke-width="1.3" />
<line x1="1378.7" y1="2307.7" x2="1392.7" y2="2307.7" stroke="#7a6272" stroke-width="1.3" />
<line x1="1378.7" y1="2314.6" x2="1392.7" y2="2314.6" stroke="#7a6272" stroke-width="1.3" />
<line x1="1378.7" y1="2321.4" x2="1392.7" y2="2321.4" stroke="#7a6272" stroke-width="1.3" />
<line x1="1378.7" y1="2328.3" x2="1392.7" y2="2328.3" stroke="#7a6272" stroke-width="1.3" />
<line x1="1378.7" y1="2335.1" x2="1392.7" y2="2335.1" stroke="#7a6272" stroke-width="1.3" />
<line x1="1378.7" y1="2342.0" x2="1392.7" y2="2342.0" stroke="#7a6272" stroke-width="1.3" />
<rect x="1366.2" y="2227.8" width="39" height="20.7" rx="3" fill="#8c1d8c"/>
<line x1="1369.7" y1="2229.3" x2="1369.7" y2="2247.0" stroke="#6a0f6a" stroke-width="1.1" />
<line x1="1374.1" y1="2229.3" x2="1374.1" y2="2247.0" stroke="#6a0f6a" stroke-width="1.1" />
<line x1="1378.5" y1="2229.3" x2="1378.5" y2="2247.0" stroke="#6a0f6a" stroke-width="1.1" />
<line x1="1382.9" y1="2229.3" x2="1382.9" y2="2247.0" stroke="#6a0f6a" stroke-width="1.1" />
<line x1="1387.3" y1="2229.3" x2="1387.3" y2="2247.0" stroke="#6a0f6a" stroke-width="1.1" />
<line x1="1391.7" y1="2229.3" x2="1391.7" y2="2247.0" stroke="#6a0f6a" stroke-width="1.1" />
<line x1="1396.1" y1="2229.3" x2="1396.1" y2="2247.0" stroke="#6a0f6a" stroke-width="1.1" />
<line x1="1400.5" y1="2229.3" x2="1400.5" y2="2247.0" stroke="#6a0f6a" stroke-width="1.1" />
<polygon points="1518.2,2248.5 1546.2,2248.5 1546.2,2345.4 1532.2,2371.0 1518.2,2345.4" fill="#fff"/>
<polygon points="1518.2,2300.4 1546.2,2300.4 1546.2,2345.4 1532.2,2371.0 1518.2,2345.4" fill="#f1cde5"/>
<polygon points="1518.2,2248.5 1546.2,2248.5 1546.2,2345.4 1532.2,2371.0 1518.2,2345.4" fill="none" stroke="#8a8a8a" stroke-width="1.3"/>
<line x1="1525.2" y1="2259.8" x2="1539.2" y2="2259.8" stroke="#8a8a8a" stroke-width="1.3" />
<line x1="1525.2" y1="2266.7" x2="1539.2" y2="2266.7" stroke="#8a8a8a" stroke-width="1.3" />
<line x1="1525.2" y1="2273.5" x2="1539.2" y2="2273.5" stroke="#8a8a8a" stroke-width="1.3" />
<line x1="1525.2" y1="2280.3" x2="1539.2" y2="2280.3" stroke="#8a8a8a" stroke-width="1.3" />
<line x1="1525.2" y1="2287.2" x2="1539.2" y2="2287.2" stroke="#8a8a8a" stroke-width="1.3" />
<line x1="1525.2" y1="2294.0" x2="1539.2" y2="2294.0" stroke="#8a8a8a" stroke-width="1.3" />
<line x1="1525.2" y1="2300.9" x2="1539.2" y2="2300.9" stroke="#7a6272" stroke-width="1.3" />
<line x1="1525.2" y1="2307.7" x2="1539.2" y2="2307.7" stroke="#7a6272" stroke-width="1.3" />
<line x1="1525.2" y1="2314.6" x2="1539.2" y2="2314.6" stroke="#7a6272" stroke-width="1.3" />
<line x1="1525.2" y1="2321.4" x2="1539.2" y2="2321.4" stroke="#7a6272" stroke-width="1.3" />
<line x1="1525.2" y1="2328.3" x2="1539.2" y2="2328.3" stroke="#7a6272" stroke-width="1.3" />
<line x1="1525.2" y1="2335.1" x2="1539.2" y2="2335.1" stroke="#7a6272" stroke-width="1.3" />
<line x1="1525.2" y1="2342.0" x2="1539.2" y2="2342.0" stroke="#7a6272" stroke-width="1.3" />
<rect x="1512.7" y="2227.8" width="39" height="20.7" rx="3" fill="#8c1d8c"/>
<line x1="1516.2" y1="2229.3" x2="1516.2" y2="2247.0" stroke="#6a0f6a" stroke-width="1.1" />
<line x1="1520.6" y1="2229.3" x2="1520.6" y2="2247.0" stroke="#6a0f6a" stroke-width="1.1" />
<line x1="1525.0" y1="2229.3" x2="1525.0" y2="2247.0" stroke="#6a0f6a" stroke-width="1.1" />
<line x1="1529.4" y1="2229.3" x2="1529.4" y2="2247.0" stroke="#6a0f6a" stroke-width="1.1" />
<line x1="1533.8" y1="2229.3" x2="1533.8" y2="2247.0" stroke="#6a0f6a" stroke-width="1.1" />
<line x1="1538.2" y1="2229.3" x2="1538.2" y2="2247.0" stroke="#6a0f6a" stroke-width="1.1" />
<line x1="1542.6" y1="2229.3" x2="1542.6" y2="2247.0" stroke="#6a0f6a" stroke-width="1.1" />
<line x1="1547.0" y1="2229.3" x2="1547.0" y2="2247.0" stroke="#6a0f6a" stroke-width="1.1" />
<line x1="1596.0" y1="2304.0" x2="1701.9" y2="2372.2" stroke="#3a3a3a" stroke-width="4.2" />
<polygon points="1717.0,2382.0 1693.6,2377.6 1702.7,2372.8 1703.4,2362.5" fill="#3a3a3a"/>
<rect x="946.9" y="2429.3" width="168.9" height="51.9" fill="#fff" stroke="#333" stroke-width="2" />
<text x="959.32" y="2464.20" font-size="30.64" font-weight="bold"  stroke="#000">trypsinise</text>
<rect x="1239.4" y="2430.7" width="103.9" height="49.3" fill="#fff" stroke="#333" stroke-width="2" />
<text x="1253.29" y="2464.20" font-size="28.24" font-weight="bold"  stroke="#000">FACS</text>
<rect x="1614.6" y="2413.3" width="178.4" height="82.4" fill="#fff" stroke="#333" stroke-width="2" />
<text x="1630.17" y="2485.90" font-size="30.87" font-weight="bold"  stroke="#000">extraction</text>
<text x="1665.93" y="2449.80" font-size="30.87" font-weight="bold"  stroke="#000">RNA</text>
<line x1="1802.0" y1="2454.5" x2="1844.0" y2="2454.5" stroke="#3a3a3a" stroke-width="4.2" />
<polygon points="1862.0,2454.5 1840.0,2463.5 1845.0,2454.5 1840.0,2445.5" fill="#3a3a3a"/>
<rect x="1867.5" y="2413.3" width="167.9" height="83.6" fill="#000" />
<text x="1879.61" y="2443.50" font-size="31.00" font-weight="bold" fill="#fff"  stroke="#fff">RNA-Seq</text>
<text x="1876.79" y="2480.00" font-size="30.19" font-weight="bold" fill="#fff"  stroke="#fff">and GSEA</text>
<text x="781.55" y="2582.50" font-size="28.84" font-weight="bold"  stroke="#000">Co-culture</text>
<text x="703.92" y="2628.40" font-size="28.80"  stroke="#000">HB(24%) and BG(95%)</text>
<polygon points="809.5,2684.8 831.9,2659.3 896.6,2667.4 876.7,2695.8 839.1,2692.7" fill="#f6a21f" stroke="#f6a21f" stroke-width="8" stroke-linejoin="round"/>
<ellipse cx="831.9" cy="2659.3" rx="19.2" ry="20.3" fill="#f6a21f"/>
<ellipse cx="876.7" cy="2695.8" rx="21.0" ry="17.9" fill="#f6a21f"/>
<ellipse cx="863.0" cy="2664.0" rx="19.9" ry="21.9" fill="#1b6bb7"/>
<ellipse cx="896.6" cy="2667.4" rx="21.2" ry="21.2" fill="#1b6bb7"/>
<ellipse cx="809.5" cy="2684.8" rx="20.1" ry="22.1" fill="#1b6bb7"/>
<ellipse cx="839.1" cy="2692.7" rx="21.9" ry="21.0" fill="#f6a21f"/>
<ellipse cx="831.9" cy="2659.3" rx="16.7" ry="17.8" fill="#f6a21f" stroke="#ef981a" stroke-width="1.6"/>
<ellipse cx="832.4" cy="2657.8" rx="12.0" ry="12.8" fill="#f8b04a" filter="url(#cellblur)"/>
<ellipse cx="876.7" cy="2695.8" rx="18.5" ry="15.4" fill="#f6a21f" stroke="#ef981a" stroke-width="1.6"/>
<ellipse cx="877.2" cy="2694.3" rx="13.3" ry="11.1" fill="#f8b04a" filter="url(#cellblur)"/>
<ellipse cx="863.0" cy="2664.0" rx="17.4" ry="19.4" fill="#1b6bb7" stroke="#14609f" stroke-width="1.6"/>
<ellipse cx="863.5" cy="2662.5" rx="12.5" ry="14.0" fill="#2279c4" filter="url(#cellblur)"/>
<ellipse cx="896.6" cy="2667.4" rx="18.7" ry="18.7" fill="#1b6bb7" stroke="#14609f" stroke-width="1.6"/>
<ellipse cx="897.1" cy="2665.9" rx="13.5" ry="13.5" fill="#2279c4" filter="url(#cellblur)"/>
<ellipse cx="809.5" cy="2684.8" rx="17.6" ry="19.6" fill="#1b6bb7" stroke="#14609f" stroke-width="1.6"/>
<ellipse cx="810.0" cy="2683.3" rx="12.7" ry="14.1" fill="#2279c4" filter="url(#cellblur)"/>
<ellipse cx="839.1" cy="2692.7" rx="19.4" ry="18.5" fill="#f6a21f" stroke="#ef981a" stroke-width="1.6"/>
<ellipse cx="839.6" cy="2691.2" rx="14.0" ry="13.3" fill="#f8b04a" filter="url(#cellblur)"/>
<line x1="952.2" y1="2675.2" x2="1092.4" y2="2675.2" stroke="#3a3a3a" stroke-width="4.2" />
<polygon points="1110.4,2675.2 1088.4,2684.2 1093.4,2675.2 1088.4,2666.2" fill="#3a3a3a"/>
<text x="1113.21" y="2557.60" font-size="28.85"  stroke="#000">suspension</text>
<text x="1143.45" y="2523.00" font-size="28.85"  stroke="#000">mixed</text>
<polygon points="1167.5,2592.5 1195.5,2592.5 1195.5,2688.5 1181.5,2715.0 1167.5,2688.5" fill="#fff"/>
<polygon points="1167.5,2644.8 1195.5,2644.8 1195.5,2688.5 1181.5,2715.0 1167.5,2688.5" fill="#f1cde5"/>
<polygon points="1167.5,2592.5 1195.5,2592.5 1195.5,2688.5 1181.5,2715.0 1167.5,2688.5" fill="none" stroke="#8a8a8a" stroke-width="1.3"/>
<line x1="1174.5" y1="2603.8" x2="1188.5" y2="2603.8" stroke="#8a8a8a" stroke-width="1.3" />
<line x1="1174.5" y1="2610.7" x2="1188.5" y2="2610.7" stroke="#8a8a8a" stroke-width="1.3" />
<line x1="1174.5" y1="2617.5" x2="1188.5" y2="2617.5" stroke="#8a8a8a" stroke-width="1.3" />
<line x1="1174.5" y1="2624.3" x2="1188.5" y2="2624.3" stroke="#8a8a8a" stroke-width="1.3" />
<line x1="1174.5" y1="2631.2" x2="1188.5" y2="2631.2" stroke="#8a8a8a" stroke-width="1.3" />
<line x1="1174.5" y1="2638.0" x2="1188.5" y2="2638.0" stroke="#8a8a8a" stroke-width="1.3" />
<line x1="1174.5" y1="2644.9" x2="1188.5" y2="2644.9" stroke="#7a6272" stroke-width="1.3" />
<line x1="1174.5" y1="2651.7" x2="1188.5" y2="2651.7" stroke="#7a6272" stroke-width="1.3" />
<line x1="1174.5" y1="2658.6" x2="1188.5" y2="2658.6" stroke="#7a6272" stroke-width="1.3" />
<line x1="1174.5" y1="2665.4" x2="1188.5" y2="2665.4" stroke="#7a6272" stroke-width="1.3" />
<line x1="1174.5" y1="2672.3" x2="1188.5" y2="2672.3" stroke="#7a6272" stroke-width="1.3" />
<line x1="1174.5" y1="2679.1" x2="1188.5" y2="2679.1" stroke="#7a6272" stroke-width="1.3" />
<line x1="1174.5" y1="2686.0" x2="1188.5" y2="2686.0" stroke="#7a6272" stroke-width="1.3" />
<rect x="1162.0" y="2572.5" width="39" height="20.0" rx="3" fill="#8c1d8c"/>
<line x1="1165.5" y1="2574.0" x2="1165.5" y2="2591.0" stroke="#6a0f6a" stroke-width="1.1" />
<line x1="1169.9" y1="2574.0" x2="1169.9" y2="2591.0" stroke="#6a0f6a" stroke-width="1.1" />
<line x1="1174.3" y1="2574.0" x2="1174.3" y2="2591.0" stroke="#6a0f6a" stroke-width="1.1" />
<line x1="1178.7" y1="2574.0" x2="1178.7" y2="2591.0" stroke="#6a0f6a" stroke-width="1.1" />
<line x1="1183.1" y1="2574.0" x2="1183.1" y2="2591.0" stroke="#6a0f6a" stroke-width="1.1" />
<line x1="1187.5" y1="2574.0" x2="1187.5" y2="2591.0" stroke="#6a0f6a" stroke-width="1.1" />
<line x1="1191.9" y1="2574.0" x2="1191.9" y2="2591.0" stroke="#6a0f6a" stroke-width="1.1" />
<line x1="1196.3" y1="2574.0" x2="1196.3" y2="2591.0" stroke="#6a0f6a" stroke-width="1.1" />
<line x1="1254.3" y1="2658.8" x2="1309.5" y2="2658.8" stroke="#3a3a3a" stroke-width="4.2" />
<polygon points="1327.5,2658.8 1305.5,2667.8 1310.5,2658.8 1305.5,2649.8" fill="#3a3a3a"/>
<text x="1326.28" y="2551.60" font-size="29.29"  stroke="#000">HB(24%)</text>
<text x="1472.40" y="2551.40" font-size="29.12"  stroke="#000">BG(95%)</text>
<polygon points="1371.5,2593.7 1399.5,2593.7 1399.5,2689.2 1385.5,2714.0 1371.5,2689.2" fill="#fff"/>
<polygon points="1371.5,2645.3 1399.5,2645.3 1399.5,2689.2 1385.5,2714.0 1371.5,2689.2" fill="#f1cde5"/>
<polygon points="1371.5,2593.7 1399.5,2593.7 1399.5,2689.2 1385.5,2714.0 1371.5,2689.2" fill="none" stroke="#8a8a8a" stroke-width="1.3"/>
<line x1="1378.5" y1="2605.0" x2="1392.5" y2="2605.0" stroke="#8a8a8a" stroke-width="1.3" />
<line x1="1378.5" y1="2611.8" x2="1392.5" y2="2611.8" stroke="#8a8a8a" stroke-width="1.3" />
<line x1="1378.5" y1="2618.7" x2="1392.5" y2="2618.7" stroke="#8a8a8a" stroke-width="1.3" />
<line x1="1378.5" y1="2625.5" x2="1392.5" y2="2625.5" stroke="#8a8a8a" stroke-width="1.3" />
<line x1="1378.5" y1="2632.4" x2="1392.5" y2="2632.4" stroke="#8a8a8a" stroke-width="1.3" />
<line x1="1378.5" y1="2639.2" x2="1392.5" y2="2639.2" stroke="#8a8a8a" stroke-width="1.3" />
<line x1="1378.5" y1="2646.1" x2="1392.5" y2="2646.1" stroke="#7a6272" stroke-width="1.3" />
<line x1="1378.5" y1="2652.9" x2="1392.5" y2="2652.9" stroke="#7a6272" stroke-width="1.3" />
<line x1="1378.5" y1="2659.8" x2="1392.5" y2="2659.8" stroke="#7a6272" stroke-width="1.3" />
<line x1="1378.5" y1="2666.6" x2="1392.5" y2="2666.6" stroke="#7a6272" stroke-width="1.3" />
<line x1="1378.5" y1="2673.5" x2="1392.5" y2="2673.5" stroke="#7a6272" stroke-width="1.3" />
<line x1="1378.5" y1="2680.3" x2="1392.5" y2="2680.3" stroke="#7a6272" stroke-width="1.3" />
<line x1="1378.5" y1="2687.2" x2="1392.5" y2="2687.2" stroke="#7a6272" stroke-width="1.3" />
<rect x="1366.0" y="2573.6" width="39" height="20.1" rx="3" fill="#8c1d8c"/>
<line x1="1369.5" y1="2575.1" x2="1369.5" y2="2592.2" stroke="#6a0f6a" stroke-width="1.1" />
<line x1="1373.9" y1="2575.1" x2="1373.9" y2="2592.2" stroke="#6a0f6a" stroke-width="1.1" />
<line x1="1378.3" y1="2575.1" x2="1378.3" y2="2592.2" stroke="#6a0f6a" stroke-width="1.1" />
<line x1="1382.7" y1="2575.1" x2="1382.7" y2="2592.2" stroke="#6a0f6a" stroke-width="1.1" />
<line x1="1387.1" y1="2575.1" x2="1387.1" y2="2592.2" stroke="#6a0f6a" stroke-width="1.1" />
<line x1="1391.5" y1="2575.1" x2="1391.5" y2="2592.2" stroke="#6a0f6a" stroke-width="1.1" />
<line x1="1395.9" y1="2575.1" x2="1395.9" y2="2592.2" stroke="#6a0f6a" stroke-width="1.1" />
<line x1="1400.3" y1="2575.1" x2="1400.3" y2="2592.2" stroke="#6a0f6a" stroke-width="1.1" />
<polygon points="1518.0,2593.7 1546.0,2593.7 1546.0,2689.2 1532.0,2714.0 1518.0,2689.2" fill="#fff"/>
<polygon points="1518.0,2645.3 1546.0,2645.3 1546.0,2689.2 1532.0,2714.0 1518.0,2689.2" fill="#f1cde5"/>
<polygon points="1518.0,2593.7 1546.0,2593.7 1546.0,2689.2 1532.0,2714.0 1518.0,2689.2" fill="none" stroke="#8a8a8a" stroke-width="1.3"/>
<line x1="1525.0" y1="2605.0" x2="1539.0" y2="2605.0" stroke="#8a8a8a" stroke-width="1.3" />
<line x1="1525.0" y1="2611.8" x2="1539.0" y2="2611.8" stroke="#8a8a8a" stroke-width="1.3" />
<line x1="1525.0" y1="2618.7" x2="1539.0" y2="2618.7" stroke="#8a8a8a" stroke-width="1.3" />
<line x1="1525.0" y1="2625.5" x2="1539.0" y2="2625.5" stroke="#8a8a8a" stroke-width="1.3" />
<line x1="1525.0" y1="2632.4" x2="1539.0" y2="2632.4" stroke="#8a8a8a" stroke-width="1.3" />
<line x1="1525.0" y1="2639.2" x2="1539.0" y2="2639.2" stroke="#8a8a8a" stroke-width="1.3" />
<line x1="1525.0" y1="2646.1" x2="1539.0" y2="2646.1" stroke="#7a6272" stroke-width="1.3" />
<line x1="1525.0" y1="2652.9" x2="1539.0" y2="2652.9" stroke="#7a6272" stroke-width="1.3" />
<line x1="1525.0" y1="2659.8" x2="1539.0" y2="2659.8" stroke="#7a6272" stroke-width="1.3" />
<line x1="1525.0" y1="2666.6" x2="1539.0" y2="2666.6" stroke="#7a6272" stroke-width="1.3" />
<line x1="1525.0" y1="2673.5" x2="1539.0" y2="2673.5" stroke="#7a6272" stroke-width="1.3" />
<line x1="1525.0" y1="2680.3" x2="1539.0" y2="2680.3" stroke="#7a6272" stroke-width="1.3" />
<line x1="1525.0" y1="2687.2" x2="1539.0" y2="2687.2" stroke="#7a6272" stroke-width="1.3" />
<rect x="1512.5" y="2573.6" width="39" height="20.1" rx="3" fill="#8c1d8c"/>
<line x1="1516.0" y1="2575.1" x2="1516.0" y2="2592.2" stroke="#6a0f6a" stroke-width="1.1" />
<line x1="1520.4" y1="2575.1" x2="1520.4" y2="2592.2" stroke="#6a0f6a" stroke-width="1.1" />
<line x1="1524.8" y1="2575.1" x2="1524.8" y2="2592.2" stroke="#6a0f6a" stroke-width="1.1" />
<line x1="1529.2" y1="2575.1" x2="1529.2" y2="2592.2" stroke="#6a0f6a" stroke-width="1.1" />
<line x1="1533.6" y1="2575.1" x2="1533.6" y2="2592.2" stroke="#6a0f6a" stroke-width="1.1" />
<line x1="1538.0" y1="2575.1" x2="1538.0" y2="2592.2" stroke="#6a0f6a" stroke-width="1.1" />
<line x1="1542.4" y1="2575.1" x2="1542.4" y2="2592.2" stroke="#6a0f6a" stroke-width="1.1" />
<line x1="1546.8" y1="2575.1" x2="1546.8" y2="2592.2" stroke="#6a0f6a" stroke-width="1.1" />
<line x1="1596.0" y1="2631.0" x2="1704.5" y2="2561.5" stroke="#3a3a3a" stroke-width="4.2" />
<polygon points="1719.7,2551.8 1706.0,2571.2 1705.4,2561.0 1696.3,2556.1" fill="#3a3a3a"/>
</svg>
</body></html>
